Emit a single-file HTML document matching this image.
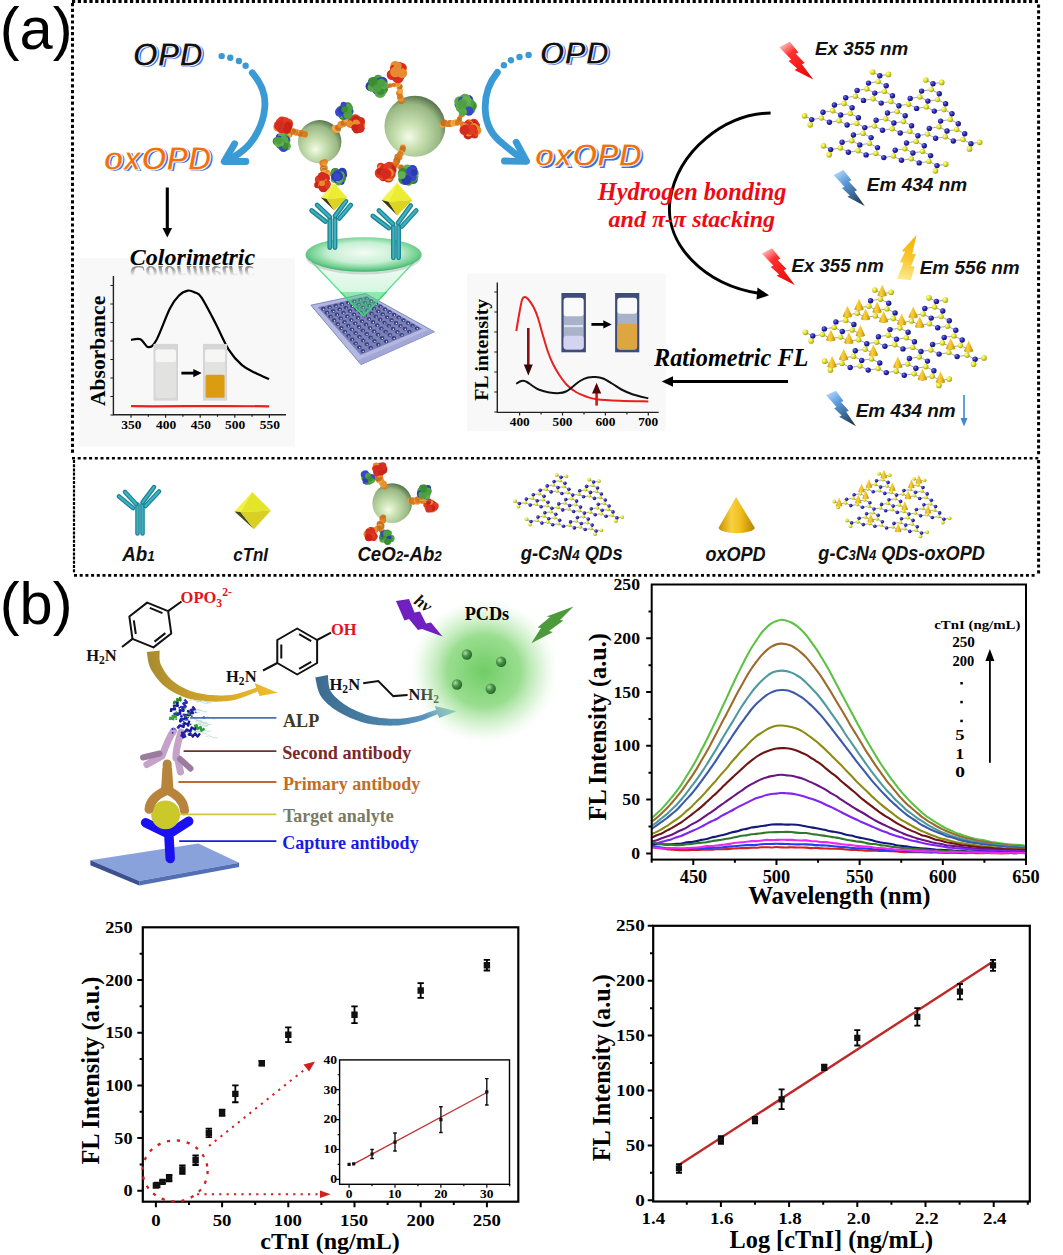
<!DOCTYPE html><html><head><meta charset="utf-8"><style>html,body{margin:0;padding:0;background:#fff;}svg{display:block;}</style></head><body><svg width="1063" height="1255" viewBox="0 0 1063 1255"><defs><radialGradient id="gN" cx="35%" cy="35%" r="65%"><stop offset="0" stop-color="#7c7cf0"/><stop offset="0.5" stop-color="#2828b4"/><stop offset="1" stop-color="#14146c"/></radialGradient>
<radialGradient id="gC" cx="35%" cy="35%" r="65%"><stop offset="0" stop-color="#ffffb0"/><stop offset="0.5" stop-color="#e4e42a"/><stop offset="1" stop-color="#a4a414"/></radialGradient>
<radialGradient id="gSph" cx="42%" cy="62%" r="62%" fx="40%" fy="68%"><stop offset="0" stop-color="#f4fbe8"/><stop offset="0.35" stop-color="#c8e0b0"/><stop offset="0.8" stop-color="#98b884"/><stop offset="1" stop-color="#5e7a52"/></radialGradient>
<radialGradient id="gEll" cx="50%" cy="45%" r="55%"><stop offset="0" stop-color="#f4fcf4"/><stop offset="0.55" stop-color="#c8efd4"/><stop offset="0.85" stop-color="#70d090"/><stop offset="1" stop-color="#40b070"/></radialGradient>
<linearGradient id="gCone" x1="0" y1="0" x2="0" y2="1"><stop offset="0" stop-color="#9ae8b0" stop-opacity="0.55"/><stop offset="1" stop-color="#40d070" stop-opacity="0.15"/></linearGradient>
<linearGradient id="gPlate" x1="0" y1="0" x2="1" y2="1"><stop offset="0" stop-color="#b0b4e0"/><stop offset="0.6" stop-color="#8c90c8"/><stop offset="1" stop-color="#a8acd8"/></linearGradient>
<linearGradient id="gBoltR" x1="0" y1="0" x2="1" y2="1"><stop offset="0" stop-color="#ffb0b0"/><stop offset="0.35" stop-color="#f02020"/><stop offset="1" stop-color="#e00000"/></linearGradient>
<linearGradient id="gBoltB" x1="0" y1="0" x2="1" y2="1"><stop offset="0" stop-color="#a8d8ff"/><stop offset="0.4" stop-color="#4a90d8"/><stop offset="1" stop-color="#1c2c48"/></linearGradient>
<linearGradient id="gBoltY" x1="0" y1="1" x2="1" y2="0"><stop offset="0" stop-color="#fff0a0"/><stop offset="0.4" stop-color="#f8c020"/><stop offset="1" stop-color="#f0a800"/></linearGradient>
<linearGradient id="gCol" x1="0" y1="0" x2="0" y2="1"><stop offset="0" stop-color="#000" stop-opacity="0.45"/><stop offset="1" stop-color="#000" stop-opacity="0"/></linearGradient>
<linearGradient id="gConeY" x1="0" y1="0" x2="1" y2="0"><stop offset="0" stop-color="#c89000"/><stop offset="0.35" stop-color="#f8d040"/><stop offset="0.6" stop-color="#f0c020"/><stop offset="1" stop-color="#b88000"/></linearGradient>
<linearGradient id="gTeal" x1="0" y1="0" x2="1" y2="0"><stop offset="0" stop-color="#1c7888"/><stop offset="0.5" stop-color="#3cb0c0"/><stop offset="1" stop-color="#1c7888"/></linearGradient>
<linearGradient id="gCone2" x1="0" y1="0" x2="0" y2="1"><stop offset="0" stop-color="#c8f0d4" stop-opacity="0.25"/><stop offset="0.7" stop-color="#70e098" stop-opacity="0.35"/><stop offset="1" stop-color="#30d070" stop-opacity="0.6"/></linearGradient><linearGradient id="gRefM" x1="0" y1="0" x2="0" y2="1"><stop offset="0" stop-color="#fff" stop-opacity="0.55"/><stop offset="1" stop-color="#fff" stop-opacity="0"/></linearGradient><mask id="mRef" maskUnits="userSpaceOnUse" x="100" y="264" width="200" height="20"><rect x="100" y="265" width="200" height="11" fill="url(#gRefM)"/></mask><linearGradient id="gb1" gradientUnits="userSpaceOnUse" x1="782.0" y1="41.4" x2="813.3" y2="79.5"><stop offset="0" stop-color="#ffd8d8"/><stop offset="0.3" stop-color="#ff3030"/><stop offset="1" stop-color="#e80000"/></linearGradient><linearGradient id="gb2" gradientUnits="userSpaceOnUse" x1="764.4" y1="247.9" x2="794.8" y2="285.0"><stop offset="0" stop-color="#ffd8d8"/><stop offset="0.3" stop-color="#ff3030"/><stop offset="1" stop-color="#e80000"/></linearGradient><linearGradient id="gb3" gradientUnits="userSpaceOnUse" x1="836.0" y1="169.4" x2="864.8" y2="206.0"><stop offset="0" stop-color="#c0e0ff"/><stop offset="0.35" stop-color="#5a9ada"/><stop offset="0.75" stop-color="#34587c"/><stop offset="1" stop-color="#1a2638"/></linearGradient><linearGradient id="gb4" gradientUnits="userSpaceOnUse" x1="828.6" y1="389.8" x2="856.0" y2="426.2"><stop offset="0" stop-color="#c0e0ff"/><stop offset="0.35" stop-color="#5a9ada"/><stop offset="0.75" stop-color="#34587c"/><stop offset="1" stop-color="#1a2638"/></linearGradient><linearGradient id="gb5" gradientUnits="userSpaceOnUse" x1="902.9" y1="283.4" x2="916.5" y2="235.0"><stop offset="0" stop-color="#fff0a0"/><stop offset="0.5" stop-color="#f8c830"/><stop offset="1" stop-color="#f4b000"/></linearGradient><linearGradient id="gYA" x1="0" y1="0" x2="1" y2="0"><stop offset="0" stop-color="#a88a30"/><stop offset="0.5" stop-color="#d4a628"/><stop offset="1" stop-color="#f0be30"/></linearGradient><linearGradient id="gBA" x1="0" y1="0" x2="1" y2="0"><stop offset="0" stop-color="#3c6c90"/><stop offset="0.6" stop-color="#4e88b0"/><stop offset="1" stop-color="#6aa4cc"/></linearGradient><radialGradient id="gGlow" cx="50%" cy="50%" r="50%"><stop offset="0" stop-color="#70cc64" stop-opacity="1"/><stop offset="0.5" stop-color="#88d87c" stop-opacity="0.85"/><stop offset="0.78" stop-color="#b4e8ac" stop-opacity="0.45"/><stop offset="1" stop-color="#d8f4d4" stop-opacity="0"/></radialGradient><radialGradient id="gDot" cx="35%" cy="35%" r="65%"><stop offset="0" stop-color="#b0dca8"/><stop offset="0.5" stop-color="#4a944a"/><stop offset="1" stop-color="#2a6a2a"/></radialGradient></defs><rect width="1063" height="1255" fill="#fff"/><path d="M72.00,0.10h3.2v3.0h-3.2zM77.80,0.10h3.2v3.0h-3.2zM83.60,0.10h3.2v3.0h-3.2zM89.40,0.10h3.2v3.0h-3.2zM95.20,0.10h3.2v3.0h-3.2zM101.00,0.10h3.2v3.0h-3.2zM106.80,0.10h3.2v3.0h-3.2zM112.60,0.10h3.2v3.0h-3.2zM118.40,0.10h3.2v3.0h-3.2zM124.20,0.10h3.2v3.0h-3.2zM130.00,0.10h3.2v3.0h-3.2zM135.80,0.10h3.2v3.0h-3.2zM141.60,0.10h3.2v3.0h-3.2zM147.40,0.10h3.2v3.0h-3.2zM153.20,0.10h3.2v3.0h-3.2zM159.00,0.10h3.2v3.0h-3.2zM164.80,0.10h3.2v3.0h-3.2zM170.60,0.10h3.2v3.0h-3.2zM176.40,0.10h3.2v3.0h-3.2zM182.20,0.10h3.2v3.0h-3.2zM188.00,0.10h3.2v3.0h-3.2zM193.80,0.10h3.2v3.0h-3.2zM199.60,0.10h3.2v3.0h-3.2zM205.40,0.10h3.2v3.0h-3.2zM211.20,0.10h3.2v3.0h-3.2zM217.00,0.10h3.2v3.0h-3.2zM222.80,0.10h3.2v3.0h-3.2zM228.60,0.10h3.2v3.0h-3.2zM234.40,0.10h3.2v3.0h-3.2zM240.20,0.10h3.2v3.0h-3.2zM246.00,0.10h3.2v3.0h-3.2zM251.80,0.10h3.2v3.0h-3.2zM257.60,0.10h3.2v3.0h-3.2zM263.40,0.10h3.2v3.0h-3.2zM269.20,0.10h3.2v3.0h-3.2zM275.00,0.10h3.2v3.0h-3.2zM280.80,0.10h3.2v3.0h-3.2zM286.60,0.10h3.2v3.0h-3.2zM292.40,0.10h3.2v3.0h-3.2zM298.20,0.10h3.2v3.0h-3.2zM304.00,0.10h3.2v3.0h-3.2zM309.80,0.10h3.2v3.0h-3.2zM315.60,0.10h3.2v3.0h-3.2zM321.40,0.10h3.2v3.0h-3.2zM327.20,0.10h3.2v3.0h-3.2zM333.00,0.10h3.2v3.0h-3.2zM338.80,0.10h3.2v3.0h-3.2zM344.60,0.10h3.2v3.0h-3.2zM350.40,0.10h3.2v3.0h-3.2zM356.20,0.10h3.2v3.0h-3.2zM362.00,0.10h3.2v3.0h-3.2zM367.80,0.10h3.2v3.0h-3.2zM373.60,0.10h3.2v3.0h-3.2zM379.40,0.10h3.2v3.0h-3.2zM385.20,0.10h3.2v3.0h-3.2zM391.00,0.10h3.2v3.0h-3.2zM396.80,0.10h3.2v3.0h-3.2zM402.60,0.10h3.2v3.0h-3.2zM408.40,0.10h3.2v3.0h-3.2zM414.20,0.10h3.2v3.0h-3.2zM420.00,0.10h3.2v3.0h-3.2zM425.80,0.10h3.2v3.0h-3.2zM431.60,0.10h3.2v3.0h-3.2zM437.40,0.10h3.2v3.0h-3.2zM443.20,0.10h3.2v3.0h-3.2zM449.00,0.10h3.2v3.0h-3.2zM454.80,0.10h3.2v3.0h-3.2zM460.60,0.10h3.2v3.0h-3.2zM466.40,0.10h3.2v3.0h-3.2zM472.20,0.10h3.2v3.0h-3.2zM478.00,0.10h3.2v3.0h-3.2zM483.80,0.10h3.2v3.0h-3.2zM489.60,0.10h3.2v3.0h-3.2zM495.40,0.10h3.2v3.0h-3.2zM501.20,0.10h3.2v3.0h-3.2zM507.00,0.10h3.2v3.0h-3.2zM512.80,0.10h3.2v3.0h-3.2zM518.60,0.10h3.2v3.0h-3.2zM524.40,0.10h3.2v3.0h-3.2zM530.20,0.10h3.2v3.0h-3.2zM536.00,0.10h3.2v3.0h-3.2zM541.80,0.10h3.2v3.0h-3.2zM547.60,0.10h3.2v3.0h-3.2zM553.40,0.10h3.2v3.0h-3.2zM559.20,0.10h3.2v3.0h-3.2zM565.00,0.10h3.2v3.0h-3.2zM570.80,0.10h3.2v3.0h-3.2zM576.60,0.10h3.2v3.0h-3.2zM582.40,0.10h3.2v3.0h-3.2zM588.20,0.10h3.2v3.0h-3.2zM594.00,0.10h3.2v3.0h-3.2zM599.80,0.10h3.2v3.0h-3.2zM605.60,0.10h3.2v3.0h-3.2zM611.40,0.10h3.2v3.0h-3.2zM617.20,0.10h3.2v3.0h-3.2zM623.00,0.10h3.2v3.0h-3.2zM628.80,0.10h3.2v3.0h-3.2zM634.60,0.10h3.2v3.0h-3.2zM640.40,0.10h3.2v3.0h-3.2zM646.20,0.10h3.2v3.0h-3.2zM652.00,0.10h3.2v3.0h-3.2zM657.80,0.10h3.2v3.0h-3.2zM663.60,0.10h3.2v3.0h-3.2zM669.40,0.10h3.2v3.0h-3.2zM675.20,0.10h3.2v3.0h-3.2zM681.00,0.10h3.2v3.0h-3.2zM686.80,0.10h3.2v3.0h-3.2zM692.60,0.10h3.2v3.0h-3.2zM698.40,0.10h3.2v3.0h-3.2zM704.20,0.10h3.2v3.0h-3.2zM710.00,0.10h3.2v3.0h-3.2zM715.80,0.10h3.2v3.0h-3.2zM721.60,0.10h3.2v3.0h-3.2zM727.40,0.10h3.2v3.0h-3.2zM733.20,0.10h3.2v3.0h-3.2zM739.00,0.10h3.2v3.0h-3.2zM744.80,0.10h3.2v3.0h-3.2zM750.60,0.10h3.2v3.0h-3.2zM756.40,0.10h3.2v3.0h-3.2zM762.20,0.10h3.2v3.0h-3.2zM768.00,0.10h3.2v3.0h-3.2zM773.80,0.10h3.2v3.0h-3.2zM779.60,0.10h3.2v3.0h-3.2zM785.40,0.10h3.2v3.0h-3.2zM791.20,0.10h3.2v3.0h-3.2zM797.00,0.10h3.2v3.0h-3.2zM802.80,0.10h3.2v3.0h-3.2zM808.60,0.10h3.2v3.0h-3.2zM814.40,0.10h3.2v3.0h-3.2zM820.20,0.10h3.2v3.0h-3.2zM826.00,0.10h3.2v3.0h-3.2zM831.80,0.10h3.2v3.0h-3.2zM837.60,0.10h3.2v3.0h-3.2zM843.40,0.10h3.2v3.0h-3.2zM849.20,0.10h3.2v3.0h-3.2zM855.00,0.10h3.2v3.0h-3.2zM860.80,0.10h3.2v3.0h-3.2zM866.60,0.10h3.2v3.0h-3.2zM872.40,0.10h3.2v3.0h-3.2zM878.20,0.10h3.2v3.0h-3.2zM884.00,0.10h3.2v3.0h-3.2zM889.80,0.10h3.2v3.0h-3.2zM895.60,0.10h3.2v3.0h-3.2zM901.40,0.10h3.2v3.0h-3.2zM907.20,0.10h3.2v3.0h-3.2zM913.00,0.10h3.2v3.0h-3.2zM918.80,0.10h3.2v3.0h-3.2zM924.60,0.10h3.2v3.0h-3.2zM930.40,0.10h3.2v3.0h-3.2zM936.20,0.10h3.2v3.0h-3.2zM942.00,0.10h3.2v3.0h-3.2zM947.80,0.10h3.2v3.0h-3.2zM953.60,0.10h3.2v3.0h-3.2zM959.40,0.10h3.2v3.0h-3.2zM965.20,0.10h3.2v3.0h-3.2zM971.00,0.10h3.2v3.0h-3.2zM976.80,0.10h3.2v3.0h-3.2zM982.60,0.10h3.2v3.0h-3.2zM988.40,0.10h3.2v3.0h-3.2zM994.20,0.10h3.2v3.0h-3.2zM1000.00,0.10h3.2v3.0h-3.2zM1005.80,0.10h3.2v3.0h-3.2zM1011.60,0.10h3.2v3.0h-3.2zM1017.40,0.10h3.2v3.0h-3.2zM1023.20,0.10h3.2v3.0h-3.2zM1029.00,0.10h3.2v3.0h-3.2zM1034.80,0.10h3.2v3.0h-3.2z" fill="#000"/>
<path d="M71.00,3.00h3.0v3.2h-3.0zM71.00,8.80h3.0v3.2h-3.0zM71.00,14.60h3.0v3.2h-3.0zM71.00,20.40h3.0v3.2h-3.0zM71.00,26.20h3.0v3.2h-3.0zM71.00,32.00h3.0v3.2h-3.0zM71.00,37.80h3.0v3.2h-3.0zM71.00,43.60h3.0v3.2h-3.0zM71.00,49.40h3.0v3.2h-3.0zM71.00,55.20h3.0v3.2h-3.0zM71.00,61.00h3.0v3.2h-3.0zM71.00,66.80h3.0v3.2h-3.0zM71.00,72.60h3.0v3.2h-3.0zM71.00,78.40h3.0v3.2h-3.0zM71.00,84.20h3.0v3.2h-3.0zM71.00,90.00h3.0v3.2h-3.0zM71.00,95.80h3.0v3.2h-3.0zM71.00,101.60h3.0v3.2h-3.0zM71.00,107.40h3.0v3.2h-3.0zM71.00,113.20h3.0v3.2h-3.0zM71.00,119.00h3.0v3.2h-3.0zM71.00,124.80h3.0v3.2h-3.0zM71.00,130.60h3.0v3.2h-3.0zM71.00,136.40h3.0v3.2h-3.0zM71.00,142.20h3.0v3.2h-3.0zM71.00,148.00h3.0v3.2h-3.0zM71.00,153.80h3.0v3.2h-3.0zM71.00,159.60h3.0v3.2h-3.0zM71.00,165.40h3.0v3.2h-3.0zM71.00,171.20h3.0v3.2h-3.0zM71.00,177.00h3.0v3.2h-3.0zM71.00,182.80h3.0v3.2h-3.0zM71.00,188.60h3.0v3.2h-3.0zM71.00,194.40h3.0v3.2h-3.0zM71.00,200.20h3.0v3.2h-3.0zM71.00,206.00h3.0v3.2h-3.0zM71.00,211.80h3.0v3.2h-3.0zM71.00,217.60h3.0v3.2h-3.0zM71.00,223.40h3.0v3.2h-3.0zM71.00,229.20h3.0v3.2h-3.0zM71.00,235.00h3.0v3.2h-3.0zM71.00,240.80h3.0v3.2h-3.0zM71.00,246.60h3.0v3.2h-3.0zM71.00,252.40h3.0v3.2h-3.0zM71.00,258.20h3.0v3.2h-3.0zM71.00,264.00h3.0v3.2h-3.0zM71.00,269.80h3.0v3.2h-3.0zM71.00,275.60h3.0v3.2h-3.0zM71.00,281.40h3.0v3.2h-3.0zM71.00,287.20h3.0v3.2h-3.0zM71.00,293.00h3.0v3.2h-3.0zM71.00,298.80h3.0v3.2h-3.0zM71.00,304.60h3.0v3.2h-3.0zM71.00,310.40h3.0v3.2h-3.0zM71.00,316.20h3.0v3.2h-3.0zM71.00,322.00h3.0v3.2h-3.0zM71.00,327.80h3.0v3.2h-3.0zM71.00,333.60h3.0v3.2h-3.0zM71.00,339.40h3.0v3.2h-3.0zM71.00,345.20h3.0v3.2h-3.0zM71.00,351.00h3.0v3.2h-3.0zM71.00,356.80h3.0v3.2h-3.0zM71.00,362.60h3.0v3.2h-3.0zM71.00,368.40h3.0v3.2h-3.0zM71.00,374.20h3.0v3.2h-3.0zM71.00,380.00h3.0v3.2h-3.0zM71.00,385.80h3.0v3.2h-3.0zM71.00,391.60h3.0v3.2h-3.0zM71.00,397.40h3.0v3.2h-3.0zM71.00,403.20h3.0v3.2h-3.0zM71.00,409.00h3.0v3.2h-3.0zM71.00,414.80h3.0v3.2h-3.0zM71.00,420.60h3.0v3.2h-3.0zM71.00,426.40h3.0v3.2h-3.0zM71.00,432.20h3.0v3.2h-3.0zM71.00,438.00h3.0v3.2h-3.0zM71.00,443.80h3.0v3.2h-3.0zM71.00,449.60h3.0v3.2h-3.0z" fill="#000"/>
<path d="M1037.10,4.50h3.0v3.2h-3.0zM1037.10,10.30h3.0v3.2h-3.0zM1037.10,16.10h3.0v3.2h-3.0zM1037.10,21.90h3.0v3.2h-3.0zM1037.10,27.70h3.0v3.2h-3.0zM1037.10,33.50h3.0v3.2h-3.0zM1037.10,39.30h3.0v3.2h-3.0zM1037.10,45.10h3.0v3.2h-3.0zM1037.10,50.90h3.0v3.2h-3.0zM1037.10,56.70h3.0v3.2h-3.0zM1037.10,62.50h3.0v3.2h-3.0zM1037.10,68.30h3.0v3.2h-3.0zM1037.10,74.10h3.0v3.2h-3.0zM1037.10,79.90h3.0v3.2h-3.0zM1037.10,85.70h3.0v3.2h-3.0zM1037.10,91.50h3.0v3.2h-3.0zM1037.10,97.30h3.0v3.2h-3.0zM1037.10,103.10h3.0v3.2h-3.0zM1037.10,108.90h3.0v3.2h-3.0zM1037.10,114.70h3.0v3.2h-3.0zM1037.10,120.50h3.0v3.2h-3.0zM1037.10,126.30h3.0v3.2h-3.0zM1037.10,132.10h3.0v3.2h-3.0zM1037.10,137.90h3.0v3.2h-3.0zM1037.10,143.70h3.0v3.2h-3.0zM1037.10,149.50h3.0v3.2h-3.0zM1037.10,155.30h3.0v3.2h-3.0zM1037.10,161.10h3.0v3.2h-3.0zM1037.10,166.90h3.0v3.2h-3.0zM1037.10,172.70h3.0v3.2h-3.0zM1037.10,178.50h3.0v3.2h-3.0zM1037.10,184.30h3.0v3.2h-3.0zM1037.10,190.10h3.0v3.2h-3.0zM1037.10,195.90h3.0v3.2h-3.0zM1037.10,201.70h3.0v3.2h-3.0zM1037.10,207.50h3.0v3.2h-3.0zM1037.10,213.30h3.0v3.2h-3.0zM1037.10,219.10h3.0v3.2h-3.0zM1037.10,224.90h3.0v3.2h-3.0zM1037.10,230.70h3.0v3.2h-3.0zM1037.10,236.50h3.0v3.2h-3.0zM1037.10,242.30h3.0v3.2h-3.0zM1037.10,248.10h3.0v3.2h-3.0zM1037.10,253.90h3.0v3.2h-3.0zM1037.10,259.70h3.0v3.2h-3.0zM1037.10,265.50h3.0v3.2h-3.0zM1037.10,271.30h3.0v3.2h-3.0zM1037.10,277.10h3.0v3.2h-3.0zM1037.10,282.90h3.0v3.2h-3.0zM1037.10,288.70h3.0v3.2h-3.0zM1037.10,294.50h3.0v3.2h-3.0zM1037.10,300.30h3.0v3.2h-3.0zM1037.10,306.10h3.0v3.2h-3.0zM1037.10,311.90h3.0v3.2h-3.0zM1037.10,317.70h3.0v3.2h-3.0zM1037.10,323.50h3.0v3.2h-3.0zM1037.10,329.30h3.0v3.2h-3.0zM1037.10,335.10h3.0v3.2h-3.0zM1037.10,340.90h3.0v3.2h-3.0zM1037.10,346.70h3.0v3.2h-3.0zM1037.10,352.50h3.0v3.2h-3.0zM1037.10,358.30h3.0v3.2h-3.0zM1037.10,364.10h3.0v3.2h-3.0zM1037.10,369.90h3.0v3.2h-3.0zM1037.10,375.70h3.0v3.2h-3.0zM1037.10,381.50h3.0v3.2h-3.0zM1037.10,387.30h3.0v3.2h-3.0zM1037.10,393.10h3.0v3.2h-3.0zM1037.10,398.90h3.0v3.2h-3.0zM1037.10,404.70h3.0v3.2h-3.0zM1037.10,410.50h3.0v3.2h-3.0zM1037.10,416.30h3.0v3.2h-3.0zM1037.10,422.10h3.0v3.2h-3.0zM1037.10,427.90h3.0v3.2h-3.0zM1037.10,433.70h3.0v3.2h-3.0zM1037.10,439.50h3.0v3.2h-3.0zM1037.10,445.30h3.0v3.2h-3.0zM1037.10,451.10h3.0v3.2h-3.0z" fill="#000"/>
<path d="M72.00,456.90h3.0v2.6h-3.0zM77.70,456.90h3.0v2.6h-3.0zM83.40,456.90h3.0v2.6h-3.0zM89.10,456.90h3.0v2.6h-3.0zM94.80,456.90h3.0v2.6h-3.0zM100.50,456.90h3.0v2.6h-3.0zM106.20,456.90h3.0v2.6h-3.0zM111.90,456.90h3.0v2.6h-3.0zM117.60,456.90h3.0v2.6h-3.0zM123.30,456.90h3.0v2.6h-3.0zM129.00,456.90h3.0v2.6h-3.0zM134.70,456.90h3.0v2.6h-3.0zM140.40,456.90h3.0v2.6h-3.0zM146.10,456.90h3.0v2.6h-3.0zM151.80,456.90h3.0v2.6h-3.0zM157.50,456.90h3.0v2.6h-3.0zM163.20,456.90h3.0v2.6h-3.0zM168.90,456.90h3.0v2.6h-3.0zM174.60,456.90h3.0v2.6h-3.0zM180.30,456.90h3.0v2.6h-3.0zM186.00,456.90h3.0v2.6h-3.0zM191.70,456.90h3.0v2.6h-3.0zM197.40,456.90h3.0v2.6h-3.0zM203.10,456.90h3.0v2.6h-3.0zM208.80,456.90h3.0v2.6h-3.0zM214.50,456.90h3.0v2.6h-3.0zM220.20,456.90h3.0v2.6h-3.0zM225.90,456.90h3.0v2.6h-3.0zM231.60,456.90h3.0v2.6h-3.0zM237.30,456.90h3.0v2.6h-3.0zM243.00,456.90h3.0v2.6h-3.0zM248.70,456.90h3.0v2.6h-3.0zM254.40,456.90h3.0v2.6h-3.0zM260.10,456.90h3.0v2.6h-3.0zM265.80,456.90h3.0v2.6h-3.0zM271.50,456.90h3.0v2.6h-3.0zM277.20,456.90h3.0v2.6h-3.0zM282.90,456.90h3.0v2.6h-3.0zM288.60,456.90h3.0v2.6h-3.0zM294.30,456.90h3.0v2.6h-3.0zM300.00,456.90h3.0v2.6h-3.0zM305.70,456.90h3.0v2.6h-3.0zM311.40,456.90h3.0v2.6h-3.0zM317.10,456.90h3.0v2.6h-3.0zM322.80,456.90h3.0v2.6h-3.0zM328.50,456.90h3.0v2.6h-3.0zM334.20,456.90h3.0v2.6h-3.0zM339.90,456.90h3.0v2.6h-3.0zM345.60,456.90h3.0v2.6h-3.0zM351.30,456.90h3.0v2.6h-3.0zM357.00,456.90h3.0v2.6h-3.0zM362.70,456.90h3.0v2.6h-3.0zM368.40,456.90h3.0v2.6h-3.0zM374.10,456.90h3.0v2.6h-3.0zM379.80,456.90h3.0v2.6h-3.0zM385.50,456.90h3.0v2.6h-3.0zM391.20,456.90h3.0v2.6h-3.0zM396.90,456.90h3.0v2.6h-3.0zM402.60,456.90h3.0v2.6h-3.0zM408.30,456.90h3.0v2.6h-3.0zM414.00,456.90h3.0v2.6h-3.0zM419.70,456.90h3.0v2.6h-3.0zM425.40,456.90h3.0v2.6h-3.0zM431.10,456.90h3.0v2.6h-3.0zM436.80,456.90h3.0v2.6h-3.0zM442.50,456.90h3.0v2.6h-3.0zM448.20,456.90h3.0v2.6h-3.0zM453.90,456.90h3.0v2.6h-3.0zM459.60,456.90h3.0v2.6h-3.0zM465.30,456.90h3.0v2.6h-3.0zM471.00,456.90h3.0v2.6h-3.0zM476.70,456.90h3.0v2.6h-3.0zM482.40,456.90h3.0v2.6h-3.0zM488.10,456.90h3.0v2.6h-3.0zM493.80,456.90h3.0v2.6h-3.0zM499.50,456.90h3.0v2.6h-3.0zM505.20,456.90h3.0v2.6h-3.0zM510.90,456.90h3.0v2.6h-3.0zM516.60,456.90h3.0v2.6h-3.0zM522.30,456.90h3.0v2.6h-3.0zM528.00,456.90h3.0v2.6h-3.0zM533.70,456.90h3.0v2.6h-3.0zM539.40,456.90h3.0v2.6h-3.0zM545.10,456.90h3.0v2.6h-3.0zM550.80,456.90h3.0v2.6h-3.0zM556.50,456.90h3.0v2.6h-3.0zM562.20,456.90h3.0v2.6h-3.0zM567.90,456.90h3.0v2.6h-3.0zM573.60,456.90h3.0v2.6h-3.0zM579.30,456.90h3.0v2.6h-3.0zM585.00,456.90h3.0v2.6h-3.0zM590.70,456.90h3.0v2.6h-3.0zM596.40,456.90h3.0v2.6h-3.0zM602.10,456.90h3.0v2.6h-3.0zM607.80,456.90h3.0v2.6h-3.0zM613.50,456.90h3.0v2.6h-3.0zM619.20,456.90h3.0v2.6h-3.0zM624.90,456.90h3.0v2.6h-3.0zM630.60,456.90h3.0v2.6h-3.0zM636.30,456.90h3.0v2.6h-3.0zM642.00,456.90h3.0v2.6h-3.0zM647.70,456.90h3.0v2.6h-3.0zM653.40,456.90h3.0v2.6h-3.0zM659.10,456.90h3.0v2.6h-3.0zM664.80,456.90h3.0v2.6h-3.0zM670.50,456.90h3.0v2.6h-3.0zM676.20,456.90h3.0v2.6h-3.0zM681.90,456.90h3.0v2.6h-3.0zM687.60,456.90h3.0v2.6h-3.0zM693.30,456.90h3.0v2.6h-3.0zM699.00,456.90h3.0v2.6h-3.0zM704.70,456.90h3.0v2.6h-3.0zM710.40,456.90h3.0v2.6h-3.0zM716.10,456.90h3.0v2.6h-3.0zM721.80,456.90h3.0v2.6h-3.0zM727.50,456.90h3.0v2.6h-3.0zM733.20,456.90h3.0v2.6h-3.0zM738.90,456.90h3.0v2.6h-3.0zM744.60,456.90h3.0v2.6h-3.0zM750.30,456.90h3.0v2.6h-3.0zM756.00,456.90h3.0v2.6h-3.0zM761.70,456.90h3.0v2.6h-3.0zM767.40,456.90h3.0v2.6h-3.0zM773.10,456.90h3.0v2.6h-3.0zM778.80,456.90h3.0v2.6h-3.0zM784.50,456.90h3.0v2.6h-3.0zM790.20,456.90h3.0v2.6h-3.0zM795.90,456.90h3.0v2.6h-3.0zM801.60,456.90h3.0v2.6h-3.0zM807.30,456.90h3.0v2.6h-3.0zM813.00,456.90h3.0v2.6h-3.0zM818.70,456.90h3.0v2.6h-3.0zM824.40,456.90h3.0v2.6h-3.0zM830.10,456.90h3.0v2.6h-3.0zM835.80,456.90h3.0v2.6h-3.0zM841.50,456.90h3.0v2.6h-3.0zM847.20,456.90h3.0v2.6h-3.0zM852.90,456.90h3.0v2.6h-3.0zM858.60,456.90h3.0v2.6h-3.0zM864.30,456.90h3.0v2.6h-3.0zM870.00,456.90h3.0v2.6h-3.0zM875.70,456.90h3.0v2.6h-3.0zM881.40,456.90h3.0v2.6h-3.0zM887.10,456.90h3.0v2.6h-3.0zM892.80,456.90h3.0v2.6h-3.0zM898.50,456.90h3.0v2.6h-3.0zM904.20,456.90h3.0v2.6h-3.0zM909.90,456.90h3.0v2.6h-3.0zM915.60,456.90h3.0v2.6h-3.0zM921.30,456.90h3.0v2.6h-3.0zM927.00,456.90h3.0v2.6h-3.0zM932.70,456.90h3.0v2.6h-3.0zM938.40,456.90h3.0v2.6h-3.0zM944.10,456.90h3.0v2.6h-3.0zM949.80,456.90h3.0v2.6h-3.0zM955.50,456.90h3.0v2.6h-3.0zM961.20,456.90h3.0v2.6h-3.0zM966.90,456.90h3.0v2.6h-3.0zM972.60,456.90h3.0v2.6h-3.0zM978.30,456.90h3.0v2.6h-3.0zM984.00,456.90h3.0v2.6h-3.0zM989.70,456.90h3.0v2.6h-3.0zM995.40,456.90h3.0v2.6h-3.0zM1001.10,456.90h3.0v2.6h-3.0zM1006.80,456.90h3.0v2.6h-3.0zM1012.50,456.90h3.0v2.6h-3.0zM1018.20,456.90h3.0v2.6h-3.0zM1023.90,456.90h3.0v2.6h-3.0zM1029.60,456.90h3.0v2.6h-3.0zM1035.30,456.90h3.0v2.6h-3.0z" fill="#000"/>
<path d="M72.90,460.00h2.2v3.0h-2.2zM72.90,464.20h2.2v3.0h-2.2zM72.90,468.40h2.2v3.0h-2.2zM72.90,472.60h2.2v3.0h-2.2zM72.90,476.80h2.2v3.0h-2.2zM72.90,481.00h2.2v3.0h-2.2zM72.90,485.20h2.2v3.0h-2.2zM72.90,489.40h2.2v3.0h-2.2zM72.90,493.60h2.2v3.0h-2.2zM72.90,497.80h2.2v3.0h-2.2zM72.90,502.00h2.2v3.0h-2.2zM72.90,506.20h2.2v3.0h-2.2zM72.90,510.40h2.2v3.0h-2.2zM72.90,514.60h2.2v3.0h-2.2zM72.90,518.80h2.2v3.0h-2.2zM72.90,523.00h2.2v3.0h-2.2zM72.90,527.20h2.2v3.0h-2.2zM72.90,531.40h2.2v3.0h-2.2zM72.90,535.60h2.2v3.0h-2.2zM72.90,539.80h2.2v3.0h-2.2zM72.90,544.00h2.2v3.0h-2.2zM72.90,548.20h2.2v3.0h-2.2zM72.90,552.40h2.2v3.0h-2.2zM72.90,556.60h2.2v3.0h-2.2zM72.90,560.80h2.2v3.0h-2.2zM72.90,565.00h2.2v3.0h-2.2zM72.90,569.20h2.2v3.0h-2.2z" fill="#000"/>
<path d="M1037.10,460.00h3.0v3.2h-3.0zM1037.10,465.80h3.0v3.2h-3.0zM1037.10,471.60h3.0v3.2h-3.0zM1037.10,477.40h3.0v3.2h-3.0zM1037.10,483.20h3.0v3.2h-3.0zM1037.10,489.00h3.0v3.2h-3.0zM1037.10,494.80h3.0v3.2h-3.0zM1037.10,500.60h3.0v3.2h-3.0zM1037.10,506.40h3.0v3.2h-3.0zM1037.10,512.20h3.0v3.2h-3.0zM1037.10,518.00h3.0v3.2h-3.0zM1037.10,523.80h3.0v3.2h-3.0zM1037.10,529.60h3.0v3.2h-3.0zM1037.10,535.40h3.0v3.2h-3.0zM1037.10,541.20h3.0v3.2h-3.0zM1037.10,547.00h3.0v3.2h-3.0zM1037.10,552.80h3.0v3.2h-3.0zM1037.10,558.60h3.0v3.2h-3.0zM1037.10,564.40h3.0v3.2h-3.0zM1037.10,570.20h3.0v3.2h-3.0z" fill="#000"/>
<path d="M74.00,574.10h3.0v2.6h-3.0zM79.70,574.10h3.0v2.6h-3.0zM85.40,574.10h3.0v2.6h-3.0zM91.10,574.10h3.0v2.6h-3.0zM96.80,574.10h3.0v2.6h-3.0zM102.50,574.10h3.0v2.6h-3.0zM108.20,574.10h3.0v2.6h-3.0zM113.90,574.10h3.0v2.6h-3.0zM119.60,574.10h3.0v2.6h-3.0zM125.30,574.10h3.0v2.6h-3.0zM131.00,574.10h3.0v2.6h-3.0zM136.70,574.10h3.0v2.6h-3.0zM142.40,574.10h3.0v2.6h-3.0zM148.10,574.10h3.0v2.6h-3.0zM153.80,574.10h3.0v2.6h-3.0zM159.50,574.10h3.0v2.6h-3.0zM165.20,574.10h3.0v2.6h-3.0zM170.90,574.10h3.0v2.6h-3.0zM176.60,574.10h3.0v2.6h-3.0zM182.30,574.10h3.0v2.6h-3.0zM188.00,574.10h3.0v2.6h-3.0zM193.70,574.10h3.0v2.6h-3.0zM199.40,574.10h3.0v2.6h-3.0zM205.10,574.10h3.0v2.6h-3.0zM210.80,574.10h3.0v2.6h-3.0zM216.50,574.10h3.0v2.6h-3.0zM222.20,574.10h3.0v2.6h-3.0zM227.90,574.10h3.0v2.6h-3.0zM233.60,574.10h3.0v2.6h-3.0zM239.30,574.10h3.0v2.6h-3.0zM245.00,574.10h3.0v2.6h-3.0zM250.70,574.10h3.0v2.6h-3.0zM256.40,574.10h3.0v2.6h-3.0zM262.10,574.10h3.0v2.6h-3.0zM267.80,574.10h3.0v2.6h-3.0zM273.50,574.10h3.0v2.6h-3.0zM279.20,574.10h3.0v2.6h-3.0zM284.90,574.10h3.0v2.6h-3.0zM290.60,574.10h3.0v2.6h-3.0zM296.30,574.10h3.0v2.6h-3.0zM302.00,574.10h3.0v2.6h-3.0zM307.70,574.10h3.0v2.6h-3.0zM313.40,574.10h3.0v2.6h-3.0zM319.10,574.10h3.0v2.6h-3.0zM324.80,574.10h3.0v2.6h-3.0zM330.50,574.10h3.0v2.6h-3.0zM336.20,574.10h3.0v2.6h-3.0zM341.90,574.10h3.0v2.6h-3.0zM347.60,574.10h3.0v2.6h-3.0zM353.30,574.10h3.0v2.6h-3.0zM359.00,574.10h3.0v2.6h-3.0zM364.70,574.10h3.0v2.6h-3.0zM370.40,574.10h3.0v2.6h-3.0zM376.10,574.10h3.0v2.6h-3.0zM381.80,574.10h3.0v2.6h-3.0zM387.50,574.10h3.0v2.6h-3.0zM393.20,574.10h3.0v2.6h-3.0zM398.90,574.10h3.0v2.6h-3.0zM404.60,574.10h3.0v2.6h-3.0zM410.30,574.10h3.0v2.6h-3.0zM416.00,574.10h3.0v2.6h-3.0zM421.70,574.10h3.0v2.6h-3.0zM427.40,574.10h3.0v2.6h-3.0zM433.10,574.10h3.0v2.6h-3.0zM438.80,574.10h3.0v2.6h-3.0zM444.50,574.10h3.0v2.6h-3.0zM450.20,574.10h3.0v2.6h-3.0zM455.90,574.10h3.0v2.6h-3.0zM461.60,574.10h3.0v2.6h-3.0zM467.30,574.10h3.0v2.6h-3.0zM473.00,574.10h3.0v2.6h-3.0zM478.70,574.10h3.0v2.6h-3.0zM484.40,574.10h3.0v2.6h-3.0zM490.10,574.10h3.0v2.6h-3.0zM495.80,574.10h3.0v2.6h-3.0zM501.50,574.10h3.0v2.6h-3.0zM507.20,574.10h3.0v2.6h-3.0zM512.90,574.10h3.0v2.6h-3.0zM518.60,574.10h3.0v2.6h-3.0zM524.30,574.10h3.0v2.6h-3.0zM530.00,574.10h3.0v2.6h-3.0zM535.70,574.10h3.0v2.6h-3.0zM541.40,574.10h3.0v2.6h-3.0zM547.10,574.10h3.0v2.6h-3.0zM552.80,574.10h3.0v2.6h-3.0zM558.50,574.10h3.0v2.6h-3.0zM564.20,574.10h3.0v2.6h-3.0zM569.90,574.10h3.0v2.6h-3.0zM575.60,574.10h3.0v2.6h-3.0zM581.30,574.10h3.0v2.6h-3.0zM587.00,574.10h3.0v2.6h-3.0zM592.70,574.10h3.0v2.6h-3.0zM598.40,574.10h3.0v2.6h-3.0zM604.10,574.10h3.0v2.6h-3.0zM609.80,574.10h3.0v2.6h-3.0zM615.50,574.10h3.0v2.6h-3.0zM621.20,574.10h3.0v2.6h-3.0zM626.90,574.10h3.0v2.6h-3.0zM632.60,574.10h3.0v2.6h-3.0zM638.30,574.10h3.0v2.6h-3.0zM644.00,574.10h3.0v2.6h-3.0zM649.70,574.10h3.0v2.6h-3.0zM655.40,574.10h3.0v2.6h-3.0zM661.10,574.10h3.0v2.6h-3.0zM666.80,574.10h3.0v2.6h-3.0zM672.50,574.10h3.0v2.6h-3.0zM678.20,574.10h3.0v2.6h-3.0zM683.90,574.10h3.0v2.6h-3.0zM689.60,574.10h3.0v2.6h-3.0zM695.30,574.10h3.0v2.6h-3.0zM701.00,574.10h3.0v2.6h-3.0zM706.70,574.10h3.0v2.6h-3.0zM712.40,574.10h3.0v2.6h-3.0zM718.10,574.10h3.0v2.6h-3.0zM723.80,574.10h3.0v2.6h-3.0zM729.50,574.10h3.0v2.6h-3.0zM735.20,574.10h3.0v2.6h-3.0zM740.90,574.10h3.0v2.6h-3.0zM746.60,574.10h3.0v2.6h-3.0zM752.30,574.10h3.0v2.6h-3.0zM758.00,574.10h3.0v2.6h-3.0zM763.70,574.10h3.0v2.6h-3.0zM769.40,574.10h3.0v2.6h-3.0zM775.10,574.10h3.0v2.6h-3.0zM780.80,574.10h3.0v2.6h-3.0zM786.50,574.10h3.0v2.6h-3.0zM792.20,574.10h3.0v2.6h-3.0zM797.90,574.10h3.0v2.6h-3.0zM803.60,574.10h3.0v2.6h-3.0zM809.30,574.10h3.0v2.6h-3.0zM815.00,574.10h3.0v2.6h-3.0zM820.70,574.10h3.0v2.6h-3.0zM826.40,574.10h3.0v2.6h-3.0zM832.10,574.10h3.0v2.6h-3.0zM837.80,574.10h3.0v2.6h-3.0zM843.50,574.10h3.0v2.6h-3.0zM849.20,574.10h3.0v2.6h-3.0zM854.90,574.10h3.0v2.6h-3.0zM860.60,574.10h3.0v2.6h-3.0zM866.30,574.10h3.0v2.6h-3.0zM872.00,574.10h3.0v2.6h-3.0zM877.70,574.10h3.0v2.6h-3.0zM883.40,574.10h3.0v2.6h-3.0zM889.10,574.10h3.0v2.6h-3.0zM894.80,574.10h3.0v2.6h-3.0zM900.50,574.10h3.0v2.6h-3.0zM906.20,574.10h3.0v2.6h-3.0zM911.90,574.10h3.0v2.6h-3.0zM917.60,574.10h3.0v2.6h-3.0zM923.30,574.10h3.0v2.6h-3.0zM929.00,574.10h3.0v2.6h-3.0zM934.70,574.10h3.0v2.6h-3.0zM940.40,574.10h3.0v2.6h-3.0zM946.10,574.10h3.0v2.6h-3.0zM951.80,574.10h3.0v2.6h-3.0zM957.50,574.10h3.0v2.6h-3.0zM963.20,574.10h3.0v2.6h-3.0zM968.90,574.10h3.0v2.6h-3.0zM974.60,574.10h3.0v2.6h-3.0zM980.30,574.10h3.0v2.6h-3.0zM986.00,574.10h3.0v2.6h-3.0zM991.70,574.10h3.0v2.6h-3.0zM997.40,574.10h3.0v2.6h-3.0zM1003.10,574.10h3.0v2.6h-3.0zM1008.80,574.10h3.0v2.6h-3.0zM1014.50,574.10h3.0v2.6h-3.0zM1020.20,574.10h3.0v2.6h-3.0zM1025.90,574.10h3.0v2.6h-3.0zM1031.60,574.10h3.0v2.6h-3.0z" fill="#000"/>
<text x="-0.32" y="49.00" font-family="Liberation Sans" font-size="59.55" fill="#000" >(a)</text>
<text x="-0.32" y="623.80" font-family="Liberation Sans" font-size="59.55" fill="#000" >(b)</text>
<path d="M651.70,818.13 C652.53,817.38 655.03,815.17 656.69,813.63 C658.35,812.09 660.02,810.59 661.68,808.88 C663.34,807.18 665.01,805.29 666.67,803.38 C668.34,801.47 670.00,799.46 671.66,797.43 C673.33,795.40 674.99,793.43 676.65,791.21 C678.32,789.00 679.98,786.67 681.64,784.14 C683.31,781.60 684.97,778.69 686.63,776.01 C688.30,773.33 689.96,770.85 691.63,768.06 C693.29,765.27 694.95,762.35 696.62,759.27 C698.28,756.18 699.94,752.74 701.61,749.54 C703.27,746.34 704.93,743.36 706.60,740.05 C708.26,736.74 709.92,733.13 711.59,729.69 C713.25,726.25 714.92,722.92 716.58,719.41 C718.24,715.90 719.91,712.19 721.57,708.64 C723.23,705.10 724.90,701.72 726.56,698.13 C728.22,694.55 729.89,690.75 731.55,687.14 C733.21,683.53 734.88,679.92 736.54,676.48 C738.20,673.03 739.87,669.77 741.53,666.48 C743.20,663.19 744.86,659.82 746.52,656.71 C748.19,653.61 749.85,650.59 751.51,647.83 C753.18,645.07 754.84,642.65 756.50,640.16 C758.17,637.68 759.83,635.03 761.49,632.91 C763.16,630.79 764.82,629.00 766.49,627.43 C768.15,625.85 769.81,624.53 771.48,623.47 C773.14,622.42 774.80,621.71 776.47,621.10 C778.13,620.48 779.79,619.87 781.46,619.80 C783.12,619.73 784.78,620.22 786.45,620.67 C788.11,621.12 789.78,621.67 791.44,622.49 C793.10,623.32 794.77,624.35 796.43,625.62 C798.09,626.88 799.76,628.45 801.42,630.09 C803.08,631.72 804.75,633.42 806.41,635.43 C808.07,637.43 809.74,639.84 811.40,642.12 C813.06,644.40 814.73,646.61 816.39,649.13 C818.06,651.65 819.72,654.53 821.38,657.25 C823.05,659.97 824.71,662.60 826.37,665.46 C828.04,668.32 829.70,671.31 831.36,674.40 C833.03,677.49 834.69,680.86 836.35,684.03 C838.02,687.20 839.68,690.27 841.35,693.41 C843.01,696.54 844.67,699.76 846.34,702.84 C848.00,705.92 849.66,708.78 851.33,711.90 C852.99,715.02 854.65,718.43 856.32,721.55 C857.98,724.67 859.64,727.59 861.31,730.63 C862.97,733.66 864.64,736.80 866.30,739.74 C867.96,742.68 869.63,745.46 871.29,748.27 C872.95,751.08 874.62,753.91 876.28,756.63 C877.94,759.34 879.61,762.00 881.27,764.55 C882.93,767.10 884.60,769.52 886.26,771.92 C887.92,774.32 889.59,776.73 891.25,778.98 C892.92,781.23 894.58,783.30 896.24,785.42 C897.91,787.54 899.57,789.72 901.23,791.69 C902.90,793.67 904.56,795.45 906.22,797.27 C907.89,799.08 909.55,800.89 911.21,802.56 C912.88,804.24 914.54,805.76 916.21,807.31 C917.87,808.86 919.53,810.41 921.20,811.88 C922.86,813.35 924.52,814.90 926.19,816.15 C927.85,817.40 929.51,818.32 931.18,819.39 C932.84,820.46 934.50,821.56 936.17,822.59 C937.83,823.62 939.50,824.59 941.16,825.54 C942.82,826.50 944.49,827.49 946.15,828.34 C947.81,829.18 949.48,829.82 951.14,830.58 C952.80,831.35 954.47,832.28 956.13,832.92 C957.79,833.56 959.46,833.88 961.12,834.42 C962.78,834.96 964.45,835.62 966.11,836.18 C967.78,836.74 969.44,837.27 971.10,837.77 C972.77,838.26 974.43,838.80 976.09,839.15 C977.76,839.49 979.42,839.57 981.08,839.83 C982.75,840.10 984.41,840.37 986.07,840.74 C987.74,841.12 989.40,841.80 991.07,842.09 C992.73,842.38 994.39,842.26 996.06,842.47 C997.72,842.68 999.38,843.09 1001.05,843.36 C1002.71,843.63 1004.37,843.90 1006.04,844.10 C1007.70,844.30 1009.36,844.44 1011.03,844.55 C1012.69,844.67 1014.36,844.67 1016.02,844.77 C1017.68,844.87 1019.35,844.94 1021.01,845.14 C1022.67,845.35 1025.17,845.84 1026.00,845.98" fill="none" stroke="#5cc244" stroke-width="2.1"/>
<path d="M651.70,821.52 C652.53,820.92 655.03,819.31 656.69,817.93 C658.35,816.55 660.02,814.77 661.68,813.22 C663.34,811.66 665.01,810.30 666.67,808.59 C668.34,806.88 670.00,804.88 671.66,802.96 C673.33,801.04 674.99,799.06 676.65,797.05 C678.32,795.04 679.98,793.14 681.64,790.92 C683.31,788.71 684.97,786.12 686.63,783.75 C688.30,781.38 689.96,779.17 691.63,776.70 C693.29,774.22 694.95,771.65 696.62,768.91 C698.28,766.17 699.94,763.11 701.61,760.26 C703.27,757.40 704.93,754.73 706.60,751.78 C708.26,748.83 709.92,745.68 711.59,742.56 C713.25,739.43 714.92,736.24 716.58,733.03 C718.24,729.83 719.91,726.52 721.57,723.33 C723.23,720.14 724.90,717.06 726.56,713.89 C728.22,710.72 729.89,707.56 731.55,704.31 C733.21,701.06 734.88,697.52 736.54,694.39 C738.20,691.27 739.87,688.52 741.53,685.54 C743.20,682.56 744.86,679.36 746.52,676.53 C748.19,673.69 749.85,671.02 751.51,668.54 C753.18,666.06 754.84,663.82 756.50,661.64 C758.17,659.45 759.83,657.29 761.49,655.41 C763.16,653.53 764.82,651.84 766.49,650.37 C768.15,648.90 769.81,647.61 771.48,646.61 C773.14,645.61 774.80,644.87 776.47,644.37 C778.13,643.87 779.79,643.66 781.46,643.63 C783.12,643.60 784.78,643.83 786.45,644.18 C788.11,644.54 789.78,644.99 791.44,645.77 C793.10,646.56 794.77,647.71 796.43,648.89 C798.09,650.07 799.76,651.41 801.42,652.87 C803.08,654.32 804.75,655.82 806.41,657.61 C808.07,659.41 809.74,661.55 811.40,663.63 C813.06,665.71 814.73,667.89 816.39,670.09 C818.06,672.30 819.72,674.41 821.38,676.85 C823.05,679.29 824.71,682.07 826.37,684.72 C828.04,687.36 829.70,689.95 831.36,692.70 C833.03,695.46 834.69,698.47 836.35,701.27 C838.02,704.07 839.68,706.72 841.35,709.50 C843.01,712.27 844.67,715.05 846.34,717.92 C848.00,720.80 849.66,723.91 851.33,726.73 C852.99,729.55 854.65,732.10 856.32,734.82 C857.98,737.54 859.64,740.30 861.31,743.06 C862.97,745.83 864.64,748.77 866.30,751.40 C867.96,754.04 869.63,756.36 871.29,758.86 C872.95,761.36 874.62,763.98 876.28,766.40 C877.94,768.82 879.61,771.07 881.27,773.39 C882.93,775.71 884.60,778.12 886.26,780.30 C887.92,782.48 889.59,784.44 891.25,786.45 C892.92,788.47 894.58,790.40 896.24,792.38 C897.91,794.35 899.57,796.46 901.23,798.30 C902.90,800.13 904.56,801.82 906.22,803.40 C907.89,804.98 909.55,806.36 911.21,807.79 C912.88,809.22 914.54,810.55 916.21,811.97 C917.87,813.39 919.53,815.00 921.20,816.31 C922.86,817.61 924.52,818.68 926.19,819.79 C927.85,820.90 929.51,821.92 931.18,822.96 C932.84,824.00 934.50,825.09 936.17,826.03 C937.83,826.98 939.50,827.81 941.16,828.64 C942.82,829.47 944.49,830.27 946.15,831.01 C947.81,831.75 949.48,832.44 951.14,833.07 C952.80,833.70 954.47,834.22 956.13,834.81 C957.79,835.40 959.46,836.08 961.12,836.61 C962.78,837.15 964.45,837.61 966.11,838.03 C967.78,838.44 969.44,838.67 971.10,839.10 C972.77,839.54 974.43,840.26 976.09,840.64 C977.76,841.01 979.42,841.09 981.08,841.34 C982.75,841.59 984.41,841.84 986.07,842.13 C987.74,842.43 989.40,842.85 991.07,843.14 C992.73,843.43 994.39,843.70 996.06,843.87 C997.72,844.05 999.38,843.98 1001.05,844.17 C1002.71,844.36 1004.37,844.79 1006.04,845.01 C1007.70,845.24 1009.36,845.38 1011.03,845.52 C1012.69,845.65 1014.36,845.72 1016.02,845.81 C1017.68,845.90 1019.35,845.90 1021.01,846.06 C1022.67,846.21 1025.17,846.61 1026.00,846.72" fill="none" stroke="#9c6a2c" stroke-width="2.1"/>
<path d="M651.70,825.75 C652.53,825.19 655.03,823.60 656.69,822.35 C658.35,821.11 660.02,819.64 661.68,818.29 C663.34,816.95 665.01,815.77 666.67,814.29 C668.34,812.81 670.00,811.02 671.66,809.41 C673.33,807.81 674.99,806.41 676.65,804.68 C678.32,802.95 679.98,801.00 681.64,799.02 C683.31,797.05 684.97,794.96 686.63,792.83 C688.30,790.70 689.96,788.45 691.63,786.24 C693.29,784.03 694.95,781.88 696.62,779.57 C698.28,777.26 699.94,774.86 701.61,772.39 C703.27,769.93 704.93,767.42 706.60,764.79 C708.26,762.16 709.92,759.31 711.59,756.61 C713.25,753.91 714.92,751.37 716.58,748.59 C718.24,745.80 719.91,742.75 721.57,739.89 C723.23,737.03 724.90,734.19 726.56,731.43 C728.22,728.68 729.89,726.11 731.55,723.38 C733.21,720.65 734.88,717.83 736.54,715.07 C738.20,712.31 739.87,709.43 741.53,706.81 C743.20,704.19 744.86,701.76 746.52,699.34 C748.19,696.92 749.85,694.45 751.51,692.26 C753.18,690.08 754.84,688.13 756.50,686.25 C758.17,684.37 759.83,682.60 761.49,680.98 C763.16,679.35 764.82,677.84 766.49,676.52 C768.15,675.20 769.81,673.89 771.48,673.03 C773.14,672.17 774.80,671.74 776.47,671.34 C778.13,670.94 779.79,670.67 781.46,670.63 C783.12,670.59 784.78,670.77 786.45,671.11 C788.11,671.44 789.78,671.97 791.44,672.64 C793.10,673.32 794.77,674.21 796.43,675.16 C798.09,676.11 799.76,677.01 801.42,678.32 C803.08,679.62 804.75,681.37 806.41,683.00 C808.07,684.63 809.74,686.39 811.40,688.10 C813.06,689.81 814.73,691.36 816.39,693.26 C818.06,695.16 819.72,697.37 821.38,699.50 C823.05,701.64 824.71,703.78 826.37,706.09 C828.04,708.40 829.70,711.00 831.36,713.36 C833.03,715.73 834.69,717.92 836.35,720.30 C838.02,722.69 839.68,725.15 841.35,727.68 C843.01,730.21 844.67,732.99 846.34,735.48 C848.00,737.97 849.66,740.21 851.33,742.61 C852.99,745.01 854.65,747.47 856.32,749.90 C857.98,752.33 859.64,754.79 861.31,757.18 C862.97,759.58 864.64,761.94 866.30,764.26 C867.96,766.59 869.63,768.93 871.29,771.16 C872.95,773.38 874.62,775.50 876.28,777.62 C877.94,779.74 879.61,781.84 881.27,783.88 C882.93,785.91 884.60,787.97 886.26,789.84 C887.92,791.70 889.59,793.32 891.25,795.09 C892.92,796.85 894.58,798.78 896.24,800.43 C897.91,802.07 899.57,803.40 901.23,804.97 C902.90,806.54 904.56,808.43 906.22,809.85 C907.89,811.27 909.55,812.25 911.21,813.51 C912.88,814.76 914.54,816.19 916.21,817.40 C917.87,818.60 919.53,819.64 921.20,820.72 C922.86,821.80 924.52,822.87 926.19,823.86 C927.85,824.86 929.51,825.77 931.18,826.69 C932.84,827.62 934.50,828.53 936.17,829.42 C937.83,830.30 939.50,831.30 941.16,832.01 C942.82,832.72 944.49,833.03 946.15,833.66 C947.81,834.29 949.48,835.18 951.14,835.79 C952.80,836.41 954.47,836.88 956.13,837.34 C957.79,837.81 959.46,838.15 961.12,838.58 C962.78,839.01 964.45,839.51 966.11,839.93 C967.78,840.35 969.44,840.79 971.10,841.11 C972.77,841.42 974.43,841.52 976.09,841.81 C977.76,842.11 979.42,842.53 981.08,842.86 C982.75,843.19 984.41,843.50 986.07,843.77 C987.74,844.05 989.40,844.33 991.07,844.50 C992.73,844.67 994.39,844.60 996.06,844.77 C997.72,844.94 999.38,845.33 1001.05,845.51 C1002.71,845.68 1004.37,845.65 1006.04,845.81 C1007.70,845.97 1009.36,846.28 1011.03,846.46 C1012.69,846.65 1014.36,846.82 1016.02,846.92 C1017.68,847.02 1019.35,847.02 1021.01,847.07 C1022.67,847.12 1025.17,847.20 1026.00,847.22" fill="none" stroke="#4e9aa0" stroke-width="2.1"/>
<path d="M651.70,828.77 C652.53,828.21 655.03,826.54 656.69,825.40 C658.35,824.27 660.02,823.14 661.68,821.94 C663.34,820.75 665.01,819.55 666.67,818.24 C668.34,816.93 670.00,815.45 671.66,814.07 C673.33,812.69 674.99,811.51 676.65,809.94 C678.32,808.37 679.98,806.44 681.64,804.63 C683.31,802.83 684.97,800.93 686.63,799.12 C688.30,797.31 689.96,795.71 691.63,793.77 C693.29,791.83 694.95,789.62 696.62,787.49 C698.28,785.35 699.94,783.21 701.61,780.96 C703.27,778.71 704.93,776.32 706.60,773.98 C708.26,771.64 709.92,769.32 711.59,766.91 C713.25,764.51 714.92,762.05 716.58,759.55 C718.24,757.05 719.91,754.37 721.57,751.91 C723.23,749.44 724.90,747.22 726.56,744.78 C728.22,742.33 729.89,739.73 731.55,737.23 C733.21,734.74 734.88,732.24 736.54,729.81 C738.20,727.39 739.87,724.99 741.53,722.68 C743.20,720.37 744.86,718.20 746.52,715.95 C748.19,713.71 749.85,711.26 751.51,709.22 C753.18,707.17 754.84,705.34 756.50,703.68 C758.17,702.02 759.83,700.70 761.49,699.28 C763.16,697.85 764.82,696.30 766.49,695.15 C768.15,694.00 769.81,693.13 771.48,692.37 C773.14,691.61 774.80,691.00 776.47,690.60 C778.13,690.21 779.79,690.04 781.46,689.99 C783.12,689.94 784.78,690.01 786.45,690.29 C788.11,690.58 789.78,691.07 791.44,691.69 C793.10,692.32 794.77,693.14 796.43,694.06 C798.09,694.99 799.76,696.07 801.42,697.22 C803.08,698.38 804.75,699.58 806.41,700.97 C808.07,702.36 809.74,704.00 811.40,705.57 C813.06,707.14 814.73,708.69 816.39,710.40 C818.06,712.12 819.72,713.94 821.38,715.87 C823.05,717.80 824.71,719.90 826.37,721.99 C828.04,724.07 829.70,726.25 831.36,728.39 C833.03,730.52 834.69,732.64 836.35,734.78 C838.02,736.93 839.68,739.10 841.35,741.26 C843.01,743.43 844.67,745.60 846.34,747.78 C848.00,749.95 849.66,752.09 851.33,754.31 C852.99,756.53 854.65,758.92 856.32,761.08 C857.98,763.25 859.64,765.19 861.31,767.29 C862.97,769.38 864.64,771.56 866.30,773.65 C867.96,775.73 869.63,777.80 871.29,779.80 C872.95,781.80 874.62,783.75 876.28,785.64 C877.94,787.52 879.61,789.34 881.27,791.11 C882.93,792.88 884.60,794.54 886.26,796.25 C887.92,797.95 889.59,799.75 891.25,801.35 C892.92,802.94 894.58,804.34 896.24,805.83 C897.91,807.32 899.57,808.84 901.23,810.27 C902.90,811.69 904.56,813.11 906.22,814.38 C907.89,815.65 909.55,816.77 911.21,817.90 C912.88,819.04 914.54,820.08 916.21,821.20 C917.87,822.31 919.53,823.61 921.20,824.61 C922.86,825.62 924.52,826.37 926.19,827.22 C927.85,828.08 929.51,828.99 931.18,829.75 C932.84,830.51 934.50,831.11 936.17,831.79 C937.83,832.46 939.50,833.11 941.16,833.81 C942.82,834.50 944.49,835.36 946.15,835.94 C947.81,836.52 949.48,836.81 951.14,837.28 C952.80,837.76 954.47,838.28 956.13,838.79 C957.79,839.30 959.46,839.93 961.12,840.36 C962.78,840.79 964.45,841.02 966.11,841.38 C967.78,841.75 969.44,842.29 971.10,842.57 C972.77,842.85 974.43,842.85 976.09,843.08 C977.76,843.31 979.42,843.71 981.08,843.94 C982.75,844.18 984.41,844.31 986.07,844.51 C987.74,844.71 989.40,844.96 991.07,845.17 C992.73,845.38 994.39,845.59 996.06,845.77 C997.72,845.94 999.38,846.05 1001.05,846.21 C1002.71,846.36 1004.37,846.53 1006.04,846.72 C1007.70,846.91 1009.36,847.22 1011.03,847.34 C1012.69,847.45 1014.36,847.30 1016.02,847.41 C1017.68,847.53 1019.35,847.89 1021.01,848.02 C1022.67,848.16 1025.17,848.19 1026.00,848.22" fill="none" stroke="#3c5aaa" stroke-width="2.1"/>
<path d="M651.70,833.83 C652.53,833.50 655.03,832.63 656.69,831.85 C658.35,831.07 660.02,830.11 661.68,829.17 C663.34,828.23 665.01,827.32 666.67,826.22 C668.34,825.11 670.00,823.68 671.66,822.54 C673.33,821.39 674.99,820.51 676.65,819.34 C678.32,818.17 679.98,816.94 681.64,815.53 C683.31,814.12 684.97,812.34 686.63,810.88 C688.30,809.41 689.96,808.29 691.63,806.73 C693.29,805.17 694.95,803.22 696.62,801.52 C698.28,799.81 699.94,798.24 701.61,796.50 C703.27,794.75 704.93,792.90 706.60,791.05 C708.26,789.20 709.92,787.28 711.59,785.41 C713.25,783.55 714.92,781.79 716.58,779.87 C718.24,777.95 719.91,775.81 721.57,773.90 C723.23,771.99 724.90,770.36 726.56,768.40 C728.22,766.44 729.89,764.11 731.55,762.12 C733.21,760.14 734.88,758.37 736.54,756.48 C738.20,754.59 739.87,752.56 741.53,750.79 C743.20,749.01 744.86,747.52 746.52,745.82 C748.19,744.12 749.85,742.21 751.51,740.59 C753.18,738.97 754.84,737.40 756.50,736.10 C758.17,734.80 759.83,733.88 761.49,732.80 C763.16,731.72 764.82,730.53 766.49,729.60 C768.15,728.67 769.81,727.87 771.48,727.22 C773.14,726.57 774.80,725.97 776.47,725.69 C778.13,725.41 779.79,725.50 781.46,725.54 C783.12,725.58 784.78,725.70 786.45,725.94 C788.11,726.18 789.78,726.54 791.44,726.97 C793.10,727.41 794.77,727.89 796.43,728.54 C798.09,729.18 799.76,729.95 801.42,730.86 C803.08,731.78 804.75,732.93 806.41,734.05 C808.07,735.17 809.74,736.33 811.40,737.58 C813.06,738.82 814.73,740.14 816.39,741.53 C818.06,742.91 819.72,744.40 821.38,745.90 C823.05,747.39 824.71,748.90 826.37,750.51 C828.04,752.12 829.70,753.93 831.36,755.57 C833.03,757.22 834.69,758.78 836.35,760.40 C838.02,762.02 839.68,763.57 841.35,765.30 C843.01,767.03 844.67,769.05 846.34,770.80 C848.00,772.55 849.66,774.06 851.33,775.81 C852.99,777.55 854.65,779.56 856.32,781.26 C857.98,782.96 859.64,784.40 861.31,786.01 C862.97,787.61 864.64,789.27 866.30,790.87 C867.96,792.48 869.63,794.09 871.29,795.66 C872.95,797.23 874.62,798.79 876.28,800.29 C877.94,801.79 879.61,803.25 881.27,804.64 C882.93,806.04 884.60,807.37 886.26,808.67 C887.92,809.96 889.59,811.11 891.25,812.40 C892.92,813.69 894.58,815.19 896.24,816.43 C897.91,817.67 899.57,818.80 901.23,819.83 C902.90,820.86 904.56,821.68 906.22,822.61 C907.89,823.54 909.55,824.46 911.21,825.40 C912.88,826.34 914.54,827.38 916.21,828.26 C917.87,829.15 919.53,829.96 921.20,830.71 C922.86,831.46 924.52,832.04 926.19,832.76 C927.85,833.47 929.51,834.36 931.18,835.02 C932.84,835.69 934.50,836.20 936.17,836.77 C937.83,837.33 939.50,837.93 941.16,838.40 C942.82,838.88 944.49,839.19 946.15,839.63 C947.81,840.07 949.48,840.62 951.14,841.05 C952.80,841.48 954.47,841.91 956.13,842.23 C957.79,842.55 959.46,842.74 961.12,842.99 C962.78,843.24 964.45,843.42 966.11,843.73 C967.78,844.05 969.44,844.60 971.10,844.87 C972.77,845.14 974.43,845.14 976.09,845.34 C977.76,845.55 979.42,845.93 981.08,846.11 C982.75,846.29 984.41,846.26 986.07,846.41 C987.74,846.57 989.40,846.83 991.07,847.03 C992.73,847.23 994.39,847.46 996.06,847.62 C997.72,847.79 999.38,847.88 1001.05,848.02 C1002.71,848.16 1004.37,848.37 1006.04,848.45 C1007.70,848.53 1009.36,848.44 1011.03,848.50 C1012.69,848.56 1014.36,848.70 1016.02,848.81 C1017.68,848.92 1019.35,849.08 1021.01,849.16 C1022.67,849.24 1025.17,849.25 1026.00,849.27" fill="none" stroke="#8c8c14" stroke-width="2.1"/>
<path d="M651.70,837.50 C652.53,837.14 655.03,835.98 656.69,835.30 C658.35,834.63 660.02,834.25 661.68,833.46 C663.34,832.67 665.01,831.45 666.67,830.57 C668.34,829.69 670.00,829.07 671.66,828.16 C673.33,827.26 674.99,826.18 676.65,825.16 C678.32,824.13 679.98,823.15 681.64,822.02 C683.31,820.89 684.97,819.58 686.63,818.35 C688.30,817.12 689.96,815.89 691.63,814.63 C693.29,813.37 694.95,812.13 696.62,810.79 C698.28,809.46 699.94,808.08 701.61,806.63 C703.27,805.17 704.93,803.62 706.60,802.08 C708.26,800.55 709.92,798.94 711.59,797.42 C713.25,795.90 714.92,794.52 716.58,792.94 C718.24,791.36 719.91,789.60 721.57,787.93 C723.23,786.27 724.90,784.54 726.56,782.95 C728.22,781.35 729.89,779.90 731.55,778.37 C733.21,776.83 734.88,775.27 736.54,773.73 C738.20,772.20 739.87,770.67 741.53,769.13 C743.20,767.60 744.86,765.95 746.52,764.52 C748.19,763.08 749.85,761.81 751.51,760.51 C753.18,759.22 754.84,757.88 756.50,756.75 C758.17,755.61 759.83,754.57 761.49,753.70 C763.16,752.82 764.82,752.18 766.49,751.51 C768.15,750.84 769.81,750.18 771.48,749.68 C773.14,749.18 774.80,748.76 776.47,748.50 C778.13,748.25 779.79,748.21 781.46,748.16 C783.12,748.11 784.78,748.04 786.45,748.18 C788.11,748.32 789.78,748.61 791.44,748.98 C793.10,749.35 794.77,749.78 796.43,750.41 C798.09,751.03 799.76,751.99 801.42,752.73 C803.08,753.48 804.75,753.98 806.41,754.87 C808.07,755.75 809.74,756.99 811.40,758.06 C813.06,759.12 814.73,760.16 816.39,761.26 C818.06,762.37 819.72,763.41 821.38,764.68 C823.05,765.94 824.71,767.49 826.37,768.85 C828.04,770.22 829.70,771.58 831.36,772.87 C833.03,774.17 834.69,775.25 836.35,776.63 C838.02,778.02 839.68,779.70 841.35,781.17 C843.01,782.63 844.67,784.01 846.34,785.41 C848.00,786.81 849.66,788.18 851.33,789.57 C852.99,790.96 854.65,792.30 856.32,793.74 C857.98,795.19 859.64,796.86 861.31,798.25 C862.97,799.64 864.64,800.83 866.30,802.11 C867.96,803.40 869.63,804.70 871.29,805.96 C872.95,807.22 874.62,808.44 876.28,809.68 C877.94,810.92 879.61,812.24 881.27,813.39 C882.93,814.55 884.60,815.55 886.26,816.58 C887.92,817.61 889.59,818.52 891.25,819.57 C892.92,820.61 894.58,821.86 896.24,822.85 C897.91,823.85 899.57,824.64 901.23,825.55 C902.90,826.47 904.56,827.51 906.22,828.36 C907.89,829.21 909.55,829.94 911.21,830.65 C912.88,831.36 914.54,831.91 916.21,832.62 C917.87,833.32 919.53,834.29 921.20,834.90 C922.86,835.51 924.52,835.79 926.19,836.29 C927.85,836.79 929.51,837.32 931.18,837.91 C932.84,838.50 934.50,839.35 936.17,839.82 C937.83,840.28 939.50,840.29 941.16,840.68 C942.82,841.07 944.49,841.78 946.15,842.16 C947.81,842.55 949.48,842.71 951.14,843.00 C952.80,843.30 954.47,843.61 956.13,843.94 C957.79,844.28 959.46,844.75 961.12,845.02 C962.78,845.29 964.45,845.35 966.11,845.55 C967.78,845.74 969.44,846.01 971.10,846.20 C972.77,846.40 974.43,846.48 976.09,846.69 C977.76,846.91 979.42,847.32 981.08,847.49 C982.75,847.65 984.41,847.59 986.07,847.67 C987.74,847.74 989.40,847.81 991.07,847.94 C992.73,848.07 994.39,848.30 996.06,848.44 C997.72,848.59 999.38,848.68 1001.05,848.82 C1002.71,848.97 1004.37,849.23 1006.04,849.32 C1007.70,849.41 1009.36,849.30 1011.03,849.36 C1012.69,849.41 1014.36,849.60 1016.02,849.65 C1017.68,849.70 1019.35,849.61 1021.01,849.65 C1022.67,849.68 1025.17,849.81 1026.00,849.84" fill="none" stroke="#6e1414" stroke-width="2.1"/>
<path d="M651.70,841.45 C652.53,841.24 655.03,840.72 656.69,840.20 C658.35,839.68 660.02,838.94 661.68,838.32 C663.34,837.71 665.01,837.11 666.67,836.52 C668.34,835.93 670.00,835.49 671.66,834.77 C673.33,834.04 674.99,833.00 676.65,832.19 C678.32,831.39 679.98,830.69 681.64,829.93 C683.31,829.17 684.97,828.55 686.63,827.63 C688.30,826.71 689.96,825.37 691.63,824.42 C693.29,823.46 694.95,822.84 696.62,821.88 C698.28,820.92 699.94,819.76 701.61,818.64 C703.27,817.52 704.93,816.29 706.60,815.14 C708.26,814.00 709.92,812.93 711.59,811.79 C713.25,810.65 714.92,809.48 716.58,808.29 C718.24,807.10 719.91,805.84 721.57,804.65 C723.23,803.45 724.90,802.30 726.56,801.13 C728.22,799.95 729.89,798.76 731.55,797.60 C733.21,796.43 734.88,795.26 736.54,794.12 C738.20,792.98 739.87,791.92 741.53,790.75 C743.20,789.59 744.86,788.26 746.52,787.16 C748.19,786.06 749.85,785.07 751.51,784.14 C753.18,783.21 754.84,782.40 756.50,781.56 C758.17,780.73 759.83,779.83 761.49,779.14 C763.16,778.46 764.82,777.97 766.49,777.47 C768.15,776.97 769.81,776.51 771.48,776.14 C773.14,775.77 774.80,775.47 776.47,775.23 C778.13,774.99 779.79,774.66 781.46,774.68 C783.12,774.70 784.78,775.17 786.45,775.35 C788.11,775.53 789.78,775.49 791.44,775.76 C793.10,776.03 794.77,776.57 796.43,776.98 C798.09,777.38 799.76,777.63 801.42,778.17 C803.08,778.71 804.75,779.52 806.41,780.23 C808.07,780.93 809.74,781.63 811.40,782.39 C813.06,783.16 814.73,783.96 816.39,784.79 C818.06,785.62 819.72,786.49 821.38,787.38 C823.05,788.27 824.71,789.12 826.37,790.11 C828.04,791.10 829.70,792.32 831.36,793.33 C833.03,794.34 834.69,795.10 836.35,796.16 C838.02,797.23 839.68,798.61 841.35,799.72 C843.01,800.83 844.67,801.76 846.34,802.82 C848.00,803.89 849.66,805.03 851.33,806.10 C852.99,807.17 854.65,808.26 856.32,809.24 C857.98,810.22 859.64,811.01 861.31,811.97 C862.97,812.93 864.64,813.97 866.30,815.01 C867.96,816.05 869.63,817.21 871.29,818.20 C872.95,819.20 874.62,820.10 876.28,820.99 C877.94,821.88 879.61,822.72 881.27,823.53 C882.93,824.34 884.60,825.09 886.26,825.87 C887.92,826.65 889.59,827.44 891.25,828.21 C892.92,828.98 894.58,829.73 896.24,830.47 C897.91,831.21 899.57,831.91 901.23,832.63 C902.90,833.34 904.56,834.15 906.22,834.78 C907.89,835.42 909.55,835.86 911.21,836.42 C912.88,836.98 914.54,837.64 916.21,838.15 C917.87,838.65 919.53,839.01 921.20,839.45 C922.86,839.89 924.52,840.32 926.19,840.77 C927.85,841.23 929.51,841.77 931.18,842.18 C932.84,842.60 934.50,842.96 936.17,843.25 C937.83,843.55 939.50,843.62 941.16,843.95 C942.82,844.28 944.49,844.96 946.15,845.23 C947.81,845.51 949.48,845.43 951.14,845.60 C952.80,845.77 954.47,846.04 956.13,846.25 C957.79,846.45 959.46,846.59 961.12,846.83 C962.78,847.07 964.45,847.48 966.11,847.68 C967.78,847.89 969.44,847.94 971.10,848.07 C972.77,848.21 974.43,848.36 976.09,848.48 C977.76,848.61 979.42,848.75 981.08,848.83 C982.75,848.91 984.41,848.87 986.07,848.97 C987.74,849.07 989.40,849.27 991.07,849.42 C992.73,849.57 994.39,849.82 996.06,849.89 C997.72,849.95 999.38,849.76 1001.05,849.81 C1002.71,849.87 1004.37,850.13 1006.04,850.22 C1007.70,850.30 1009.36,850.30 1011.03,850.33 C1012.69,850.37 1014.36,850.32 1016.02,850.42 C1017.68,850.53 1019.35,850.92 1021.01,850.96 C1022.67,851.00 1025.17,850.72 1026.00,850.67" fill="none" stroke="#6c1482" stroke-width="2.1"/>
<path d="M651.70,844.17 C652.53,844.00 655.03,843.53 656.69,843.15 C658.35,842.77 660.02,842.32 661.68,841.88 C663.34,841.44 665.01,840.98 666.67,840.53 C668.34,840.07 670.00,839.68 671.66,839.14 C673.33,838.60 674.99,837.85 676.65,837.28 C678.32,836.70 679.98,836.34 681.64,835.71 C683.31,835.07 684.97,834.21 686.63,833.47 C688.30,832.73 689.96,831.99 691.63,831.26 C693.29,830.54 694.95,829.87 696.62,829.10 C698.28,828.33 699.94,827.50 701.61,826.63 C703.27,825.76 704.93,824.78 706.60,823.90 C708.26,823.01 709.92,822.12 711.59,821.31 C713.25,820.50 714.92,819.92 716.58,819.01 C718.24,818.11 719.91,816.87 721.57,815.91 C723.23,814.94 724.90,814.07 726.56,813.22 C728.22,812.36 729.89,811.65 731.55,810.76 C733.21,809.86 734.88,808.78 736.54,807.87 C738.20,806.96 739.87,806.14 741.53,805.31 C743.20,804.48 744.86,803.73 746.52,802.90 C748.19,802.08 749.85,801.16 751.51,800.35 C753.18,799.55 754.84,798.70 756.50,798.08 C758.17,797.46 759.83,797.16 761.49,796.63 C763.16,796.10 764.82,795.35 766.49,794.90 C768.15,794.45 769.81,794.15 771.48,793.93 C773.14,793.71 774.80,793.74 776.47,793.58 C778.13,793.42 779.79,793.02 781.46,792.97 C783.12,792.92 784.78,793.18 786.45,793.28 C788.11,793.39 789.78,793.40 791.44,793.61 C793.10,793.82 794.77,794.21 796.43,794.55 C798.09,794.90 799.76,795.22 801.42,795.67 C803.08,796.13 804.75,796.79 806.41,797.29 C808.07,797.80 809.74,798.16 811.40,798.70 C813.06,799.23 814.73,799.85 816.39,800.50 C818.06,801.14 819.72,801.83 821.38,802.58 C823.05,803.33 824.71,804.24 826.37,804.99 C828.04,805.75 829.70,806.35 831.36,807.12 C833.03,807.90 834.69,808.79 836.35,809.64 C838.02,810.50 839.68,811.42 841.35,812.27 C843.01,813.12 844.67,813.94 846.34,814.75 C848.00,815.57 849.66,816.38 851.33,817.18 C852.99,817.97 854.65,818.74 856.32,819.53 C857.98,820.32 859.64,821.16 861.31,821.92 C862.97,822.67 864.64,823.33 866.30,824.04 C867.96,824.75 869.63,825.44 871.29,826.16 C872.95,826.89 874.62,827.67 876.28,828.39 C877.94,829.11 879.61,829.84 881.27,830.49 C882.93,831.15 884.60,831.67 886.26,832.30 C887.92,832.94 889.59,833.71 891.25,834.31 C892.92,834.92 894.58,835.42 896.24,835.93 C897.91,836.44 899.57,836.85 901.23,837.36 C902.90,837.88 904.56,838.50 906.22,839.03 C907.89,839.55 909.55,840.11 911.21,840.50 C912.88,840.89 914.54,841.01 916.21,841.36 C917.87,841.71 919.53,842.18 921.20,842.59 C922.86,843.00 924.52,843.45 926.19,843.81 C927.85,844.17 929.51,844.46 931.18,844.74 C932.84,845.02 934.50,845.25 936.17,845.50 C937.83,845.74 939.50,845.95 941.16,846.22 C942.82,846.48 944.49,846.82 946.15,847.09 C947.81,847.36 949.48,847.62 951.14,847.81 C952.80,848.00 954.47,848.13 956.13,848.23 C957.79,848.33 959.46,848.24 961.12,848.40 C962.78,848.55 964.45,849.00 966.11,849.16 C967.78,849.32 969.44,849.25 971.10,849.36 C972.77,849.47 974.43,849.70 976.09,849.83 C977.76,849.95 979.42,850.01 981.08,850.10 C982.75,850.20 984.41,850.32 986.07,850.38 C987.74,850.44 989.40,850.41 991.07,850.48 C992.73,850.55 994.39,850.70 996.06,850.80 C997.72,850.90 999.38,850.99 1001.05,851.05 C1002.71,851.11 1004.37,851.12 1006.04,851.16 C1007.70,851.20 1009.36,851.26 1011.03,851.27 C1012.69,851.28 1014.36,851.17 1016.02,851.22 C1017.68,851.26 1019.35,851.48 1021.01,851.56 C1022.67,851.63 1025.17,851.66 1026.00,851.68" fill="none" stroke="#8024f2" stroke-width="2.1"/>
<path d="M651.70,843.64 C652.53,843.73 655.03,844.06 656.69,844.16 C658.35,844.26 660.02,844.17 661.68,844.24 C663.34,844.31 665.01,844.60 666.67,844.60 C668.34,844.59 670.00,844.34 671.66,844.21 C673.33,844.09 674.99,843.96 676.65,843.85 C678.32,843.73 679.98,843.77 681.64,843.52 C683.31,843.27 684.97,842.60 686.63,842.34 C688.30,842.08 689.96,842.15 691.63,841.95 C693.29,841.74 694.95,841.45 696.62,841.11 C698.28,840.76 699.94,840.25 701.61,839.89 C703.27,839.54 704.93,839.36 706.60,838.97 C708.26,838.58 709.92,837.97 711.59,837.55 C713.25,837.14 714.92,836.85 716.58,836.48 C718.24,836.11 719.91,835.73 721.57,835.33 C723.23,834.93 724.90,834.57 726.56,834.08 C728.22,833.60 729.89,832.87 731.55,832.43 C733.21,831.98 734.88,831.82 736.54,831.39 C738.20,830.97 739.87,830.30 741.53,829.88 C743.20,829.46 744.86,829.26 746.52,828.87 C748.19,828.48 749.85,827.86 751.51,827.53 C753.18,827.20 754.84,827.13 756.50,826.89 C758.17,826.64 759.83,826.32 761.49,826.07 C763.16,825.82 764.82,825.63 766.49,825.38 C768.15,825.13 769.81,824.75 771.48,824.58 C773.14,824.41 774.80,824.40 776.47,824.37 C778.13,824.34 779.79,824.38 781.46,824.42 C783.12,824.47 784.78,824.62 786.45,824.64 C788.11,824.67 789.78,824.54 791.44,824.57 C793.10,824.60 794.77,824.65 796.43,824.82 C798.09,824.99 799.76,825.28 801.42,825.57 C803.08,825.86 804.75,826.27 806.41,826.57 C808.07,826.86 809.74,827.08 811.40,827.35 C813.06,827.63 814.73,827.92 816.39,828.22 C818.06,828.52 819.72,828.82 821.38,829.16 C823.05,829.51 824.71,829.92 826.37,830.29 C828.04,830.66 829.70,831.07 831.36,831.39 C833.03,831.71 834.69,831.90 836.35,832.21 C838.02,832.52 839.68,832.82 841.35,833.25 C843.01,833.68 844.67,834.42 846.34,834.81 C848.00,835.19 849.66,835.20 851.33,835.57 C852.99,835.94 854.65,836.60 856.32,837.00 C857.98,837.40 859.64,837.63 861.31,837.97 C862.97,838.31 864.64,838.67 866.30,839.02 C867.96,839.37 869.63,839.65 871.29,840.08 C872.95,840.51 874.62,841.21 876.28,841.60 C877.94,841.99 879.61,842.17 881.27,842.44 C882.93,842.71 884.60,842.97 886.26,843.21 C887.92,843.45 889.59,843.58 891.25,843.91 C892.92,844.24 894.58,844.87 896.24,845.19 C897.91,845.51 899.57,845.67 901.23,845.85 C902.90,846.02 904.56,846.01 906.22,846.26 C907.89,846.50 909.55,847.06 911.21,847.31 C912.88,847.56 914.54,847.59 916.21,847.76 C917.87,847.93 919.53,848.19 921.20,848.33 C922.86,848.48 924.52,848.54 926.19,848.65 C927.85,848.75 929.51,848.77 931.18,848.96 C932.84,849.15 934.50,849.63 936.17,849.77 C937.83,849.92 939.50,849.77 941.16,849.83 C942.82,849.90 944.49,850.07 946.15,850.16 C947.81,850.25 949.48,850.29 951.14,850.39 C952.80,850.50 954.47,850.73 956.13,850.80 C957.79,850.88 959.46,850.74 961.12,850.83 C962.78,850.92 964.45,851.23 966.11,851.34 C967.78,851.44 969.44,851.42 971.10,851.49 C972.77,851.55 974.43,851.73 976.09,851.74 C977.76,851.76 979.42,851.56 981.08,851.59 C982.75,851.61 984.41,851.78 986.07,851.87 C987.74,851.95 989.40,852.03 991.07,852.09 C992.73,852.15 994.39,852.25 996.06,852.24 C997.72,852.23 999.38,852.04 1001.05,852.03 C1002.71,852.01 1004.37,852.14 1006.04,852.16 C1007.70,852.19 1009.36,852.13 1011.03,852.17 C1012.69,852.21 1014.36,852.37 1016.02,852.41 C1017.68,852.44 1019.35,852.37 1021.01,852.40 C1022.67,852.44 1025.17,852.59 1026.00,852.63" fill="none" stroke="#14187a" stroke-width="2.1"/>
<path d="M651.70,841.96 C652.53,842.21 655.03,843.13 656.69,843.48 C658.35,843.83 660.02,843.90 661.68,844.05 C663.34,844.21 665.01,844.30 666.67,844.41 C668.34,844.53 670.00,844.61 671.66,844.73 C673.33,844.84 674.99,845.07 676.65,845.10 C678.32,845.13 679.98,845.04 681.64,844.90 C683.31,844.77 684.97,844.45 686.63,844.30 C688.30,844.15 689.96,844.15 691.63,843.99 C693.29,843.83 694.95,843.55 696.62,843.33 C698.28,843.12 699.94,842.89 701.61,842.71 C703.27,842.52 704.93,842.47 706.60,842.21 C708.26,841.96 709.92,841.48 711.59,841.18 C713.25,840.89 714.92,840.67 716.58,840.43 C718.24,840.19 719.91,840.02 721.57,839.75 C723.23,839.48 724.90,839.10 726.56,838.82 C728.22,838.53 729.89,838.36 731.55,838.05 C733.21,837.74 734.88,837.34 736.54,836.95 C738.20,836.57 739.87,836.02 741.53,835.76 C743.20,835.49 744.86,835.60 746.52,835.36 C748.19,835.12 749.85,834.57 751.51,834.31 C753.18,834.06 754.84,834.02 756.50,833.85 C758.17,833.67 759.83,833.48 761.49,833.24 C763.16,833.01 764.82,832.60 766.49,832.44 C768.15,832.28 769.81,832.34 771.48,832.29 C773.14,832.25 774.80,832.21 776.47,832.17 C778.13,832.13 779.79,832.10 781.46,832.04 C783.12,831.99 784.78,831.84 786.45,831.85 C788.11,831.85 789.78,831.93 791.44,832.06 C793.10,832.20 794.77,832.52 796.43,832.67 C798.09,832.82 799.76,832.89 801.42,832.96 C803.08,833.03 804.75,832.89 806.41,833.07 C808.07,833.25 809.74,833.82 811.40,834.06 C813.06,834.31 814.73,834.33 816.39,834.55 C818.06,834.76 819.72,835.12 821.38,835.36 C823.05,835.59 824.71,835.69 826.37,835.94 C828.04,836.20 829.70,836.58 831.36,836.86 C833.03,837.14 834.69,837.32 836.35,837.61 C838.02,837.90 839.68,838.27 841.35,838.61 C843.01,838.96 844.67,839.35 846.34,839.68 C848.00,840.00 849.66,840.25 851.33,840.55 C852.99,840.85 854.65,841.24 856.32,841.47 C857.98,841.70 859.64,841.64 861.31,841.91 C862.97,842.19 864.64,842.78 866.30,843.12 C867.96,843.46 869.63,843.78 871.29,843.97 C872.95,844.15 874.62,843.99 876.28,844.22 C877.94,844.46 879.61,845.12 881.27,845.37 C882.93,845.61 884.60,845.45 886.26,845.68 C887.92,845.92 889.59,846.52 891.25,846.77 C892.92,847.02 894.58,846.99 896.24,847.17 C897.91,847.36 899.57,847.72 901.23,847.87 C902.90,848.02 904.56,847.94 906.22,848.07 C907.89,848.20 909.55,848.50 911.21,848.67 C912.88,848.84 914.54,848.97 916.21,849.10 C917.87,849.23 919.53,849.33 921.20,849.44 C922.86,849.55 924.52,849.60 926.19,849.75 C927.85,849.90 929.51,850.24 931.18,850.37 C932.84,850.50 934.50,850.44 936.17,850.53 C937.83,850.61 939.50,850.75 941.16,850.88 C942.82,851.01 944.49,851.26 946.15,851.30 C947.81,851.34 949.48,851.10 951.14,851.13 C952.80,851.15 954.47,851.39 956.13,851.45 C957.79,851.51 959.46,851.41 961.12,851.50 C962.78,851.59 964.45,851.90 966.11,851.97 C967.78,852.05 969.44,851.91 971.10,851.93 C972.77,851.95 974.43,852.06 976.09,852.08 C977.76,852.10 979.42,851.98 981.08,852.04 C982.75,852.11 984.41,852.42 986.07,852.48 C987.74,852.55 989.40,852.43 991.07,852.42 C992.73,852.41 994.39,852.37 996.06,852.42 C997.72,852.46 999.38,852.69 1001.05,852.70 C1002.71,852.71 1004.37,852.54 1006.04,852.50 C1007.70,852.45 1009.36,852.42 1011.03,852.45 C1012.69,852.47 1014.36,852.64 1016.02,852.66 C1017.68,852.68 1019.35,852.58 1021.01,852.58 C1022.67,852.57 1025.17,852.63 1026.00,852.64" fill="none" stroke="#2e7a2a" stroke-width="2.1"/>
<path d="M651.70,847.03 C652.53,847.18 655.03,847.71 656.69,847.92 C658.35,848.14 660.02,848.10 661.68,848.32 C663.34,848.54 665.01,849.02 666.67,849.24 C668.34,849.45 670.00,849.46 671.66,849.60 C673.33,849.73 674.99,849.97 676.65,850.07 C678.32,850.17 679.98,850.14 681.64,850.18 C683.31,850.22 684.97,850.35 686.63,850.30 C688.30,850.26 689.96,849.97 691.63,849.92 C693.29,849.86 694.95,850.00 696.62,849.99 C698.28,849.97 699.94,849.88 701.61,849.82 C703.27,849.76 704.93,849.66 706.60,849.63 C708.26,849.61 709.92,849.72 711.59,849.67 C713.25,849.61 714.92,849.36 716.58,849.30 C718.24,849.24 719.91,849.33 721.57,849.30 C723.23,849.27 724.90,849.25 726.56,849.14 C728.22,849.02 729.89,848.74 731.55,848.61 C733.21,848.49 734.88,848.48 736.54,848.39 C738.20,848.31 739.87,848.17 741.53,848.13 C743.20,848.09 744.86,848.21 746.52,848.15 C748.19,848.09 749.85,847.84 751.51,847.78 C753.18,847.72 754.84,847.86 756.50,847.78 C758.17,847.70 759.83,847.39 761.49,847.29 C763.16,847.20 764.82,847.18 766.49,847.20 C768.15,847.22 769.81,847.46 771.48,847.44 C773.14,847.41 774.80,847.03 776.47,847.03 C778.13,847.03 779.79,847.34 781.46,847.42 C783.12,847.49 784.78,847.52 786.45,847.49 C788.11,847.45 789.78,847.20 791.44,847.20 C793.10,847.21 794.77,847.47 796.43,847.52 C798.09,847.57 799.76,847.50 801.42,847.52 C803.08,847.53 804.75,847.50 806.41,847.60 C808.07,847.69 809.74,848.04 811.40,848.09 C813.06,848.14 814.73,847.86 816.39,847.90 C818.06,847.95 819.72,848.26 821.38,848.36 C823.05,848.46 824.71,848.43 826.37,848.50 C828.04,848.57 829.70,848.73 831.36,848.78 C833.03,848.84 834.69,848.77 836.35,848.81 C838.02,848.86 839.68,848.93 841.35,849.06 C843.01,849.18 844.67,849.41 846.34,849.55 C848.00,849.69 849.66,849.82 851.33,849.90 C852.99,849.98 854.65,849.99 856.32,850.04 C857.98,850.10 859.64,850.12 861.31,850.22 C862.97,850.32 864.64,850.54 866.30,850.64 C867.96,850.74 869.63,850.81 871.29,850.82 C872.95,850.84 874.62,850.69 876.28,850.71 C877.94,850.74 879.61,850.91 881.27,850.96 C882.93,851.00 884.60,850.97 886.26,851.00 C887.92,851.04 889.59,851.12 891.25,851.19 C892.92,851.26 894.58,851.31 896.24,851.42 C897.91,851.53 899.57,851.73 901.23,851.85 C902.90,851.97 904.56,852.06 906.22,852.11 C907.89,852.17 909.55,852.15 911.21,852.17 C912.88,852.19 914.54,852.19 916.21,852.22 C917.87,852.24 919.53,852.27 921.20,852.30 C922.86,852.33 924.52,852.35 926.19,852.39 C927.85,852.44 929.51,852.58 931.18,852.59 C932.84,852.59 934.50,852.37 936.17,852.41 C937.83,852.44 939.50,852.73 941.16,852.79 C942.82,852.85 944.49,852.79 946.15,852.76 C947.81,852.73 949.48,852.61 951.14,852.60 C952.80,852.58 954.47,852.62 956.13,852.69 C957.79,852.76 959.46,852.95 961.12,853.02 C962.78,853.08 964.45,853.12 966.11,853.09 C967.78,853.05 969.44,852.79 971.10,852.82 C972.77,852.85 974.43,853.21 976.09,853.28 C977.76,853.35 979.42,853.28 981.08,853.25 C982.75,853.21 984.41,853.09 986.07,853.06 C987.74,853.03 989.40,853.04 991.07,853.08 C992.73,853.12 994.39,853.25 996.06,853.30 C997.72,853.35 999.38,853.37 1001.05,853.38 C1002.71,853.38 1004.37,853.37 1006.04,853.31 C1007.70,853.25 1009.36,853.04 1011.03,853.02 C1012.69,853.00 1014.36,853.21 1016.02,853.20 C1017.68,853.18 1019.35,852.96 1021.01,852.93 C1022.67,852.91 1025.17,853.03 1026.00,853.04" fill="none" stroke="#d82020" stroke-width="2.1"/>
<path d="M651.70,845.25 C652.53,845.52 655.03,846.45 656.69,846.83 C658.35,847.21 660.02,847.32 661.68,847.56 C663.34,847.79 665.01,848.10 666.67,848.24 C668.34,848.39 670.00,848.35 671.66,848.43 C673.33,848.51 674.99,848.64 676.65,848.75 C678.32,848.85 679.98,849.03 681.64,849.04 C683.31,849.05 684.97,848.81 686.63,848.80 C688.30,848.80 689.96,849.00 691.63,848.99 C693.29,848.98 694.95,848.81 696.62,848.74 C698.28,848.67 699.94,848.70 701.61,848.58 C703.27,848.46 704.93,848.14 706.60,848.03 C708.26,847.92 709.92,848.00 711.59,847.94 C713.25,847.89 714.92,847.78 716.58,847.70 C718.24,847.62 719.91,847.59 721.57,847.46 C723.23,847.32 724.90,847.05 726.56,846.87 C728.22,846.70 729.89,846.53 731.55,846.38 C733.21,846.23 734.88,846.12 736.54,845.97 C738.20,845.82 739.87,845.60 741.53,845.46 C743.20,845.33 744.86,845.21 746.52,845.15 C748.19,845.10 749.85,845.16 751.51,845.11 C753.18,845.07 754.84,845.01 756.50,844.87 C758.17,844.73 759.83,844.41 761.49,844.27 C763.16,844.13 764.82,844.08 766.49,844.04 C768.15,844.00 769.81,844.07 771.48,844.03 C773.14,843.98 774.80,843.79 776.47,843.76 C778.13,843.74 779.79,843.83 781.46,843.88 C783.12,843.93 784.78,844.01 786.45,844.06 C788.11,844.11 789.78,844.14 791.44,844.20 C793.10,844.26 794.77,844.41 796.43,844.42 C798.09,844.43 799.76,844.27 801.42,844.26 C803.08,844.25 804.75,844.29 806.41,844.35 C808.07,844.41 809.74,844.47 811.40,844.60 C813.06,844.74 814.73,845.01 816.39,845.13 C818.06,845.26 819.72,845.28 821.38,845.35 C823.05,845.42 824.71,845.45 826.37,845.55 C828.04,845.66 829.70,845.83 831.36,845.98 C833.03,846.13 834.69,846.30 836.35,846.47 C838.02,846.63 839.68,846.81 841.35,846.95 C843.01,847.08 844.67,847.13 846.34,847.28 C848.00,847.43 849.66,847.69 851.33,847.85 C852.99,848.01 854.65,848.14 856.32,848.22 C857.98,848.30 859.64,848.27 861.31,848.32 C862.97,848.37 864.64,848.39 866.30,848.52 C867.96,848.65 869.63,848.94 871.29,849.11 C872.95,849.28 874.62,849.40 876.28,849.52 C877.94,849.65 879.61,849.77 881.27,849.87 C882.93,849.97 884.60,850.06 886.26,850.12 C887.92,850.18 889.59,850.13 891.25,850.22 C892.92,850.31 894.58,850.60 896.24,850.68 C897.91,850.75 899.57,850.55 901.23,850.65 C902.90,850.76 904.56,851.19 906.22,851.32 C907.89,851.45 909.55,851.41 911.21,851.45 C912.88,851.48 914.54,851.48 916.21,851.53 C917.87,851.58 919.53,851.74 921.20,851.77 C922.86,851.79 924.52,851.68 926.19,851.69 C927.85,851.71 929.51,851.81 931.18,851.85 C932.84,851.89 934.50,851.87 936.17,851.93 C937.83,851.99 939.50,852.10 941.16,852.22 C942.82,852.34 944.49,852.60 946.15,852.64 C947.81,852.67 949.48,852.46 951.14,852.44 C952.80,852.42 954.47,852.50 956.13,852.54 C957.79,852.57 959.46,852.60 961.12,852.64 C962.78,852.69 964.45,852.82 966.11,852.82 C967.78,852.82 969.44,852.69 971.10,852.65 C972.77,852.61 974.43,852.52 976.09,852.59 C977.76,852.66 979.42,853.04 981.08,853.07 C982.75,853.11 984.41,852.82 986.07,852.81 C987.74,852.79 989.40,852.98 991.07,853.00 C992.73,853.03 994.39,852.99 996.06,852.96 C997.72,852.92 999.38,852.81 1001.05,852.78 C1002.71,852.75 1004.37,852.74 1006.04,852.77 C1007.70,852.80 1009.36,852.88 1011.03,852.96 C1012.69,853.03 1014.36,853.24 1016.02,853.22 C1017.68,853.20 1019.35,852.84 1021.01,852.85 C1022.67,852.85 1025.17,853.19 1026.00,853.26" fill="none" stroke="#2440ee" stroke-width="2.1"/>
<path d="M651.70,847.52 C652.53,847.56 655.03,847.63 656.69,847.77 C658.35,847.91 660.02,848.24 661.68,848.37 C663.34,848.50 665.01,848.58 666.67,848.56 C668.34,848.54 670.00,848.31 671.66,848.24 C673.33,848.18 674.99,848.16 676.65,848.18 C678.32,848.20 679.98,848.38 681.64,848.36 C683.31,848.34 684.97,848.17 686.63,848.08 C688.30,847.98 689.96,847.91 691.63,847.82 C693.29,847.72 694.95,847.65 696.62,847.52 C698.28,847.38 699.94,847.25 701.61,847.02 C703.27,846.79 704.93,846.29 706.60,846.14 C708.26,845.99 709.92,846.21 711.59,846.10 C713.25,845.99 714.92,845.66 716.58,845.46 C718.24,845.26 719.91,845.08 721.57,844.90 C723.23,844.72 724.90,844.60 726.56,844.37 C728.22,844.14 729.89,843.79 731.55,843.53 C733.21,843.28 734.88,843.05 736.54,842.83 C738.20,842.60 739.87,842.37 741.53,842.20 C743.20,842.02 744.86,841.93 746.52,841.76 C748.19,841.59 749.85,841.26 751.51,841.15 C753.18,841.05 754.84,841.22 756.50,841.13 C758.17,841.04 759.83,840.79 761.49,840.59 C763.16,840.38 764.82,839.98 766.49,839.90 C768.15,839.83 769.81,840.15 771.48,840.15 C773.14,840.15 774.80,839.96 776.47,839.90 C778.13,839.83 779.79,839.74 781.46,839.73 C783.12,839.73 784.78,839.87 786.45,839.89 C788.11,839.91 789.78,839.79 791.44,839.86 C793.10,839.93 794.77,840.21 796.43,840.32 C798.09,840.42 799.76,840.46 801.42,840.47 C803.08,840.49 804.75,840.28 806.41,840.41 C808.07,840.53 809.74,841.08 811.40,841.22 C813.06,841.36 814.73,841.09 816.39,841.23 C818.06,841.38 819.72,841.94 821.38,842.09 C823.05,842.24 824.71,842.02 826.37,842.15 C828.04,842.27 829.70,842.63 831.36,842.84 C833.03,843.05 834.69,843.17 836.35,843.39 C838.02,843.62 839.68,843.98 841.35,844.22 C843.01,844.45 844.67,844.69 846.34,844.82 C848.00,844.95 849.66,844.82 851.33,844.99 C852.99,845.17 854.65,845.62 856.32,845.85 C857.98,846.09 859.64,846.27 861.31,846.39 C862.97,846.50 864.64,846.46 866.30,846.57 C867.96,846.68 869.63,846.81 871.29,847.05 C872.95,847.28 874.62,847.82 876.28,847.98 C877.94,848.13 879.61,847.84 881.27,847.95 C882.93,848.05 884.60,848.42 886.26,848.62 C887.92,848.81 889.59,848.94 891.25,849.11 C892.92,849.28 894.58,849.52 896.24,849.65 C897.91,849.77 899.57,849.82 901.23,849.85 C902.90,849.89 904.56,849.75 906.22,849.87 C907.89,849.98 909.55,850.38 911.21,850.55 C912.88,850.73 914.54,850.81 916.21,850.92 C917.87,851.02 919.53,851.08 921.20,851.17 C922.86,851.25 924.52,851.35 926.19,851.41 C927.85,851.47 929.51,851.50 931.18,851.50 C932.84,851.50 934.50,851.30 936.17,851.39 C937.83,851.47 939.50,851.89 941.16,852.01 C942.82,852.13 944.49,852.13 946.15,852.10 C947.81,852.07 949.48,851.86 951.14,851.84 C952.80,851.81 954.47,851.89 956.13,851.93 C957.79,851.96 959.46,851.94 961.12,852.04 C962.78,852.14 964.45,852.45 966.11,852.53 C967.78,852.62 969.44,852.59 971.10,852.56 C972.77,852.52 974.43,852.30 976.09,852.31 C977.76,852.32 979.42,852.58 981.08,852.63 C982.75,852.67 984.41,852.53 986.07,852.57 C987.74,852.60 989.40,852.75 991.07,852.83 C992.73,852.90 994.39,853.02 996.06,853.03 C997.72,853.04 999.38,852.95 1001.05,852.89 C1002.71,852.84 1004.37,852.74 1006.04,852.71 C1007.70,852.68 1009.36,852.70 1011.03,852.72 C1012.69,852.75 1014.36,852.83 1016.02,852.87 C1017.68,852.90 1019.35,852.94 1021.01,852.95 C1022.67,852.96 1025.17,852.93 1026.00,852.93" fill="none" stroke="#ee28ee" stroke-width="2.1"/>
<rect x="651.7" y="584.5" width="374.30" height="275.10" fill="none" stroke="#000" stroke-width="2"/>
<path d="M651.70,853.40h-5.5M651.70,826.51h-3.2M651.70,799.62h-5.5M651.70,772.73h-3.2M651.70,745.84h-5.5M651.70,718.95h-3.2M651.70,692.06h-5.5M651.70,665.17h-3.2M651.70,638.28h-5.5M651.70,611.39h-3.2M651.70,859.60v3.2M693.29,859.60v5.5M734.88,859.60v3.2M776.47,859.60v5.5M818.06,859.60v3.2M859.64,859.60v5.5M901.23,859.60v3.2M942.82,859.60v5.5M984.41,859.60v3.2M1026.00,859.60v5.5" stroke="#000" stroke-width="2" fill="none"/>
<text transform="translate(631.21 859.03) scale(1.03 1)" font-family="Liberation Serif" font-size="17.19" font-weight="bold" fill="#000">0</text>
<text transform="translate(622.36 805.25) scale(1.03 1)" font-family="Liberation Serif" font-size="17.19" font-weight="bold" fill="#000">50</text>
<text transform="translate(613.51 751.47) scale(1.03 1)" font-family="Liberation Serif" font-size="17.19" font-weight="bold" fill="#000">100</text>
<text transform="translate(613.51 697.69) scale(1.03 1)" font-family="Liberation Serif" font-size="17.19" font-weight="bold" fill="#000">150</text>
<text transform="translate(613.51 643.91) scale(1.03 1)" font-family="Liberation Serif" font-size="17.19" font-weight="bold" fill="#000">200</text>
<text transform="translate(613.51 590.13) scale(1.03 1)" font-family="Liberation Serif" font-size="17.19" font-weight="bold" fill="#000">250</text>
<text transform="translate(679.78 883.42) scale(1.03 1)" font-family="Liberation Serif" font-size="17.78" font-weight="bold" fill="#000">450</text>
<text transform="translate(762.71 883.42) scale(1.03 1)" font-family="Liberation Serif" font-size="17.78" font-weight="bold" fill="#000">500</text>
<text transform="translate(845.89 883.42) scale(1.03 1)" font-family="Liberation Serif" font-size="17.78" font-weight="bold" fill="#000">550</text>
<text transform="translate(929.11 883.42) scale(1.03 1)" font-family="Liberation Serif" font-size="17.78" font-weight="bold" fill="#000">600</text>
<text transform="translate(1012.29 883.42) scale(1.03 1)" font-family="Liberation Serif" font-size="17.78" font-weight="bold" fill="#000">650</text>
<text x="605.63" y="820.42" transform="rotate(-90 605.63 820.42)" font-family="Liberation Serif" font-size="24.25" font-weight="bold" fill="#000" >FL Intensity (a.u.)</text>
<text x="748.23" y="904.00" font-family="Liberation Serif" font-size="24.77" font-weight="bold" fill="#000" >Wavelength (nm)</text>
<text transform="translate(934.28 628.80) scale(1 0.844)" font-family="Liberation Serif" font-size="14.84" font-weight="bold" fill="#000"><tspan font-size="14.84">cTnI (ng/mL)</tspan></text>
<text transform="translate(952.13 647.25) scale(1.0 1)" font-family="Liberation Serif" font-size="15.11" font-weight="bold" fill="#000">250</text>
<text transform="translate(952.57 665.65) scale(1.0 1)" font-family="Liberation Serif" font-size="14.52" font-weight="bold" fill="#000">200</text>
<rect x="960.3" y="682.0" width="2.5" height="2.5" fill="#000"/>
<rect x="960.3" y="700.8" width="2.5" height="2.5" fill="#000"/>
<rect x="960.3" y="719.6999999999999" width="2.5" height="2.5" fill="#000"/>
<text transform="translate(955.25 740.46) scale(1.3 1)" font-family="Liberation Serif" font-size="14.22" font-weight="bold" fill="#000">5</text>
<text transform="translate(955.13 758.60) scale(1.3 1)" font-family="Liberation Serif" font-size="13.93" font-weight="bold" fill="#000">1</text>
<text transform="translate(955.24 776.65) scale(1.3 1)" font-family="Liberation Serif" font-size="14.96" font-weight="bold" fill="#000">0</text>
<path d="M989.9,762.7V657" stroke="#000" stroke-width="1.8"/>
<path d="M989.9,649 L985.4,661 L994.4,661 Z" fill="#000"/>
<rect x="142.8" y="927.3" width="375.50" height="274.40" fill="none" stroke="#000" stroke-width="2.2"/>
<path d="M142.80,1190.80h-5.5M142.80,1164.45h-3.2M142.80,1138.10h-5.5M142.80,1111.75h-3.2M142.80,1085.40h-5.5M142.80,1059.05h-3.2M142.80,1032.70h-5.5M142.80,1006.35h-3.2M142.80,980.00h-5.5M142.80,953.65h-3.2M155.90,1201.70v5.5M189.00,1201.70v3.2M222.10,1201.70v5.5M255.20,1201.70v3.2M288.30,1201.70v5.5M321.40,1201.70v3.2M354.50,1201.70v5.5M387.60,1201.70v3.2M420.70,1201.70v5.5M453.80,1201.70v3.2M486.90,1201.70v5.5" stroke="#000" stroke-width="2" fill="none"/>
<text transform="translate(123.46 1196.33) scale(1.08 1)" font-family="Liberation Serif" font-size="16.89" font-weight="bold" fill="#000">0</text>
<text transform="translate(114.34 1143.63) scale(1.08 1)" font-family="Liberation Serif" font-size="16.89" font-weight="bold" fill="#000">50</text>
<text transform="translate(105.22 1090.93) scale(1.08 1)" font-family="Liberation Serif" font-size="16.89" font-weight="bold" fill="#000">100</text>
<text transform="translate(105.22 1038.23) scale(1.08 1)" font-family="Liberation Serif" font-size="16.89" font-weight="bold" fill="#000">150</text>
<text transform="translate(105.22 985.53) scale(1.08 1)" font-family="Liberation Serif" font-size="16.89" font-weight="bold" fill="#000">200</text>
<text transform="translate(105.22 932.83) scale(1.08 1)" font-family="Liberation Serif" font-size="16.89" font-weight="bold" fill="#000">250</text>
<text transform="translate(151.21 1225.83) scale(1.13 1)" font-family="Liberation Serif" font-size="16.59" font-weight="bold" fill="#000">0</text>
<text transform="translate(212.70 1225.83) scale(1.13 1)" font-family="Liberation Serif" font-size="16.59" font-weight="bold" fill="#000">50</text>
<text transform="translate(273.84 1225.83) scale(1.13 1)" font-family="Liberation Serif" font-size="16.59" font-weight="bold" fill="#000">100</text>
<text transform="translate(340.04 1225.83) scale(1.13 1)" font-family="Liberation Serif" font-size="16.59" font-weight="bold" fill="#000">150</text>
<text transform="translate(406.59 1225.83) scale(1.13 1)" font-family="Liberation Serif" font-size="16.59" font-weight="bold" fill="#000">200</text>
<text transform="translate(472.79 1225.83) scale(1.13 1)" font-family="Liberation Serif" font-size="16.59" font-weight="bold" fill="#000">250</text>
<text x="98.96" y="1164.53" transform="rotate(-90 98.96 1164.53)" font-family="Liberation Serif" font-size="24.35" font-weight="bold" fill="#000" >FL Intensity (a.u.)</text>
<text x="260.36" y="1248.80" font-family="Liberation Serif" font-size="24.01" font-weight="bold" fill="#000" >cTnI (ng/mL)</text>
<path d="M162.52,1180.58V1183.11M159.32,1180.58h6.4M159.32,1183.11h6.4M169.14,1174.99V1181.31M165.94,1174.99h6.4M165.94,1181.31h6.4M182.38,1165.50V1173.94M179.18,1165.50h6.4M179.18,1173.94h6.4M195.62,1155.49V1164.98M192.42,1155.49h6.4M192.42,1164.98h6.4M208.86,1128.61V1137.05M205.66,1128.61h6.4M205.66,1137.05h6.4M222.10,1109.64V1115.97M218.90,1109.64h6.4M218.90,1115.97h6.4M235.34,1085.40V1102.26M232.14,1085.40h6.4M232.14,1102.26h6.4M261.82,1061.16V1065.37M258.62,1061.16h6.4M258.62,1065.37h6.4M288.30,1027.43V1042.19M285.10,1027.43h6.4M285.10,1042.19h6.4M354.50,1006.35V1023.21M351.30,1006.35h6.4M351.30,1023.21h6.4M420.70,983.16V997.92M417.50,983.16h6.4M417.50,997.92h6.4M486.90,959.97V970.51M483.70,959.97h6.4M483.70,970.51h6.4" stroke="#000" stroke-width="1.8" fill="none"/>
<path d="M152.70,1182.33h6.4v6.4h-6.4zM154.02,1181.80h6.4v6.4h-6.4zM159.32,1178.64h6.4v6.4h-6.4zM165.94,1174.95h6.4v6.4h-6.4zM179.18,1166.52h6.4v6.4h-6.4zM192.42,1157.03h6.4v6.4h-6.4zM205.66,1129.63h6.4v6.4h-6.4zM218.90,1109.60h6.4v6.4h-6.4zM232.14,1090.63h6.4v6.4h-6.4zM258.62,1060.07h6.4v6.4h-6.4zM285.10,1031.61h6.4v6.4h-6.4zM351.30,1011.58h6.4v6.4h-6.4zM417.50,987.34h6.4v6.4h-6.4zM483.70,962.04h6.4v6.4h-6.4z" fill="#111"/>
<rect x="339.6" y="1059.9" width="169.90" height="124.40" fill="#fff" stroke="#000" stroke-width="1.4"/>
<path d="M339.60,1179.40h-3.5M339.60,1164.45h-2M339.60,1149.50h-3.5M339.60,1134.55h-2M339.60,1119.60h-3.5M339.60,1104.65h-2M339.60,1089.70h-3.5M339.60,1074.75h-2M349.10,1184.30v3.5M372.05,1184.30v2M395.00,1184.30v3.5M417.95,1184.30v2M440.90,1184.30v3.5M463.85,1184.30v2M486.80,1184.30v3.5M509.75,1184.30v2" stroke="#000" stroke-width="1.2" fill="none"/>
<text transform="translate(330.20 1183.28) scale(1.15 1)" font-family="Liberation Serif" font-size="11.85" font-weight="bold" fill="#000">0</text>
<text transform="translate(323.38 1153.38) scale(1.15 1)" font-family="Liberation Serif" font-size="11.85" font-weight="bold" fill="#000">10</text>
<text transform="translate(323.38 1123.48) scale(1.15 1)" font-family="Liberation Serif" font-size="11.85" font-weight="bold" fill="#000">20</text>
<text transform="translate(323.38 1093.58) scale(1.15 1)" font-family="Liberation Serif" font-size="11.85" font-weight="bold" fill="#000">30</text>
<text transform="translate(323.38 1063.68) scale(1.15 1)" font-family="Liberation Serif" font-size="11.85" font-weight="bold" fill="#000">40</text>
<text transform="translate(345.74 1198.08) scale(1.15 1)" font-family="Liberation Serif" font-size="11.70" font-weight="bold" fill="#000">0</text>
<text transform="translate(387.98 1198.08) scale(1.15 1)" font-family="Liberation Serif" font-size="11.70" font-weight="bold" fill="#000">10</text>
<text transform="translate(434.14 1198.08) scale(1.15 1)" font-family="Liberation Serif" font-size="11.70" font-weight="bold" fill="#000">20</text>
<text transform="translate(480.07 1198.08) scale(1.15 1)" font-family="Liberation Serif" font-size="11.70" font-weight="bold" fill="#000">30</text>
<path d="M354.4,1163.6 L486.8,1092.5" stroke="#c03030" stroke-width="1.3"/>
<path d="M372.05,1149.50V1158.47M370.25,1149.50h3.6M370.25,1158.47h3.6M395.00,1133.06V1151.00M393.20,1133.06h3.6M393.20,1151.00h3.6M440.90,1106.74V1132.46M439.10,1106.74h3.6M439.10,1132.46h3.6M486.80,1078.64V1104.95M485.00,1078.64h3.6M485.00,1104.95h3.6" stroke="#111" stroke-width="1.4" fill="none"/>
<path d="M347.50,1162.85h3.2v3.2h-3.2zM352.09,1162.25h3.2v3.2h-3.2zM370.45,1152.39h3.2v3.2h-3.2zM393.40,1140.43h3.2v3.2h-3.2zM439.30,1118.00h3.2v3.2h-3.2zM485.20,1090.19h3.2v3.2h-3.2z" fill="#111"/>
<ellipse cx="175.1" cy="1170.9" rx="32.5" ry="30.5" fill="none" stroke="#d02020" stroke-width="2.3" stroke-dasharray="3.2 6.8"/>
<path d="M209,1146 L309,1066" stroke="#d02020" stroke-width="2" stroke-dasharray="2.2 5.2" fill="none"/>
<path d="M315,1061.5 L303.5,1064.5 L309.2,1071.5 Z" fill="#d02020"/>
<path d="M197,1194.2 L322,1194.2" stroke="#d02020" stroke-width="2" stroke-dasharray="2.2 5.2" fill="none"/>
<path d="M330.7,1194.2 L320,1190.5 L320,1197.9 Z" fill="#d02020"/>
<rect x="653.2" y="925.8" width="376.60" height="275.70" fill="none" stroke="#000" stroke-width="2.2"/>
<path d="M653.20,1172.85h-3.2M653.20,1145.40h-5.5M653.20,1117.95h-3.2M653.20,1090.50h-5.5M653.20,1063.05h-3.2M653.20,1035.60h-5.5M653.20,1008.15h-3.2M653.20,980.70h-5.5M653.20,953.25h-3.2M686.80,1201.50v3.2M720.90,1201.50v5.5M755.00,1201.50v3.2M789.10,1201.50v5.5M823.20,1201.50v3.2M857.30,1201.50v5.5M891.40,1201.50v3.2M925.50,1201.50v5.5M959.60,1201.50v3.2M993.70,1201.50v5.5M1027.80,1201.50v3.2" stroke="#000" stroke-width="2" fill="none"/>
<path d="M647.7,925.80h5.5M647.7,1200.30h5.5" stroke="#000" stroke-width="2"/>
<text transform="translate(635.17 1205.73) scale(1.15 1)" font-family="Liberation Serif" font-size="16.59" font-weight="bold" fill="#000">0</text>
<text transform="translate(625.63 1150.83) scale(1.15 1)" font-family="Liberation Serif" font-size="16.59" font-weight="bold" fill="#000">50</text>
<text transform="translate(616.09 1095.93) scale(1.15 1)" font-family="Liberation Serif" font-size="16.59" font-weight="bold" fill="#000">100</text>
<text transform="translate(616.09 1041.03) scale(1.15 1)" font-family="Liberation Serif" font-size="16.59" font-weight="bold" fill="#000">150</text>
<text transform="translate(616.09 986.13) scale(1.15 1)" font-family="Liberation Serif" font-size="16.59" font-weight="bold" fill="#000">200</text>
<text transform="translate(616.09 931.23) scale(1.15 1)" font-family="Liberation Serif" font-size="16.59" font-weight="bold" fill="#000">250</text>
<text transform="translate(641.59 1224.34) scale(1.1 1)" font-family="Liberation Serif" font-size="17.19" font-weight="bold" fill="#000">1.4</text>
<text transform="translate(709.91 1224.34) scale(1.1 1)" font-family="Liberation Serif" font-size="17.19" font-weight="bold" fill="#000">1.6</text>
<text transform="translate(778.14 1224.34) scale(1.1 1)" font-family="Liberation Serif" font-size="17.19" font-weight="bold" fill="#000">1.8</text>
<text transform="translate(846.74 1224.34) scale(1.1 1)" font-family="Liberation Serif" font-size="17.19" font-weight="bold" fill="#000">2.0</text>
<text transform="translate(914.99 1224.34) scale(1.1 1)" font-family="Liberation Serif" font-size="17.19" font-weight="bold" fill="#000">2.2</text>
<text transform="translate(982.95 1224.34) scale(1.1 1)" font-family="Liberation Serif" font-size="17.19" font-weight="bold" fill="#000">2.4</text>
<text x="610.22" y="1161.22" transform="rotate(-90 610.22 1161.22)" font-family="Liberation Serif" font-size="24.23" font-weight="bold" fill="#000" >FL Intensity (a.u.)</text>
<text x="729.58" y="1247.60" font-family="Liberation Serif" font-size="24.26" font-weight="bold" fill="#000" >Log [cTnI] (ng/mL)</text>
<path d="M677.7,1165.8 L993.5,961.3" stroke="#c02828" stroke-width="2.4"/>
<path d="M678.96,1164.07V1172.85M675.96,1164.07h6M675.96,1172.85h6M720.90,1136.07V1143.75M717.90,1136.07h6M717.90,1143.75h6M755.00,1116.85V1123.44M752.00,1116.85h6M752.00,1123.44h6M781.60,1089.40V1109.17M778.60,1089.40h6M778.60,1109.17h6M824.22,1064.70V1070.19M821.22,1064.70h6M821.22,1070.19h6M857.30,1030.11V1045.48M854.30,1030.11h6M854.30,1045.48h6M917.32,1008.15V1025.72M914.32,1008.15h6M914.32,1025.72h6M959.94,983.99V999.37M956.94,983.99h6M956.94,999.37h6M993.02,959.84V970.82M990.02,959.84h6M990.02,970.82h6" stroke="#000" stroke-width="1.8" fill="none"/>
<path d="M675.86,1165.36h6.2v6.2h-6.2zM717.80,1136.81h6.2v6.2h-6.2zM751.90,1117.05h6.2v6.2h-6.2zM778.50,1096.18h6.2v6.2h-6.2zM821.12,1064.34h6.2v6.2h-6.2zM854.20,1034.70h6.2v6.2h-6.2zM914.22,1013.83h6.2v6.2h-6.2zM956.84,988.58h6.2v6.2h-6.2zM989.92,962.23h6.2v6.2h-6.2z" fill="#111"/>
<rect x="79.5" y="258" width="215.5" height="188.4" fill="#f8f8f8"/>
<rect x="467" y="273.5" width="198.5" height="157.5" fill="#f8f8f8"/>
<text x="134.36" y="67.30" font-family="Liberation Sans" font-size="32.50" font-weight="bold" font-style="italic" fill="#3c6ee0">OPD</text>
<text x="132.46" y="65.60" font-family="Liberation Sans" font-size="32.50" font-weight="bold" font-style="italic" fill="#111" stroke="#fff" stroke-width="1.0">OPD</text>
<text x="105.53" y="171.30" font-family="Liberation Sans" font-size="32.34" font-weight="bold" font-style="italic" fill="#3c6ee0">oxOPD</text>
<text x="103.63" y="169.60" font-family="Liberation Sans" font-size="32.34" font-weight="bold" font-style="italic" fill="#f07010" stroke="#fff" stroke-width="1.0">oxOPD</text>
<text x="541.37" y="65.30" font-family="Liberation Sans" font-size="32.11" font-weight="bold" font-style="italic" fill="#3c6ee0">OPD</text>
<text x="539.47" y="63.60" font-family="Liberation Sans" font-size="32.11" font-weight="bold" font-style="italic" fill="#111" stroke="#fff" stroke-width="1.0">OPD</text>
<text x="536.74" y="168.00" font-family="Liberation Sans" font-size="32.16" font-weight="bold" font-style="italic" fill="#3c6ee0">oxOPD</text>
<text x="534.84" y="166.30" font-family="Liberation Sans" font-size="32.16" font-weight="bold" font-style="italic" fill="#f07010" stroke="#fff" stroke-width="1.0">oxOPD</text>
<circle cx="221.7" cy="56.1" r="3.2" fill="#3a9ad6"/>
<circle cx="230.3" cy="57.7" r="3.2" fill="#3a9ad6"/>
<circle cx="238.9" cy="61.0" r="3.2" fill="#3a9ad6"/>
<circle cx="245.6" cy="65.8" r="3.2" fill="#3a9ad6"/>
<path d="M252.3,72.8 C262,84 266,96 264.7,108 C263.5,124 254,142 242.6,150.8 C236,156 230,159.5 225,161.3" fill="none" stroke="#3a9ad6" stroke-width="6.8" stroke-linecap="round"/>
<path d="M234.6,143.8 L224.2,161.5 L245.9,161.5" fill="none" stroke="#3a9ad6" stroke-width="6.8" stroke-linecap="round" stroke-linejoin="round"/>
<circle cx="528.6" cy="55.0" r="3.2" fill="#3a9ad6"/>
<circle cx="519.5" cy="57.0" r="3.2" fill="#3a9ad6"/>
<circle cx="510.9" cy="60.2" r="3.2" fill="#3a9ad6"/>
<circle cx="503.9" cy="65.3" r="3.2" fill="#3a9ad6"/>
<path d="M497.4,72.3 C488,84 484.5,96 485.3,110 C486,126 494,137 502.3,143.2 C510,150 518,156 526,161" fill="none" stroke="#3a9ad6" stroke-width="6.8" stroke-linecap="round"/>
<path d="M516.2,142.2 L526.6,161.3 L504.4,161.0" fill="none" stroke="#3a9ad6" stroke-width="6.8" stroke-linecap="round" stroke-linejoin="round"/>
<path d="M167.3,187.5 V230" stroke="#000" stroke-width="3.1"/>
<path d="M167.3,237.6 L162.5,228 L172.1,228 Z" fill="#000"/>
<circle cx="319.7" cy="141.7" r="21.7" fill="url(#gSph)"/>
<circle cx="304.7" cy="134.6" r="3.2" fill="#e89030"/><circle cx="304.7" cy="134.0" r="3.1" fill="#d87a20"/><circle cx="301.2" cy="134.4" r="2.6" fill="#e89030"/><circle cx="301.2" cy="133.0" r="3.1" fill="#d87a20"/><circle cx="300.0" cy="133.9" r="2.6" fill="#c87020"/><circle cx="297.1" cy="132.5" r="3.1" fill="#d87a20"/><circle cx="296.4" cy="131.8" r="2.7" fill="#f0a848"/><circle cx="295.7" cy="132.8" r="2.7" fill="#d87a20"/><circle cx="293.8" cy="132.0" r="2.6" fill="#e89030"/><circle cx="293.1" cy="131.4" r="3.1" fill="#f0a848"/><circle cx="292.7" cy="132.5" r="2.2" fill="#d87a20"/><circle cx="292.5" cy="131.2" r="2.1" fill="#f0a848"/><circle cx="290.8" cy="131.0" r="2.4" fill="#f0a848"/><circle cx="290.0" cy="128.2" r="2.3" fill="#d87a20"/><circle cx="289.3" cy="127.7" r="2.3" fill="#e89030"/><circle cx="288.8" cy="126.9" r="2.3" fill="#f0a848"/><circle cx="286.2" cy="126.9" r="2.3" fill="#c87020"/><circle cx="284.4" cy="125.5" r="2.1" fill="#e89030"/><circle cx="283.4" cy="126.4" r="2.4" fill="#c87020"/><circle cx="282.9" cy="124.9" r="2.4" fill="#e89030"/><circle cx="293.9" cy="131.0" r="2.4" fill="#c87020"/><circle cx="290.5" cy="133.2" r="2.0" fill="#d87a20"/><circle cx="290.2" cy="134.8" r="2.3" fill="#d87a20"/><circle cx="289.2" cy="135.0" r="2.6" fill="#c87020"/><circle cx="289.1" cy="135.4" r="2.2" fill="#f0a848"/><circle cx="287.5" cy="136.8" r="2.1" fill="#e89030"/><circle cx="285.0" cy="137.6" r="2.1" fill="#c87020"/><circle cx="285.6" cy="138.6" r="2.1" fill="#d87a20"/><circle cx="283.3" cy="140.2" r="2.3" fill="#d87a20"/><circle cx="282.9" cy="141.7" r="2.4" fill="#e89030"/><circle cx="278.0" cy="126.7" r="3.6" fill="#d83020"/><circle cx="281.9" cy="126.4" r="3.0" fill="#c82418"/><circle cx="286.1" cy="126.4" r="3.1" fill="#e03a20"/><circle cx="281.9" cy="124.0" r="3.1" fill="#d83020"/><circle cx="286.5" cy="127.4" r="3.0" fill="#d42a20"/><circle cx="284.5" cy="128.8" r="4.6" fill="#e88a30"/><circle cx="280.1" cy="122.7" r="4.4" fill="#d42a20"/><circle cx="287.7" cy="125.0" r="3.4" fill="#c82418"/><circle cx="286.8" cy="129.4" r="3.8" fill="#e88a30"/><circle cx="281.9" cy="121.1" r="4.6" fill="#e03a20"/><circle cx="281.2" cy="124.8" r="4.6" fill="#d83020"/><circle cx="283.7" cy="121.8" r="4.2" fill="#d42a20"/><circle cx="283.2" cy="128.9" r="3.5" fill="#e03a20"/><circle cx="284.3" cy="129.7" r="3.5" fill="#d83020"/><circle cx="284.4" cy="130.7" r="4.4" fill="#e03a20"/><circle cx="285.7" cy="120.4" r="3.2" fill="#e03a20"/><circle cx="278.2" cy="125.4" r="4.3" fill="#d42a20"/><circle cx="280.8" cy="125.7" r="4.6" fill="#d83020"/><circle cx="277.9" cy="127.1" r="4.6" fill="#e88a30"/><circle cx="281.6" cy="127.4" r="3.7" fill="#e03a20"/><circle cx="281.3" cy="128.8" r="4.4" fill="#d83020"/><circle cx="278.6" cy="125.8" r="4.4" fill="#d42a20"/><circle cx="286.3" cy="127.8" r="3.8" fill="#e03a20"/><circle cx="285.9" cy="130.1" r="3.0" fill="#e88a30"/><circle cx="288.4" cy="123.5" r="3.6" fill="#c82418"/><circle cx="288.4" cy="123.5" r="4.7" fill="#e03a20"/><circle cx="288.2" cy="126.0" r="4.4" fill="#c82418"/><circle cx="286.9" cy="129.6" r="4.1" fill="#c82418"/><circle cx="279.7" cy="145.4" r="2.9" fill="#3c8c34"/><circle cx="284.0" cy="136.7" r="3.8" fill="#4ca040"/><circle cx="286.1" cy="140.1" r="4.4" fill="#3c8c34"/><circle cx="283.1" cy="144.7" r="3.8" fill="#62b050"/><circle cx="282.7" cy="138.2" r="3.6" fill="#2c3cb0"/><circle cx="286.4" cy="146.0" r="4.5" fill="#62b050"/><circle cx="279.5" cy="137.0" r="3.6" fill="#2c3cb0"/><circle cx="286.2" cy="139.5" r="3.2" fill="#2c3cb0"/><circle cx="276.7" cy="141.3" r="4.0" fill="#3c8c34"/><circle cx="282.8" cy="139.4" r="3.7" fill="#3c8c34"/><circle cx="281.7" cy="137.2" r="4.1" fill="#62b050"/><circle cx="278.2" cy="140.9" r="4.5" fill="#4ca040"/><circle cx="284.9" cy="142.6" r="4.3" fill="#4ca040"/><circle cx="277.8" cy="141.5" r="3.7" fill="#4ca040"/><circle cx="279.1" cy="138.9" r="3.2" fill="#2c3cb0"/><circle cx="281.7" cy="146.0" r="3.8" fill="#3848c8"/><circle cx="282.5" cy="146.1" r="4.6" fill="#62b050"/><circle cx="284.6" cy="140.0" r="3.1" fill="#3848c8"/><circle cx="285.4" cy="144.5" r="4.1" fill="#4ca040"/><circle cx="279.8" cy="142.9" r="4.3" fill="#62b050"/><circle cx="284.3" cy="140.2" r="4.1" fill="#58a848"/><circle cx="280.3" cy="144.0" r="4.7" fill="#3c8c34"/><circle cx="283.5" cy="147.6" r="4.5" fill="#3848c8"/><circle cx="285.0" cy="146.0" r="3.2" fill="#3c8c34"/><circle cx="278.4" cy="143.5" r="3.6" fill="#62b050"/><circle cx="281.2" cy="143.2" r="2.9" fill="#62b050"/><circle cx="278.6" cy="140.3" r="3.6" fill="#4ca040"/><circle cx="279.1" cy="141.3" r="3.1" fill="#4ca040"/>
<circle cx="335.3" cy="129.7" r="3.4" fill="#e89030"/><circle cx="335.0" cy="128.3" r="3.3" fill="#f0a848"/><circle cx="337.6" cy="129.4" r="3.4" fill="#f0a848"/><circle cx="338.1" cy="127.7" r="3.1" fill="#c87020"/><circle cx="340.2" cy="125.6" r="2.6" fill="#d87a20"/><circle cx="340.9" cy="124.6" r="3.5" fill="#e89030"/><circle cx="343.3" cy="123.7" r="3.4" fill="#e89030"/><circle cx="343.2" cy="122.9" r="2.6" fill="#c87020"/><circle cx="346.3" cy="122.3" r="2.7" fill="#d87a20"/><circle cx="347.7" cy="123.2" r="2.8" fill="#d87a20"/><circle cx="345.8" cy="121.5" r="2.1" fill="#d87a20"/><circle cx="347.1" cy="122.2" r="2.0" fill="#f0a848"/><circle cx="349.5" cy="123.8" r="1.9" fill="#e89030"/><circle cx="350.3" cy="122.9" r="2.1" fill="#c87020"/><circle cx="350.1" cy="122.8" r="2.4" fill="#c87020"/><circle cx="352.2" cy="123.3" r="2.6" fill="#f0a848"/><circle cx="353.3" cy="124.7" r="2.2" fill="#d87a20"/><circle cx="353.6" cy="123.3" r="2.0" fill="#d87a20"/><circle cx="353.6" cy="124.3" r="2.6" fill="#c87020"/><circle cx="355.0" cy="123.1" r="2.5" fill="#f0a848"/><circle cx="346.9" cy="122.5" r="2.0" fill="#d87a20"/><circle cx="345.5" cy="120.5" r="2.1" fill="#f0a848"/><circle cx="347.4" cy="119.4" r="2.1" fill="#f0a848"/><circle cx="345.2" cy="117.1" r="2.2" fill="#e89030"/><circle cx="345.6" cy="116.5" r="2.1" fill="#e89030"/><circle cx="344.4" cy="116.0" r="2.0" fill="#e89030"/><circle cx="344.9" cy="113.3" r="2.4" fill="#e89030"/><circle cx="345.2" cy="112.5" r="2.5" fill="#c87020"/><circle cx="345.4" cy="111.6" r="2.3" fill="#f0a848"/><circle cx="345.1" cy="110.1" r="2.0" fill="#c87020"/><circle cx="355.3" cy="118.7" r="4.5" fill="#e03a20"/><circle cx="356.0" cy="119.6" r="4.4" fill="#d42a20"/><circle cx="350.9" cy="121.3" r="3.0" fill="#e03a20"/><circle cx="360.6" cy="125.5" r="3.6" fill="#d42a20"/><circle cx="354.6" cy="124.6" r="4.0" fill="#d42a20"/><circle cx="354.1" cy="120.3" r="3.7" fill="#d42a20"/><circle cx="361.3" cy="126.7" r="3.0" fill="#d83020"/><circle cx="350.7" cy="123.3" r="3.3" fill="#c82418"/><circle cx="358.7" cy="125.6" r="3.3" fill="#e03a20"/><circle cx="353.4" cy="120.8" r="3.0" fill="#c82418"/><circle cx="358.7" cy="122.4" r="4.0" fill="#d42a20"/><circle cx="354.8" cy="122.9" r="3.5" fill="#e03a20"/><circle cx="352.9" cy="120.0" r="3.9" fill="#d83020"/><circle cx="357.4" cy="124.3" r="4.7" fill="#e88a30"/><circle cx="358.2" cy="125.9" r="3.4" fill="#c82418"/><circle cx="351.7" cy="123.8" r="4.3" fill="#c82418"/><circle cx="360.5" cy="124.0" r="4.7" fill="#e88a30"/><circle cx="356.6" cy="123.9" r="3.0" fill="#c82418"/><circle cx="349.8" cy="123.9" r="3.6" fill="#e88a30"/><circle cx="361.0" cy="121.2" r="3.9" fill="#d42a20"/><circle cx="358.7" cy="127.7" r="3.1" fill="#e88a30"/><circle cx="357.8" cy="120.2" r="4.2" fill="#d42a20"/><circle cx="356.6" cy="130.0" r="3.6" fill="#c82418"/><circle cx="359.1" cy="129.2" r="3.6" fill="#c82418"/><circle cx="355.3" cy="120.3" r="3.5" fill="#c82418"/><circle cx="356.0" cy="124.0" r="4.4" fill="#e88a30"/><circle cx="360.2" cy="128.3" r="4.5" fill="#d42a20"/><circle cx="355.0" cy="127.8" r="3.6" fill="#c82418"/><circle cx="345.7" cy="108.5" r="4.3" fill="#3848c8"/><circle cx="346.5" cy="107.1" r="4.4" fill="#4ca040"/><circle cx="343.2" cy="115.5" r="4.7" fill="#3c8c34"/><circle cx="341.3" cy="111.0" r="4.3" fill="#62b050"/><circle cx="343.6" cy="110.2" r="3.6" fill="#58a848"/><circle cx="347.8" cy="106.5" r="4.2" fill="#3c8c34"/><circle cx="349.5" cy="111.3" r="4.0" fill="#3848c8"/><circle cx="348.2" cy="114.1" r="3.0" fill="#3848c8"/><circle cx="346.5" cy="108.7" r="3.6" fill="#3848c8"/><circle cx="343.9" cy="112.7" r="4.7" fill="#58a848"/><circle cx="344.2" cy="114.7" r="3.8" fill="#62b050"/><circle cx="343.5" cy="107.8" r="3.2" fill="#58a848"/><circle cx="346.0" cy="115.3" r="3.9" fill="#3848c8"/><circle cx="341.1" cy="110.7" r="3.7" fill="#3848c8"/><circle cx="341.6" cy="108.8" r="3.5" fill="#3c8c34"/><circle cx="347.0" cy="111.3" r="4.4" fill="#62b050"/><circle cx="344.8" cy="110.5" r="3.6" fill="#3848c8"/><circle cx="344.4" cy="106.9" r="3.5" fill="#62b050"/><circle cx="347.5" cy="110.9" r="3.1" fill="#62b050"/><circle cx="339.6" cy="109.6" r="3.0" fill="#3c8c34"/><circle cx="347.5" cy="107.4" r="3.7" fill="#58a848"/><circle cx="349.9" cy="108.1" r="3.1" fill="#4ca040"/><circle cx="339.7" cy="112.1" r="4.7" fill="#3848c8"/><circle cx="342.8" cy="109.8" r="4.4" fill="#2c3cb0"/><circle cx="347.5" cy="109.2" r="3.3" fill="#4ca040"/><circle cx="348.0" cy="114.7" r="4.6" fill="#4ca040"/><circle cx="343.6" cy="104.8" r="3.0" fill="#3848c8"/><circle cx="344.5" cy="109.5" r="3.3" fill="#3c8c34"/>
<circle cx="324.9" cy="161.8" r="2.9" fill="#d87a20"/><circle cx="324.2" cy="162.6" r="3.0" fill="#e89030"/><circle cx="323.0" cy="163.2" r="3.5" fill="#d87a20"/><circle cx="323.8" cy="164.1" r="3.1" fill="#e89030"/><circle cx="324.3" cy="167.3" r="2.8" fill="#f0a848"/><circle cx="324.7" cy="168.2" r="3.0" fill="#d87a20"/><circle cx="324.6" cy="167.1" r="3.0" fill="#f0a848"/><circle cx="323.4" cy="168.7" r="3.4" fill="#c87020"/><circle cx="323.6" cy="169.9" r="3.0" fill="#f0a848"/><circle cx="324.1" cy="170.6" r="2.9" fill="#c87020"/><circle cx="324.4" cy="171.5" r="1.9" fill="#f0a848"/><circle cx="325.2" cy="173.0" r="2.1" fill="#d87a20"/><circle cx="323.9" cy="174.9" r="2.1" fill="#d87a20"/><circle cx="323.5" cy="176.2" r="2.0" fill="#c87020"/><circle cx="324.2" cy="177.4" r="2.3" fill="#e89030"/><circle cx="324.9" cy="176.6" r="2.2" fill="#d87a20"/><circle cx="322.2" cy="178.9" r="2.2" fill="#e89030"/><circle cx="322.4" cy="179.7" r="2.4" fill="#f0a848"/><circle cx="323.6" cy="182.2" r="2.6" fill="#f0a848"/><circle cx="322.0" cy="182.5" r="2.3" fill="#c87020"/><circle cx="323.6" cy="172.2" r="2.2" fill="#f0a848"/><circle cx="327.7" cy="172.1" r="2.0" fill="#e89030"/><circle cx="327.4" cy="172.3" r="2.6" fill="#e89030"/><circle cx="329.8" cy="173.8" r="2.2" fill="#f0a848"/><circle cx="332.1" cy="173.4" r="2.0" fill="#c87020"/><circle cx="332.1" cy="174.2" r="2.2" fill="#f0a848"/><circle cx="334.1" cy="175.6" r="1.9" fill="#c87020"/><circle cx="335.4" cy="175.3" r="2.2" fill="#c87020"/><circle cx="336.5" cy="174.3" r="2.6" fill="#f0a848"/><circle cx="338.5" cy="174.8" r="2.4" fill="#f0a848"/><circle cx="322.0" cy="188.1" r="3.0" fill="#d83020"/><circle cx="322.7" cy="177.0" r="3.4" fill="#e88a30"/><circle cx="322.0" cy="177.4" r="2.9" fill="#d42a20"/><circle cx="323.2" cy="186.3" r="4.6" fill="#c82418"/><circle cx="320.5" cy="184.1" r="4.4" fill="#c82418"/><circle cx="325.7" cy="185.3" r="4.4" fill="#d42a20"/><circle cx="322.4" cy="176.5" r="4.0" fill="#e03a20"/><circle cx="321.2" cy="185.2" r="4.3" fill="#e88a30"/><circle cx="319.2" cy="179.6" r="4.3" fill="#c82418"/><circle cx="322.8" cy="183.7" r="3.8" fill="#d42a20"/><circle cx="320.4" cy="181.4" r="4.5" fill="#c82418"/><circle cx="326.0" cy="181.9" r="3.3" fill="#d42a20"/><circle cx="317.4" cy="185.0" r="3.2" fill="#c82418"/><circle cx="325.6" cy="185.2" r="4.3" fill="#e03a20"/><circle cx="325.7" cy="178.0" r="4.3" fill="#d42a20"/><circle cx="321.9" cy="185.2" r="3.6" fill="#e88a30"/><circle cx="322.6" cy="179.4" r="3.2" fill="#e03a20"/><circle cx="323.1" cy="185.3" r="3.2" fill="#d83020"/><circle cx="325.6" cy="183.3" r="3.8" fill="#e03a20"/><circle cx="323.4" cy="187.6" r="4.7" fill="#c82418"/><circle cx="326.2" cy="184.6" r="4.4" fill="#e03a20"/><circle cx="323.9" cy="181.5" r="3.3" fill="#e88a30"/><circle cx="327.3" cy="183.6" r="3.2" fill="#d83020"/><circle cx="326.7" cy="184.1" r="3.7" fill="#e03a20"/><circle cx="322.5" cy="187.5" r="3.1" fill="#d42a20"/><circle cx="318.8" cy="179.3" r="2.9" fill="#e03a20"/><circle cx="322.1" cy="183.2" r="2.9" fill="#e88a30"/><circle cx="322.1" cy="176.3" r="4.4" fill="#d42a20"/><circle cx="336.1" cy="177.9" r="3.4" fill="#2c3cb0"/><circle cx="340.9" cy="181.2" r="3.8" fill="#2c3cb0"/><circle cx="334.7" cy="178.9" r="3.9" fill="#58a848"/><circle cx="338.1" cy="174.5" r="3.6" fill="#3c8c34"/><circle cx="338.5" cy="182.0" r="3.4" fill="#58a848"/><circle cx="342.6" cy="174.9" r="4.5" fill="#2c3cb0"/><circle cx="338.6" cy="176.3" r="4.1" fill="#62b050"/><circle cx="336.3" cy="178.4" r="3.7" fill="#4ca040"/><circle cx="340.4" cy="177.6" r="3.6" fill="#4ca040"/><circle cx="342.4" cy="173.1" r="3.1" fill="#3c8c34"/><circle cx="341.5" cy="176.6" r="3.0" fill="#3848c8"/><circle cx="336.6" cy="173.3" r="3.2" fill="#2c3cb0"/><circle cx="337.9" cy="177.9" r="4.6" fill="#3c8c34"/><circle cx="342.6" cy="178.6" r="3.4" fill="#3c8c34"/><circle cx="340.0" cy="174.8" r="3.5" fill="#3848c8"/><circle cx="335.5" cy="172.8" r="4.5" fill="#4ca040"/><circle cx="335.2" cy="172.1" r="4.1" fill="#3c8c34"/><circle cx="342.3" cy="172.1" r="4.4" fill="#2c3cb0"/><circle cx="340.6" cy="173.6" r="2.9" fill="#3c8c34"/><circle cx="341.6" cy="175.0" r="3.1" fill="#62b050"/><circle cx="339.4" cy="181.1" r="2.9" fill="#3c8c34"/><circle cx="334.4" cy="173.9" r="4.1" fill="#4ca040"/><circle cx="337.6" cy="179.3" r="3.9" fill="#3848c8"/><circle cx="336.9" cy="173.5" r="3.4" fill="#3848c8"/><circle cx="339.3" cy="179.7" r="3.7" fill="#62b050"/><circle cx="338.4" cy="176.3" r="4.7" fill="#2c3cb0"/><circle cx="335.3" cy="176.8" r="4.3" fill="#2c3cb0"/><circle cx="336.8" cy="176.6" r="3.6" fill="#3848c8"/>
<circle cx="414.9" cy="126.2" r="30.5" fill="url(#gSph)"/>
<circle cx="401.4" cy="101.0" r="2.9" fill="#c87020"/><circle cx="402.0" cy="100.0" r="2.6" fill="#d87a20"/><circle cx="400.5" cy="98.3" r="3.3" fill="#e89030"/><circle cx="399.9" cy="95.9" r="2.9" fill="#d87a20"/><circle cx="399.4" cy="92.9" r="3.1" fill="#e89030"/><circle cx="399.4" cy="93.4" r="3.0" fill="#d87a20"/><circle cx="400.2" cy="90.9" r="2.8" fill="#f0a848"/><circle cx="399.5" cy="87.8" r="2.9" fill="#f0a848"/><circle cx="399.8" cy="86.5" r="2.8" fill="#c87020"/><circle cx="397.5" cy="84.2" r="3.0" fill="#f0a848"/><circle cx="398.0" cy="84.0" r="2.2" fill="#f0a848"/><circle cx="398.5" cy="84.3" r="2.0" fill="#f0a848"/><circle cx="396.8" cy="81.9" r="2.4" fill="#f0a848"/><circle cx="398.8" cy="80.2" r="2.3" fill="#e89030"/><circle cx="396.7" cy="78.9" r="2.5" fill="#f0a848"/><circle cx="396.5" cy="78.6" r="2.3" fill="#f0a848"/><circle cx="396.5" cy="74.8" r="2.1" fill="#e89030"/><circle cx="396.1" cy="74.4" r="2.1" fill="#f0a848"/><circle cx="397.0" cy="73.5" r="2.1" fill="#f0a848"/><circle cx="396.5" cy="71.2" r="2.3" fill="#e89030"/><circle cx="397.3" cy="84.1" r="2.4" fill="#e89030"/><circle cx="394.8" cy="85.1" r="2.1" fill="#f0a848"/><circle cx="393.8" cy="84.8" r="2.1" fill="#d87a20"/><circle cx="390.6" cy="85.5" r="2.3" fill="#d87a20"/><circle cx="387.8" cy="86.1" r="2.4" fill="#c87020"/><circle cx="385.7" cy="85.8" r="2.5" fill="#f0a848"/><circle cx="384.2" cy="84.9" r="1.9" fill="#f0a848"/><circle cx="382.4" cy="85.9" r="2.4" fill="#c87020"/><circle cx="379.2" cy="86.8" r="2.0" fill="#e89030"/><circle cx="377.4" cy="85.2" r="2.0" fill="#e89030"/><circle cx="401.5" cy="71.8" r="3.6" fill="#e03a20"/><circle cx="397.9" cy="76.7" r="4.7" fill="#d83020"/><circle cx="391.4" cy="74.2" r="4.0" fill="#d83020"/><circle cx="395.7" cy="72.9" r="4.9" fill="#c82418"/><circle cx="402.7" cy="71.7" r="3.5" fill="#c82418"/><circle cx="394.5" cy="68.9" r="3.9" fill="#d42a20"/><circle cx="394.7" cy="69.4" r="4.8" fill="#e88a30"/><circle cx="395.7" cy="76.7" r="4.8" fill="#c82418"/><circle cx="402.3" cy="67.9" r="4.7" fill="#e88a30"/><circle cx="399.4" cy="70.7" r="3.4" fill="#d83020"/><circle cx="396.0" cy="74.9" r="5.3" fill="#e03a20"/><circle cx="396.1" cy="67.3" r="4.0" fill="#c82418"/><circle cx="396.7" cy="78.2" r="4.3" fill="#d83020"/><circle cx="399.4" cy="66.4" r="4.3" fill="#d42a20"/><circle cx="395.3" cy="66.1" r="5.0" fill="#e88a30"/><circle cx="392.0" cy="74.8" r="5.3" fill="#d83020"/><circle cx="396.9" cy="72.3" r="4.7" fill="#d42a20"/><circle cx="399.9" cy="77.4" r="3.4" fill="#d42a20"/><circle cx="399.9" cy="75.8" r="4.8" fill="#d42a20"/><circle cx="396.0" cy="69.6" r="5.0" fill="#d83020"/><circle cx="398.4" cy="78.0" r="5.2" fill="#d83020"/><circle cx="402.3" cy="74.1" r="3.6" fill="#c82418"/><circle cx="396.9" cy="73.7" r="5.4" fill="#d42a20"/><circle cx="401.4" cy="68.1" r="5.1" fill="#d42a20"/><circle cx="393.6" cy="68.6" r="3.6" fill="#d42a20"/><circle cx="397.7" cy="65.9" r="4.0" fill="#e88a30"/><circle cx="395.3" cy="71.9" r="5.3" fill="#e88a30"/><circle cx="402.1" cy="73.3" r="5.0" fill="#e88a30"/><circle cx="373.7" cy="83.0" r="4.6" fill="#62b050"/><circle cx="382.1" cy="86.8" r="4.4" fill="#3848c8"/><circle cx="381.6" cy="88.7" r="4.5" fill="#4ca040"/><circle cx="379.0" cy="92.4" r="4.6" fill="#4ca040"/><circle cx="376.5" cy="90.5" r="3.8" fill="#2c3cb0"/><circle cx="378.1" cy="78.9" r="4.1" fill="#4ca040"/><circle cx="382.5" cy="89.3" r="5.4" fill="#3c8c34"/><circle cx="371.8" cy="82.1" r="3.9" fill="#2c3cb0"/><circle cx="381.2" cy="84.6" r="5.3" fill="#3c8c34"/><circle cx="377.9" cy="88.8" r="5.0" fill="#58a848"/><circle cx="370.5" cy="86.3" r="5.0" fill="#2c3cb0"/><circle cx="374.7" cy="82.8" r="5.3" fill="#3848c8"/><circle cx="382.4" cy="82.0" r="5.2" fill="#3848c8"/><circle cx="380.8" cy="86.4" r="4.2" fill="#62b050"/><circle cx="374.8" cy="85.1" r="3.8" fill="#58a848"/><circle cx="372.6" cy="87.2" r="4.9" fill="#58a848"/><circle cx="375.0" cy="82.6" r="4.4" fill="#62b050"/><circle cx="380.8" cy="82.4" r="4.9" fill="#2c3cb0"/><circle cx="379.9" cy="90.0" r="4.6" fill="#62b050"/><circle cx="381.0" cy="89.3" r="3.8" fill="#58a848"/><circle cx="379.0" cy="89.6" r="5.1" fill="#58a848"/><circle cx="373.1" cy="81.8" r="4.9" fill="#3c8c34"/><circle cx="374.2" cy="83.4" r="4.0" fill="#3c8c34"/><circle cx="380.2" cy="92.4" r="5.5" fill="#58a848"/><circle cx="380.6" cy="90.9" r="4.1" fill="#3c8c34"/><circle cx="383.9" cy="85.3" r="4.0" fill="#58a848"/><circle cx="377.2" cy="88.2" r="3.9" fill="#4ca040"/><circle cx="381.2" cy="82.7" r="4.2" fill="#4ca040"/>
<circle cx="442.6" cy="124.7" r="3.0" fill="#f0a848"/><circle cx="443.5" cy="123.0" r="3.1" fill="#c87020"/><circle cx="444.2" cy="123.0" r="3.4" fill="#c87020"/><circle cx="448.2" cy="123.9" r="3.2" fill="#d87a20"/><circle cx="449.6" cy="123.6" r="3.0" fill="#f0a848"/><circle cx="450.3" cy="123.5" r="3.4" fill="#d87a20"/><circle cx="453.5" cy="123.3" r="3.2" fill="#f0a848"/><circle cx="455.5" cy="122.4" r="2.6" fill="#c87020"/><circle cx="456.5" cy="122.7" r="3.4" fill="#f0a848"/><circle cx="459.0" cy="121.7" r="3.0" fill="#e89030"/><circle cx="457.1" cy="122.1" r="2.0" fill="#d87a20"/><circle cx="459.7" cy="121.8" r="2.3" fill="#d87a20"/><circle cx="461.6" cy="123.7" r="2.4" fill="#f0a848"/><circle cx="462.5" cy="124.2" r="2.6" fill="#d87a20"/><circle cx="465.1" cy="124.4" r="2.3" fill="#e89030"/><circle cx="465.8" cy="126.4" r="2.4" fill="#f0a848"/><circle cx="466.0" cy="126.6" r="1.9" fill="#c87020"/><circle cx="469.0" cy="128.0" r="2.4" fill="#f0a848"/><circle cx="468.3" cy="128.0" r="2.2" fill="#d87a20"/><circle cx="472.0" cy="130.5" r="2.3" fill="#d87a20"/><circle cx="457.3" cy="122.7" r="2.5" fill="#d87a20"/><circle cx="459.0" cy="120.3" r="2.1" fill="#d87a20"/><circle cx="459.5" cy="118.7" r="2.5" fill="#c87020"/><circle cx="460.7" cy="116.0" r="2.3" fill="#d87a20"/><circle cx="462.3" cy="114.6" r="2.5" fill="#d87a20"/><circle cx="461.8" cy="112.5" r="2.1" fill="#c87020"/><circle cx="463.6" cy="111.0" r="2.5" fill="#f0a848"/><circle cx="463.6" cy="109.6" r="2.2" fill="#c87020"/><circle cx="464.6" cy="107.7" r="2.4" fill="#f0a848"/><circle cx="464.7" cy="105.0" r="2.2" fill="#e89030"/><circle cx="473.9" cy="123.3" r="4.5" fill="#e03a20"/><circle cx="467.6" cy="133.8" r="3.8" fill="#d42a20"/><circle cx="474.2" cy="131.0" r="3.5" fill="#d83020"/><circle cx="472.8" cy="132.0" r="4.1" fill="#c82418"/><circle cx="474.6" cy="134.8" r="3.7" fill="#d83020"/><circle cx="475.0" cy="125.8" r="4.8" fill="#d42a20"/><circle cx="475.7" cy="125.4" r="3.7" fill="#e88a30"/><circle cx="468.9" cy="124.4" r="4.8" fill="#c82418"/><circle cx="472.5" cy="130.9" r="3.8" fill="#c82418"/><circle cx="473.9" cy="133.1" r="4.4" fill="#d42a20"/><circle cx="475.6" cy="126.0" r="4.4" fill="#e03a20"/><circle cx="464.3" cy="127.7" r="3.7" fill="#d42a20"/><circle cx="468.1" cy="134.7" r="4.7" fill="#c82418"/><circle cx="473.1" cy="125.6" r="5.5" fill="#c82418"/><circle cx="469.3" cy="126.6" r="4.7" fill="#e88a30"/><circle cx="476.2" cy="130.3" r="5.1" fill="#e88a30"/><circle cx="474.8" cy="132.1" r="3.4" fill="#e03a20"/><circle cx="469.6" cy="123.8" r="3.5" fill="#e88a30"/><circle cx="468.4" cy="125.8" r="4.5" fill="#d83020"/><circle cx="473.9" cy="127.3" r="4.2" fill="#e88a30"/><circle cx="464.6" cy="127.1" r="4.1" fill="#e88a30"/><circle cx="466.6" cy="129.5" r="5.2" fill="#e88a30"/><circle cx="468.9" cy="132.0" r="5.0" fill="#c82418"/><circle cx="468.7" cy="132.8" r="3.6" fill="#e88a30"/><circle cx="472.8" cy="128.9" r="4.2" fill="#d42a20"/><circle cx="466.4" cy="127.8" r="3.4" fill="#d83020"/><circle cx="470.5" cy="129.8" r="5.1" fill="#e03a20"/><circle cx="464.5" cy="130.3" r="5.0" fill="#d42a20"/><circle cx="470.3" cy="102.5" r="3.6" fill="#2c3cb0"/><circle cx="462.9" cy="100.3" r="3.5" fill="#58a848"/><circle cx="471.1" cy="106.9" r="5.0" fill="#58a848"/><circle cx="468.0" cy="107.3" r="4.2" fill="#4ca040"/><circle cx="471.1" cy="109.6" r="4.1" fill="#4ca040"/><circle cx="468.4" cy="99.8" r="4.8" fill="#2c3cb0"/><circle cx="467.6" cy="103.2" r="4.0" fill="#4ca040"/><circle cx="460.4" cy="107.9" r="4.4" fill="#4ca040"/><circle cx="459.2" cy="104.6" r="4.6" fill="#3848c8"/><circle cx="469.8" cy="103.2" r="4.8" fill="#4ca040"/><circle cx="459.7" cy="101.6" r="5.4" fill="#58a848"/><circle cx="461.1" cy="106.2" r="3.5" fill="#4ca040"/><circle cx="459.0" cy="106.7" r="3.4" fill="#58a848"/><circle cx="471.5" cy="105.7" r="5.4" fill="#4ca040"/><circle cx="467.7" cy="102.9" r="3.6" fill="#4ca040"/><circle cx="471.6" cy="106.2" r="4.3" fill="#3c8c34"/><circle cx="465.3" cy="98.7" r="5.0" fill="#62b050"/><circle cx="464.1" cy="99.1" r="4.9" fill="#58a848"/><circle cx="464.2" cy="110.6" r="4.3" fill="#3848c8"/><circle cx="468.9" cy="104.0" r="4.9" fill="#4ca040"/><circle cx="466.5" cy="105.6" r="4.8" fill="#58a848"/><circle cx="462.3" cy="102.5" r="4.9" fill="#62b050"/><circle cx="468.9" cy="111.2" r="4.6" fill="#3848c8"/><circle cx="462.8" cy="111.8" r="4.3" fill="#58a848"/><circle cx="464.4" cy="103.1" r="4.1" fill="#4ca040"/><circle cx="462.1" cy="101.0" r="4.3" fill="#3848c8"/><circle cx="466.4" cy="100.8" r="5.0" fill="#62b050"/><circle cx="462.1" cy="103.9" r="4.7" fill="#4ca040"/>
<circle cx="402.9" cy="147.7" r="3.1" fill="#e89030"/><circle cx="402.7" cy="149.0" r="2.9" fill="#c87020"/><circle cx="402.3" cy="149.9" r="2.9" fill="#c87020"/><circle cx="400.7" cy="153.5" r="3.3" fill="#f0a848"/><circle cx="400.2" cy="153.8" r="2.8" fill="#d87a20"/><circle cx="399.2" cy="156.9" r="3.4" fill="#e89030"/><circle cx="397.8" cy="157.0" r="3.4" fill="#d87a20"/><circle cx="397.0" cy="160.7" r="3.3" fill="#c87020"/><circle cx="396.5" cy="160.6" r="3.1" fill="#c87020"/><circle cx="395.4" cy="164.2" r="3.5" fill="#d87a20"/><circle cx="395.7" cy="162.3" r="2.2" fill="#d87a20"/><circle cx="396.1" cy="164.6" r="1.9" fill="#c87020"/><circle cx="393.6" cy="164.3" r="2.5" fill="#e89030"/><circle cx="391.7" cy="166.5" r="2.6" fill="#f0a848"/><circle cx="391.1" cy="167.4" r="2.1" fill="#d87a20"/><circle cx="388.9" cy="168.9" r="2.1" fill="#f0a848"/><circle cx="388.4" cy="169.1" r="2.0" fill="#e89030"/><circle cx="388.5" cy="169.9" r="2.5" fill="#f0a848"/><circle cx="386.5" cy="171.6" r="2.0" fill="#e89030"/><circle cx="384.5" cy="171.9" r="1.9" fill="#e89030"/><circle cx="395.4" cy="164.5" r="2.3" fill="#d87a20"/><circle cx="397.0" cy="165.6" r="2.2" fill="#c87020"/><circle cx="399.7" cy="167.1" r="2.6" fill="#f0a848"/><circle cx="401.3" cy="167.2" r="2.6" fill="#c87020"/><circle cx="400.7" cy="167.8" r="2.3" fill="#c87020"/><circle cx="403.1" cy="171.3" r="2.6" fill="#c87020"/><circle cx="405.6" cy="172.3" r="2.0" fill="#f0a848"/><circle cx="406.1" cy="173.5" r="2.6" fill="#c87020"/><circle cx="406.5" cy="175.4" r="2.2" fill="#d87a20"/><circle cx="410.0" cy="175.2" r="1.9" fill="#f0a848"/><circle cx="386.5" cy="171.2" r="5.3" fill="#d83020"/><circle cx="385.7" cy="170.5" r="4.8" fill="#d83020"/><circle cx="380.6" cy="166.2" r="3.5" fill="#d42a20"/><circle cx="384.7" cy="172.3" r="4.8" fill="#e03a20"/><circle cx="383.2" cy="177.0" r="4.3" fill="#d42a20"/><circle cx="381.8" cy="175.0" r="4.4" fill="#e88a30"/><circle cx="386.6" cy="174.8" r="5.3" fill="#e03a20"/><circle cx="388.7" cy="168.7" r="5.0" fill="#e03a20"/><circle cx="388.5" cy="177.2" r="5.3" fill="#d42a20"/><circle cx="389.4" cy="166.8" r="5.0" fill="#e03a20"/><circle cx="391.5" cy="170.0" r="5.1" fill="#c82418"/><circle cx="381.6" cy="168.3" r="4.0" fill="#e88a30"/><circle cx="385.1" cy="174.2" r="3.6" fill="#e88a30"/><circle cx="385.2" cy="173.5" r="4.5" fill="#c82418"/><circle cx="389.0" cy="177.0" r="4.2" fill="#e88a30"/><circle cx="384.9" cy="172.9" r="5.1" fill="#d83020"/><circle cx="383.4" cy="174.3" r="3.6" fill="#c82418"/><circle cx="380.1" cy="173.1" r="5.4" fill="#e03a20"/><circle cx="391.2" cy="174.2" r="4.5" fill="#e03a20"/><circle cx="386.2" cy="169.7" r="5.4" fill="#e03a20"/><circle cx="381.6" cy="173.3" r="5.3" fill="#e03a20"/><circle cx="388.0" cy="174.0" r="3.4" fill="#e03a20"/><circle cx="384.3" cy="168.0" r="4.3" fill="#d42a20"/><circle cx="379.8" cy="171.6" r="3.3" fill="#c82418"/><circle cx="387.5" cy="167.3" r="4.1" fill="#e03a20"/><circle cx="389.3" cy="172.9" r="4.5" fill="#e88a30"/><circle cx="386.9" cy="174.1" r="4.8" fill="#e03a20"/><circle cx="385.6" cy="173.7" r="5.2" fill="#d42a20"/><circle cx="408.0" cy="169.7" r="3.8" fill="#3c8c34"/><circle cx="404.1" cy="172.0" r="4.6" fill="#3c8c34"/><circle cx="409.2" cy="177.6" r="4.4" fill="#58a848"/><circle cx="412.4" cy="170.2" r="5.1" fill="#2c3cb0"/><circle cx="405.4" cy="181.5" r="3.5" fill="#3848c8"/><circle cx="403.5" cy="179.3" r="5.2" fill="#3c8c34"/><circle cx="408.4" cy="179.0" r="3.4" fill="#62b050"/><circle cx="407.1" cy="170.7" r="4.1" fill="#4ca040"/><circle cx="415.1" cy="173.0" r="3.6" fill="#4ca040"/><circle cx="407.3" cy="169.6" r="5.0" fill="#62b050"/><circle cx="412.4" cy="171.9" r="3.9" fill="#4ca040"/><circle cx="413.4" cy="179.7" r="4.4" fill="#3848c8"/><circle cx="403.6" cy="174.9" r="3.8" fill="#4ca040"/><circle cx="413.5" cy="178.9" r="3.5" fill="#3c8c34"/><circle cx="408.7" cy="182.3" r="3.4" fill="#4ca040"/><circle cx="414.2" cy="173.2" r="3.4" fill="#62b050"/><circle cx="404.3" cy="172.7" r="3.8" fill="#2c3cb0"/><circle cx="404.7" cy="177.3" r="4.9" fill="#4ca040"/><circle cx="411.1" cy="176.6" r="4.6" fill="#3848c8"/><circle cx="408.9" cy="173.5" r="4.2" fill="#4ca040"/><circle cx="412.3" cy="180.1" r="3.6" fill="#3c8c34"/><circle cx="403.2" cy="173.2" r="5.4" fill="#3c8c34"/><circle cx="414.3" cy="176.6" r="4.2" fill="#58a848"/><circle cx="411.5" cy="171.5" r="5.4" fill="#3848c8"/><circle cx="412.8" cy="177.3" r="3.8" fill="#3848c8"/><circle cx="406.3" cy="179.9" r="5.0" fill="#2c3cb0"/><circle cx="414.2" cy="172.5" r="3.4" fill="#2c3cb0"/><circle cx="401.8" cy="175.1" r="3.9" fill="#62b050"/>
<path d="M312,262 L363.5,316 L414,262 Z" fill="url(#gCone2)"/>
<path d="M312,262 L363.5,316 L414,262" fill="none" stroke="#44dc7c" stroke-width="1.3" opacity="0.85"/>
<ellipse cx="363.6" cy="256.5" rx="58" ry="18" fill="#a8b4ac" opacity="0.45"/>
<ellipse cx="363.6" cy="254.5" rx="58" ry="17.2" fill="url(#gEll)"/>
<path d="M329.8,219.0L329.8,247.5" stroke="#1e8494" stroke-width="4.8" stroke-linecap="round"/>
<path d="M329.8,219.0L329.8,247.5" stroke="#3cb2c2" stroke-width="2.16" stroke-linecap="round"/>
<path d="M335.0,219.0L335.0,247.5" stroke="#1e8494" stroke-width="4.8" stroke-linecap="round"/>
<path d="M335.0,219.0L335.0,247.5" stroke="#3cb2c2" stroke-width="2.16" stroke-linecap="round"/>
<path d="M311.6,210.5L325.5,221.5" stroke="#1e8494" stroke-width="4.8" stroke-linecap="round"/>
<path d="M311.6,210.5L325.5,221.5" stroke="#3cb2c2" stroke-width="2.16" stroke-linecap="round"/>
<path d="M317.1,205.0L329.8,217.0" stroke="#1e8494" stroke-width="4.8" stroke-linecap="round"/>
<path d="M317.1,205.0L329.8,217.0" stroke="#3cb2c2" stroke-width="2.16" stroke-linecap="round"/>
<path d="M345.9,201.3L335.0,216.0" stroke="#1e8494" stroke-width="4.8" stroke-linecap="round"/>
<path d="M345.9,201.3L335.0,216.0" stroke="#3cb2c2" stroke-width="2.16" stroke-linecap="round"/>
<path d="M350.8,205.0L339.3,218.5" stroke="#1e8494" stroke-width="4.8" stroke-linecap="round"/>
<path d="M350.8,205.0L339.3,218.5" stroke="#3cb2c2" stroke-width="2.16" stroke-linecap="round"/>
<path d="M334.00,183.00 L320.80,197.60 L326.74,199.06 Z" fill="#f4f44c"/>
<path d="M334.00,183.00 L326.74,199.06 L347.20,197.60 Z" fill="#ecec30"/>
<path d="M320.80,197.60 L326.74,199.06 L334.40,210.45 Z" fill="#3a3a0a"/>
<path d="M326.74,199.06 L347.20,197.60 L334.40,210.45 Z" fill="#dcd420"/>
<path d="M393.4,226.5L393.4,257.8" stroke="#1e8494" stroke-width="4.8" stroke-linecap="round"/>
<path d="M393.4,226.5L393.4,257.8" stroke="#3cb2c2" stroke-width="2.16" stroke-linecap="round"/>
<path d="M398.6,226.5L398.6,257.8" stroke="#1e8494" stroke-width="4.8" stroke-linecap="round"/>
<path d="M398.6,226.5L398.6,257.8" stroke="#3cb2c2" stroke-width="2.16" stroke-linecap="round"/>
<path d="M372.8,216.0L388.8,228.0" stroke="#1e8494" stroke-width="4.8" stroke-linecap="round"/>
<path d="M372.8,216.0L388.8,228.0" stroke="#3cb2c2" stroke-width="2.16" stroke-linecap="round"/>
<path d="M378.9,210.5L393.0,224.0" stroke="#1e8494" stroke-width="4.8" stroke-linecap="round"/>
<path d="M378.9,210.5L393.0,224.0" stroke="#3cb2c2" stroke-width="2.16" stroke-linecap="round"/>
<path d="M410.7,205.6L398.0,223.0" stroke="#1e8494" stroke-width="4.8" stroke-linecap="round"/>
<path d="M410.7,205.6L398.0,223.0" stroke="#3cb2c2" stroke-width="2.16" stroke-linecap="round"/>
<path d="M416.2,210.5L401.8,226.5" stroke="#1e8494" stroke-width="4.8" stroke-linecap="round"/>
<path d="M416.2,210.5L401.8,226.5" stroke="#3cb2c2" stroke-width="2.16" stroke-linecap="round"/>
<path d="M397.00,182.70 L381.60,200.10 L388.53,201.84 Z" fill="#f4f44c"/>
<path d="M397.00,182.70 L388.53,201.84 L412.40,200.10 Z" fill="#ecec30"/>
<path d="M381.60,200.10 L388.53,201.84 L397.40,215.41 Z" fill="#3a3a0a"/>
<path d="M388.53,201.84 L412.40,200.10 L397.40,215.41 Z" fill="#dcd420"/>
<path d="M310.90,305.20 L365.50,293.60 L434.40,331.80 L361.00,364.60 Z" fill="#b4b8e0" stroke="#8088c0" stroke-width="1"/>
<path d="M317.85,307.16 L366.17,296.14 L422.57,328.73 L360.68,355.05 Z" fill="#7a80b8"/>
<path d="M357.49,360.44 L429.58,329.13 L434.40,331.80 L361.00,364.60 Z" fill="#9ca2d4" opacity="0.8"/>
<ellipse cx="323.3" cy="308.7" rx="2.3" ry="1.9" fill="#3a4080"/><circle cx="323.7" cy="309.2" r="0.7" fill="#e0e4ff"/><ellipse cx="326.9" cy="312.5" rx="2.3" ry="1.9" fill="#3a4080"/><circle cx="327.3" cy="313.0" r="0.7" fill="#e0e4ff"/><ellipse cx="330.5" cy="316.4" rx="2.3" ry="1.9" fill="#3a4080"/><circle cx="330.9" cy="316.9" r="0.7" fill="#e0e4ff"/><ellipse cx="334.1" cy="320.2" rx="2.3" ry="1.9" fill="#3a4080"/><circle cx="334.5" cy="320.7" r="0.7" fill="#e0e4ff"/><ellipse cx="337.7" cy="324.0" rx="2.3" ry="1.9" fill="#3a4080"/><circle cx="338.1" cy="324.5" r="0.7" fill="#e0e4ff"/><ellipse cx="341.3" cy="327.9" rx="2.3" ry="1.9" fill="#3a4080"/><circle cx="341.7" cy="328.4" r="0.7" fill="#e0e4ff"/><ellipse cx="344.9" cy="331.7" rx="2.3" ry="1.9" fill="#3a4080"/><circle cx="345.3" cy="332.2" r="0.7" fill="#e0e4ff"/><ellipse cx="348.5" cy="335.6" rx="2.3" ry="1.9" fill="#3a4080"/><circle cx="348.9" cy="336.1" r="0.7" fill="#e0e4ff"/><ellipse cx="352.1" cy="339.4" rx="2.3" ry="1.9" fill="#3a4080"/><circle cx="352.5" cy="339.9" r="0.7" fill="#e0e4ff"/><ellipse cx="355.6" cy="343.3" rx="2.3" ry="1.9" fill="#3a4080"/><circle cx="356.0" cy="343.8" r="0.7" fill="#e0e4ff"/><ellipse cx="359.2" cy="347.1" rx="2.3" ry="1.9" fill="#3a4080"/><circle cx="359.6" cy="347.6" r="0.7" fill="#e0e4ff"/><ellipse cx="362.8" cy="351.0" rx="2.3" ry="1.9" fill="#3a4080"/><circle cx="363.2" cy="351.5" r="0.7" fill="#e0e4ff"/><ellipse cx="329.5" cy="307.2" rx="2.3" ry="1.9" fill="#3a4080"/><circle cx="329.9" cy="307.7" r="0.7" fill="#e0e4ff"/><ellipse cx="333.2" cy="310.9" rx="2.3" ry="1.9" fill="#3a4080"/><circle cx="333.6" cy="311.4" r="0.7" fill="#e0e4ff"/><ellipse cx="337.0" cy="314.5" rx="2.3" ry="1.9" fill="#3a4080"/><circle cx="337.4" cy="315.0" r="0.7" fill="#e0e4ff"/><ellipse cx="340.7" cy="318.2" rx="2.3" ry="1.9" fill="#3a4080"/><circle cx="341.1" cy="318.7" r="0.7" fill="#e0e4ff"/><ellipse cx="344.4" cy="321.9" rx="2.3" ry="1.9" fill="#3a4080"/><circle cx="344.8" cy="322.4" r="0.7" fill="#e0e4ff"/><ellipse cx="348.2" cy="325.6" rx="2.3" ry="1.9" fill="#3a4080"/><circle cx="348.6" cy="326.1" r="0.7" fill="#e0e4ff"/><ellipse cx="351.9" cy="329.3" rx="2.3" ry="1.9" fill="#3a4080"/><circle cx="352.3" cy="329.8" r="0.7" fill="#e0e4ff"/><ellipse cx="355.6" cy="333.0" rx="2.3" ry="1.9" fill="#3a4080"/><circle cx="356.0" cy="333.5" r="0.7" fill="#e0e4ff"/><ellipse cx="359.4" cy="336.7" rx="2.3" ry="1.9" fill="#3a4080"/><circle cx="359.8" cy="337.2" r="0.7" fill="#e0e4ff"/><ellipse cx="363.1" cy="340.4" rx="2.3" ry="1.9" fill="#3a4080"/><circle cx="363.5" cy="340.9" r="0.7" fill="#e0e4ff"/><ellipse cx="366.8" cy="344.1" rx="2.3" ry="1.9" fill="#3a4080"/><circle cx="367.2" cy="344.6" r="0.7" fill="#e0e4ff"/><ellipse cx="370.6" cy="347.7" rx="2.3" ry="1.9" fill="#3a4080"/><circle cx="371.0" cy="348.2" r="0.7" fill="#e0e4ff"/><ellipse cx="335.7" cy="305.7" rx="2.3" ry="1.9" fill="#3a4080"/><circle cx="336.1" cy="306.2" r="0.7" fill="#e0e4ff"/><ellipse cx="339.6" cy="309.2" rx="2.3" ry="1.9" fill="#3a4080"/><circle cx="340.0" cy="309.7" r="0.7" fill="#e0e4ff"/><ellipse cx="343.4" cy="312.7" rx="2.3" ry="1.9" fill="#3a4080"/><circle cx="343.8" cy="313.2" r="0.7" fill="#e0e4ff"/><ellipse cx="347.3" cy="316.3" rx="2.3" ry="1.9" fill="#3a4080"/><circle cx="347.7" cy="316.8" r="0.7" fill="#e0e4ff"/><ellipse cx="351.2" cy="319.8" rx="2.3" ry="1.9" fill="#3a4080"/><circle cx="351.6" cy="320.3" r="0.7" fill="#e0e4ff"/><ellipse cx="355.1" cy="323.3" rx="2.3" ry="1.9" fill="#3a4080"/><circle cx="355.5" cy="323.8" r="0.7" fill="#e0e4ff"/><ellipse cx="358.9" cy="326.9" rx="2.3" ry="1.9" fill="#3a4080"/><circle cx="359.3" cy="327.4" r="0.7" fill="#e0e4ff"/><ellipse cx="362.8" cy="330.4" rx="2.3" ry="1.9" fill="#3a4080"/><circle cx="363.2" cy="330.9" r="0.7" fill="#e0e4ff"/><ellipse cx="366.7" cy="333.9" rx="2.3" ry="1.9" fill="#3a4080"/><circle cx="367.1" cy="334.4" r="0.7" fill="#e0e4ff"/><ellipse cx="370.6" cy="337.4" rx="2.3" ry="1.9" fill="#3a4080"/><circle cx="371.0" cy="337.9" r="0.7" fill="#e0e4ff"/><ellipse cx="374.4" cy="341.0" rx="2.3" ry="1.9" fill="#3a4080"/><circle cx="374.8" cy="341.5" r="0.7" fill="#e0e4ff"/><ellipse cx="378.3" cy="344.5" rx="2.3" ry="1.9" fill="#3a4080"/><circle cx="378.7" cy="345.0" r="0.7" fill="#e0e4ff"/><ellipse cx="341.9" cy="304.2" rx="2.3" ry="1.9" fill="#3a4080"/><circle cx="342.3" cy="304.7" r="0.7" fill="#e0e4ff"/><ellipse cx="345.9" cy="307.6" rx="2.3" ry="1.9" fill="#3a4080"/><circle cx="346.3" cy="308.1" r="0.7" fill="#e0e4ff"/><ellipse cx="349.9" cy="310.9" rx="2.3" ry="1.9" fill="#3a4080"/><circle cx="350.3" cy="311.4" r="0.7" fill="#e0e4ff"/><ellipse cx="353.9" cy="314.3" rx="2.3" ry="1.9" fill="#3a4080"/><circle cx="354.3" cy="314.8" r="0.7" fill="#e0e4ff"/><ellipse cx="357.9" cy="317.7" rx="2.3" ry="1.9" fill="#3a4080"/><circle cx="358.3" cy="318.2" r="0.7" fill="#e0e4ff"/><ellipse cx="362.0" cy="321.1" rx="2.3" ry="1.9" fill="#3a4080"/><circle cx="362.4" cy="321.6" r="0.7" fill="#e0e4ff"/><ellipse cx="366.0" cy="324.4" rx="2.3" ry="1.9" fill="#3a4080"/><circle cx="366.4" cy="324.9" r="0.7" fill="#e0e4ff"/><ellipse cx="370.0" cy="327.8" rx="2.3" ry="1.9" fill="#3a4080"/><circle cx="370.4" cy="328.3" r="0.7" fill="#e0e4ff"/><ellipse cx="374.0" cy="331.2" rx="2.3" ry="1.9" fill="#3a4080"/><circle cx="374.4" cy="331.7" r="0.7" fill="#e0e4ff"/><ellipse cx="378.0" cy="334.5" rx="2.3" ry="1.9" fill="#3a4080"/><circle cx="378.4" cy="335.0" r="0.7" fill="#e0e4ff"/><ellipse cx="382.0" cy="337.9" rx="2.3" ry="1.9" fill="#3a4080"/><circle cx="382.4" cy="338.4" r="0.7" fill="#e0e4ff"/><ellipse cx="386.1" cy="341.3" rx="2.3" ry="1.9" fill="#3a4080"/><circle cx="386.5" cy="341.8" r="0.7" fill="#e0e4ff"/><ellipse cx="348.1" cy="302.7" rx="2.3" ry="1.9" fill="#3a4080"/><circle cx="348.5" cy="303.2" r="0.7" fill="#e0e4ff"/><ellipse cx="352.2" cy="305.9" rx="2.3" ry="1.9" fill="#3a4080"/><circle cx="352.6" cy="306.4" r="0.7" fill="#e0e4ff"/><ellipse cx="356.4" cy="309.1" rx="2.3" ry="1.9" fill="#3a4080"/><circle cx="356.8" cy="309.6" r="0.7" fill="#e0e4ff"/><ellipse cx="360.5" cy="312.3" rx="2.3" ry="1.9" fill="#3a4080"/><circle cx="360.9" cy="312.8" r="0.7" fill="#e0e4ff"/><ellipse cx="364.7" cy="315.6" rx="2.3" ry="1.9" fill="#3a4080"/><circle cx="365.1" cy="316.1" r="0.7" fill="#e0e4ff"/><ellipse cx="368.9" cy="318.8" rx="2.3" ry="1.9" fill="#3a4080"/><circle cx="369.3" cy="319.3" r="0.7" fill="#e0e4ff"/><ellipse cx="373.0" cy="322.0" rx="2.3" ry="1.9" fill="#3a4080"/><circle cx="373.4" cy="322.5" r="0.7" fill="#e0e4ff"/><ellipse cx="377.2" cy="325.2" rx="2.3" ry="1.9" fill="#3a4080"/><circle cx="377.6" cy="325.7" r="0.7" fill="#e0e4ff"/><ellipse cx="381.3" cy="328.4" rx="2.3" ry="1.9" fill="#3a4080"/><circle cx="381.7" cy="328.9" r="0.7" fill="#e0e4ff"/><ellipse cx="385.5" cy="331.6" rx="2.3" ry="1.9" fill="#3a4080"/><circle cx="385.9" cy="332.1" r="0.7" fill="#e0e4ff"/><ellipse cx="389.7" cy="334.8" rx="2.3" ry="1.9" fill="#3a4080"/><circle cx="390.1" cy="335.3" r="0.7" fill="#e0e4ff"/><ellipse cx="393.8" cy="338.0" rx="2.3" ry="1.9" fill="#3a4080"/><circle cx="394.2" cy="338.5" r="0.7" fill="#e0e4ff"/><ellipse cx="354.3" cy="301.2" rx="2.3" ry="1.9" fill="#3a4080"/><circle cx="354.7" cy="301.7" r="0.7" fill="#e0e4ff"/><ellipse cx="358.6" cy="304.3" rx="2.3" ry="1.9" fill="#3a4080"/><circle cx="359.0" cy="304.8" r="0.7" fill="#e0e4ff"/><ellipse cx="362.9" cy="307.3" rx="2.3" ry="1.9" fill="#3a4080"/><circle cx="363.3" cy="307.8" r="0.7" fill="#e0e4ff"/><ellipse cx="367.2" cy="310.4" rx="2.3" ry="1.9" fill="#3a4080"/><circle cx="367.6" cy="310.9" r="0.7" fill="#e0e4ff"/><ellipse cx="371.5" cy="313.4" rx="2.3" ry="1.9" fill="#3a4080"/><circle cx="371.9" cy="313.9" r="0.7" fill="#e0e4ff"/><ellipse cx="375.8" cy="316.5" rx="2.3" ry="1.9" fill="#3a4080"/><circle cx="376.2" cy="317.0" r="0.7" fill="#e0e4ff"/><ellipse cx="380.1" cy="319.5" rx="2.3" ry="1.9" fill="#3a4080"/><circle cx="380.5" cy="320.0" r="0.7" fill="#e0e4ff"/><ellipse cx="384.4" cy="322.6" rx="2.3" ry="1.9" fill="#3a4080"/><circle cx="384.8" cy="323.1" r="0.7" fill="#e0e4ff"/><ellipse cx="388.7" cy="325.6" rx="2.3" ry="1.9" fill="#3a4080"/><circle cx="389.1" cy="326.1" r="0.7" fill="#e0e4ff"/><ellipse cx="393.0" cy="328.7" rx="2.3" ry="1.9" fill="#3a4080"/><circle cx="393.4" cy="329.2" r="0.7" fill="#e0e4ff"/><ellipse cx="397.3" cy="331.8" rx="2.3" ry="1.9" fill="#3a4080"/><circle cx="397.7" cy="332.3" r="0.7" fill="#e0e4ff"/><ellipse cx="401.6" cy="334.8" rx="2.3" ry="1.9" fill="#3a4080"/><circle cx="402.0" cy="335.3" r="0.7" fill="#e0e4ff"/><ellipse cx="360.4" cy="299.7" rx="2.3" ry="1.9" fill="#3a4080"/><circle cx="360.8" cy="300.2" r="0.7" fill="#e0e4ff"/><ellipse cx="364.9" cy="302.6" rx="2.3" ry="1.9" fill="#3a4080"/><circle cx="365.3" cy="303.1" r="0.7" fill="#e0e4ff"/><ellipse cx="369.3" cy="305.5" rx="2.3" ry="1.9" fill="#3a4080"/><circle cx="369.7" cy="306.0" r="0.7" fill="#e0e4ff"/><ellipse cx="373.8" cy="308.4" rx="2.3" ry="1.9" fill="#3a4080"/><circle cx="374.2" cy="308.9" r="0.7" fill="#e0e4ff"/><ellipse cx="378.2" cy="311.3" rx="2.3" ry="1.9" fill="#3a4080"/><circle cx="378.6" cy="311.8" r="0.7" fill="#e0e4ff"/><ellipse cx="382.6" cy="314.2" rx="2.3" ry="1.9" fill="#3a4080"/><circle cx="383.0" cy="314.7" r="0.7" fill="#e0e4ff"/><ellipse cx="387.1" cy="317.1" rx="2.3" ry="1.9" fill="#3a4080"/><circle cx="387.5" cy="317.6" r="0.7" fill="#e0e4ff"/><ellipse cx="391.5" cy="320.0" rx="2.3" ry="1.9" fill="#3a4080"/><circle cx="391.9" cy="320.5" r="0.7" fill="#e0e4ff"/><ellipse cx="396.0" cy="322.9" rx="2.3" ry="1.9" fill="#3a4080"/><circle cx="396.4" cy="323.4" r="0.7" fill="#e0e4ff"/><ellipse cx="400.4" cy="325.8" rx="2.3" ry="1.9" fill="#3a4080"/><circle cx="400.8" cy="326.3" r="0.7" fill="#e0e4ff"/><ellipse cx="404.9" cy="328.7" rx="2.3" ry="1.9" fill="#3a4080"/><circle cx="405.3" cy="329.2" r="0.7" fill="#e0e4ff"/><ellipse cx="409.3" cy="331.6" rx="2.3" ry="1.9" fill="#3a4080"/><circle cx="409.7" cy="332.1" r="0.7" fill="#e0e4ff"/><ellipse cx="366.6" cy="298.3" rx="2.3" ry="1.9" fill="#3a4080"/><circle cx="367.0" cy="298.8" r="0.7" fill="#e0e4ff"/><ellipse cx="371.2" cy="301.0" rx="2.3" ry="1.9" fill="#3a4080"/><circle cx="371.6" cy="301.5" r="0.7" fill="#e0e4ff"/><ellipse cx="375.8" cy="303.7" rx="2.3" ry="1.9" fill="#3a4080"/><circle cx="376.2" cy="304.2" r="0.7" fill="#e0e4ff"/><ellipse cx="380.4" cy="306.5" rx="2.3" ry="1.9" fill="#3a4080"/><circle cx="380.8" cy="307.0" r="0.7" fill="#e0e4ff"/><ellipse cx="385.0" cy="309.2" rx="2.3" ry="1.9" fill="#3a4080"/><circle cx="385.4" cy="309.7" r="0.7" fill="#e0e4ff"/><ellipse cx="389.5" cy="311.9" rx="2.3" ry="1.9" fill="#3a4080"/><circle cx="389.9" cy="312.4" r="0.7" fill="#e0e4ff"/><ellipse cx="394.1" cy="314.7" rx="2.3" ry="1.9" fill="#3a4080"/><circle cx="394.5" cy="315.2" r="0.7" fill="#e0e4ff"/><ellipse cx="398.7" cy="317.4" rx="2.3" ry="1.9" fill="#3a4080"/><circle cx="399.1" cy="317.9" r="0.7" fill="#e0e4ff"/><ellipse cx="403.3" cy="320.1" rx="2.3" ry="1.9" fill="#3a4080"/><circle cx="403.7" cy="320.6" r="0.7" fill="#e0e4ff"/><ellipse cx="407.9" cy="322.9" rx="2.3" ry="1.9" fill="#3a4080"/><circle cx="408.3" cy="323.4" r="0.7" fill="#e0e4ff"/><ellipse cx="412.5" cy="325.6" rx="2.3" ry="1.9" fill="#3a4080"/><circle cx="412.9" cy="326.1" r="0.7" fill="#e0e4ff"/><ellipse cx="417.0" cy="328.3" rx="2.3" ry="1.9" fill="#3a4080"/><circle cx="417.4" cy="328.8" r="0.7" fill="#e0e4ff"/>
<path d="M340.5,292 L363.5,316 L386.5,292 Z" fill="#40d874" opacity="0.45"/>
<path d="M340.5,292 L363.5,316 L386.5,292" fill="none" stroke="#3cdc74" stroke-width="1.3"/>
<text x="129.86" y="264.80" font-family="Liberation Serif" font-size="24.01" font-weight="bold" font-style="italic" fill="#000" >Colorimetric</text>
<g mask="url(#mRef)"><g transform="translate(0 531.0) scale(1 -1)"><text x="129.86" y="264.8" font-family="Liberation Serif" font-size="24.01" font-weight="bold" font-style="italic" fill="#000">Colorimetric</text></g></g>
<path d="M113.4,276 V414.8 H286" fill="none" stroke="#222" stroke-width="1.4"/>
<path d="M113.4,285.5h-3M113.4,304.0h-3M113.4,322.5h-3M113.4,341.0h-3M113.4,359.5h-3M113.4,378.0h-3M113.4,396.5h-3M113.4,415.0h-3M131.0,414.8v3M148.3,414.8v2M165.6,414.8v3M182.9,414.8v2M200.2,414.8v3M217.5,414.8v2M234.8,414.8v3M252.1,414.8v2M269.4,414.8v3" stroke="#222" stroke-width="1.2"/>
<text transform="translate(121.29 429.37) scale(1.0 1)" font-family="Liberation Serif" font-size="13.48" font-weight="bold" fill="#000">350</text>
<text transform="translate(156.06 429.37) scale(1.0 1)" font-family="Liberation Serif" font-size="13.48" font-weight="bold" fill="#000">400</text>
<text transform="translate(190.66 429.37) scale(1.0 1)" font-family="Liberation Serif" font-size="13.48" font-weight="bold" fill="#000">450</text>
<text transform="translate(225.07 429.37) scale(1.0 1)" font-family="Liberation Serif" font-size="13.48" font-weight="bold" fill="#000">500</text>
<text transform="translate(259.67 429.37) scale(1.0 1)" font-family="Liberation Serif" font-size="13.48" font-weight="bold" fill="#000">550</text>
<text x="105.00" y="406.02" transform="rotate(-90 105.00 406.02)" font-family="Liberation Serif" font-size="21.58" font-weight="bold" fill="#000" >Absorbance</text>
<path d="M131.00,339.80 C132.58,339.70 137.60,337.97 140.50,339.20 C143.40,340.43 145.77,347.02 148.40,347.20 C151.03,347.38 152.73,346.72 156.30,340.30 C159.87,333.88 166.02,316.17 169.80,308.70 C173.58,301.23 175.98,298.52 179.00,295.50 C182.02,292.48 185.23,291.10 187.90,290.60 C190.57,290.10 192.75,291.37 195.00,292.50 C197.25,293.63 198.07,292.45 201.40,297.40 C204.73,302.35 210.48,313.55 215.00,322.20 C219.52,330.85 224.00,342.15 228.50,349.30 C233.00,356.45 237.48,361.15 242.00,365.10 C246.52,369.05 251.08,370.67 255.60,373.00 C260.12,375.33 266.85,378.08 269.10,379.10" fill="none" stroke="#000" stroke-width="2.2"/>
<path d="M131,406.2 C170,406.6 220,405.6 269.1,406.4" stroke="#e82020" stroke-width="2.2" fill="none"/>
<rect x="153.5" y="343.9" width="24.5" height="56.7" fill="#d6d6d6"/>
<rect x="155.5" y="349.4" width="20.5" height="48.7" rx="2" fill="#e2e2e0"/>
<rect x="155.5" y="349.4" width="20.5" height="12.5" rx="2" fill="#f6f6f4"/>
<rect x="203.0" y="343.9" width="24.1" height="56.7" fill="#d6d6d6"/>
<rect x="205.0" y="349.4" width="20.1" height="48.7" rx="2" fill="#e2e2e0"/>
<rect x="205.0" y="349.4" width="20.1" height="12.5" rx="2" fill="#f6f6f4"/>
<rect x="205.5" y="374.8" width="19.1" height="23.0" rx="1.5" fill="#dc9c12"/>
<path d="M181.4,373.1 H194" stroke="#000" stroke-width="2.8"/><path d="M201.7,373.1 L193.3,368.9 L193.3,377.3 Z" fill="#000"/>
<path d="M497.3,282.4 V412.4 H658.7" fill="none" stroke="#222" stroke-width="1.4"/>
<path d="M497.3,292.0h-3M497.3,312.0h-3M497.3,332.0h-3M497.3,352.0h-3M497.3,372.0h-3M497.3,392.0h-3M497.3,412.0h-3M519.6,412.4v3M541.1,412.4v2M562.5,412.4v3M584.0,412.4v2M605.4,412.4v3M626.9,412.4v2M648.3,412.4v3" stroke="#222" stroke-width="1.2"/>
<text transform="translate(509.77 426.37) scale(1.0 1)" font-family="Liberation Serif" font-size="13.33" font-weight="bold" fill="#000">400</text>
<text transform="translate(552.48 426.37) scale(1.0 1)" font-family="Liberation Serif" font-size="13.33" font-weight="bold" fill="#000">500</text>
<text transform="translate(595.42 426.37) scale(1.0 1)" font-family="Liberation Serif" font-size="13.33" font-weight="bold" fill="#000">600</text>
<text transform="translate(638.17 426.37) scale(1.0 1)" font-family="Liberation Serif" font-size="13.33" font-weight="bold" fill="#000">700</text>
<text x="487.89" y="400.75" transform="rotate(-90 487.89 400.75)" font-family="Liberation Serif" font-size="19.83" font-weight="bold" fill="#000" >FL intensity</text>
<path d="M516.30,331.00 C516.75,328.33 518.05,320.17 519.00,315.00 C519.95,309.83 521.07,303.02 522.00,300.00 C522.93,296.98 523.60,297.07 524.60,296.90 C525.60,296.73 526.52,297.32 528.00,299.00 C529.48,300.68 531.83,303.83 533.50,307.00 C535.17,310.17 536.45,313.33 538.00,318.00 C539.55,322.67 541.13,329.33 542.80,335.00 C544.47,340.67 546.30,347.17 548.00,352.00 C549.70,356.83 551.12,360.17 553.00,364.00 C554.88,367.83 556.97,371.50 559.30,375.00 C561.63,378.50 564.23,382.17 567.00,385.00 C569.77,387.83 572.73,390.08 575.90,392.00 C579.07,393.92 582.55,395.28 586.00,396.50 C589.45,397.72 590.93,398.58 596.60,399.30 C602.27,400.02 611.38,400.45 620.00,400.80 C628.62,401.15 643.58,401.30 648.30,401.40" fill="none" stroke="#e82020" stroke-width="2"/>
<path d="M516.30,383.80 C516.92,383.42 518.87,382.02 520.00,381.50 C521.13,380.98 521.93,380.62 523.10,380.70 C524.27,380.78 525.52,381.20 527.00,382.00 C528.48,382.80 530.07,384.25 532.00,385.50 C533.93,386.75 535.93,388.38 538.60,389.50 C541.27,390.62 544.55,391.60 548.00,392.20 C551.45,392.80 556.30,393.22 559.30,393.10 C562.30,392.98 563.92,392.43 566.00,391.50 C568.08,390.57 569.47,389.25 571.80,387.50 C574.13,385.75 577.30,382.67 580.00,381.00 C582.70,379.33 585.40,378.17 588.00,377.50 C590.60,376.83 593.10,376.83 595.60,377.00 C598.10,377.17 600.27,377.42 603.00,378.50 C605.73,379.58 608.93,381.67 612.00,383.50 C615.07,385.33 617.90,387.67 621.40,389.50 C624.90,391.33 628.52,393.03 633.00,394.50 C637.48,395.97 645.75,397.67 648.30,398.30" fill="none" stroke="#111" stroke-width="2"/>
<path d="M528.3,328 V366" stroke="#8a1010" stroke-width="2.6"/><path d="M528.3,375.5 L523.8,364.5 L532.8,364.5 Z" fill="#300808"/>
<path d="M596.6,405.6 V392" stroke="#d01818" stroke-width="2.6"/><path d="M596.6,382.8 L592,393.5 L601.2,393.5 Z" fill="#500808"/>
<rect x="561.4" y="293.0" width="24.5" height="59.3" fill="#3e4c7a"/>
<rect x="563.6" y="312.3" width="20.1" height="37.5" rx="3" fill="#a8b2c8"/>
<rect x="563.6" y="335.8" width="20.1" height="13.5" rx="3" fill="#d4d4f0"/>
<rect x="563.6" y="297.7" width="20.1" height="18.6" rx="3" fill="#fafafa"/>
<rect x="564" y="325" width="19" height="2.2" fill="#e8ecf4" opacity="0.8"/>
<rect x="615.1" y="293.0" width="24.2" height="59.3" fill="#3e4c7a"/>
<rect x="617.3" y="309.8" width="19.8" height="40.0" rx="3" fill="#a8b2c8"/>
<rect x="617.3" y="324.0" width="19.8" height="25.3" rx="3" fill="#dea640"/>
<rect x="617.3" y="297.7" width="19.8" height="16.1" rx="3" fill="#fafafa"/>
<path d="M591.4,324.4 H604" stroke="#000" stroke-width="2.8"/><path d="M611.7,324.4 L603.3,320.2 L603.3,328.6 Z" fill="#000"/>
<path d="M770.6,112.9 C725,114 678,150 670,200 C664,245 705,285 760,293.5" fill="none" stroke="#000" stroke-width="3"/>
<path d="M769,295.3 L757.5,287.5 L756.5,299.5 Z" fill="#000"/>
<text x="597.78" y="199.80" font-family="Liberation Serif" font-size="24.33" font-weight="bold" font-style="italic" fill="#ee0a14" >Hydrogen bonding</text>
<text x="608.50" y="226.80" font-family="Liberation Serif" font-size="24.05" font-weight="bold" font-style="italic" fill="#ee0a14" >and π-π stacking</text>
<path d="M779.25,47.29 L789.75,41.71 L798.53,52.52 L795.75,53.76 L804.72,63.02 L801.94,64.26 L813.30,79.50 L794.43,70.04 L797.21,68.60 L788.54,60.98 L791.22,59.43 Z" fill="url(#gb1)"/>
<path d="M761.80,253.70 L772.00,248.30 L780.50,258.80 L777.80,260.00 L786.50,269.00 L783.80,270.20 L794.80,285.00 L776.50,275.80 L779.20,274.40 L770.80,267.00 L773.40,265.50 Z" fill="url(#gb2)"/>
<path d="M833.51,175.01 L843.49,169.99 L851.50,180.34 L848.86,181.44 L857.10,190.34 L854.46,191.44 L864.80,206.00 L847.28,196.71 L849.92,195.41 L841.94,188.07 L844.49,186.67 Z" fill="url(#gb3)"/>
<path d="M826.08,395.35 L835.92,390.65 L843.53,400.90 L840.94,401.93 L848.79,410.77 L846.20,411.79 L856.00,426.20 L839.09,416.79 L841.69,415.58 L834.05,408.26 L836.56,406.95 Z" fill="url(#gb4)"/>
<path d="M897.09,278.81 L910.91,280.19 L914.64,266.49 L911.10,266.35 L915.83,254.06 L912.29,253.93 L916.50,235.00 L901.51,251.22 L905.15,251.56 L899.92,262.15 L903.50,262.62 Z" fill="url(#gb5)"/>
<text x="815.07" y="54.50" font-family="Liberation Sans" font-size="18.84" font-weight="bold" font-style="italic" fill="#111" >Ex 355 nm</text>
<text x="866.87" y="191.40" font-family="Liberation Sans" font-size="18.99" font-weight="bold" font-style="italic" fill="#111" >Em 434 nm</text>
<text x="791.47" y="272.00" font-family="Liberation Sans" font-size="18.66" font-weight="bold" font-style="italic" fill="#111" >Ex 355 nm</text>
<text x="919.67" y="274.00" font-family="Liberation Sans" font-size="18.96" font-weight="bold" font-style="italic" fill="#111" >Em 556 nm</text>
<text x="855.67" y="416.50" font-family="Liberation Sans" font-size="18.96" font-weight="bold" font-style="italic" fill="#111" >Em 434 nm</text>
<path d="M964,395 V420" stroke="#3c8ad0" stroke-width="1.6"/><path d="M964,426.5 L960.5,418 L967.5,418 Z" fill="#3c8ad0"/>
<text x="654.06" y="366.00" font-family="Liberation Serif" font-size="24.27" font-weight="bold" font-style="italic" fill="#000" >Ratiometric FL</text>
<path d="M788,381.5 H670" stroke="#000" stroke-width="3"/><path d="M661.7,381.5 L673,376.2 L673,386.8 Z" fill="#000"/>
<path d="M900.2,133.0L892.2,128.8M892.2,128.8L893.9,123.0M893.9,123.0L903.5,121.5M903.5,121.5L911.6,125.7M911.6,125.7L909.9,131.5M909.9,131.5L900.2,133.0M882.5,130.3L874.5,126.1M874.5,126.1L876.2,120.3M876.2,120.3L885.8,118.8M885.8,118.8L893.9,123.0M892.2,128.8L882.5,130.3M885.8,118.8L887.5,113.0M887.5,113.0L897.2,111.5M897.2,111.5L905.2,115.7M905.2,115.7L903.5,121.5M953.3,141.0L945.3,136.8M945.3,136.8L947.0,131.0M947.0,131.0L956.7,129.5M956.7,129.5L964.7,133.7M964.7,133.7L963.0,139.5M963.0,139.5L953.3,141.0M935.6,138.3L927.6,134.1M927.6,134.1L929.3,128.4M929.3,128.4L939.0,126.8M939.0,126.8L947.0,131.0M945.3,136.8L935.6,138.3M939.0,126.8L940.6,121.1M940.6,121.1L950.3,119.5M950.3,119.5L958.3,123.7M958.3,123.7L956.7,129.5M866.1,154.9L858.1,150.7M858.1,150.7L859.8,144.9M859.8,144.9L869.5,143.4M869.5,143.4L877.5,147.6M877.5,147.6L875.8,153.4M875.8,153.4L866.1,154.9M848.4,152.2L840.4,148.0M840.4,148.0L842.1,142.3M842.1,142.3L851.8,140.7M851.8,140.7L859.8,144.9M858.1,150.7L848.4,152.2M851.8,140.7L853.4,135.0M853.4,135.0L863.1,133.4M863.1,133.4L871.1,137.6M871.1,137.6L869.5,143.4M919.2,162.9L911.2,158.7M911.2,158.7L912.9,153.0M912.9,153.0L922.6,151.4M922.6,151.4L930.6,155.6M930.6,155.6L928.9,161.4M928.9,161.4L919.2,162.9M901.5,160.3L893.5,156.0M893.5,156.0L895.2,150.3M895.2,150.3L904.9,148.7M904.9,148.7L912.9,153.0M911.2,158.7L901.5,160.3M904.9,148.7L906.5,143.0M906.5,143.0L916.2,141.4M916.2,141.4L924.3,145.7M924.3,145.7L922.6,151.4M934.3,111.1L926.3,106.9M926.3,106.9L927.9,101.1M927.9,101.1L937.6,99.6M937.6,99.6L945.6,103.8M945.6,103.8L944.0,109.5M944.0,109.5L934.3,111.1M916.6,108.4L908.6,104.2M908.6,104.2L910.2,98.4M910.2,98.4L919.9,96.9M919.9,96.9L927.9,101.1M926.3,106.9L916.6,108.4M919.9,96.9L921.6,91.1M921.6,91.1L931.3,89.6M931.3,89.6L939.3,93.8M939.3,93.8L937.6,99.6M847.1,125.0L839.1,120.8M839.1,120.8L840.7,115.0M840.7,115.0L850.4,113.5M850.4,113.5L858.4,117.7M858.4,117.7L856.8,123.4M856.8,123.4L847.1,125.0M829.4,122.3L821.4,118.1M821.4,118.1L823.0,112.3M823.0,112.3L832.7,110.8M832.7,110.8L840.7,115.0M839.1,120.8L829.4,122.3M832.7,110.8L834.4,105.0M834.4,105.0L844.1,103.5M844.1,103.5L852.1,107.7M852.1,107.7L850.4,113.5M881.2,103.1L873.1,98.8M873.1,98.8L874.8,93.1M874.8,93.1L884.5,91.5M884.5,91.5L892.5,95.8M892.5,95.8L890.9,101.5M890.9,101.5L881.2,103.1M863.5,100.4L855.4,96.2M855.4,96.2L857.1,90.4M857.1,90.4L866.8,88.9M866.8,88.9L874.8,93.1M873.1,98.8L863.5,100.4M866.8,88.9L868.5,83.1M868.5,83.1L878.2,81.6M878.2,81.6L886.2,85.8M886.2,85.8L884.5,91.5M909.9,131.5L917.9,135.7M927.6,134.1L917.9,135.7M916.2,141.4L917.9,135.7M874.5,126.1L864.8,127.6M863.1,133.4L864.8,127.6M856.8,123.4L864.8,127.6M897.2,111.5L898.9,105.7M908.6,104.2L898.9,105.7M890.9,101.5L898.9,105.7M963.0,139.5L971.0,143.7M971.0,143.7L969.5,148.9M971.0,143.7L979.7,142.3M950.3,119.5L952.0,113.8M944.0,109.5L952.0,113.8M875.8,153.4L883.8,157.6M893.5,156.0L883.8,157.6M840.4,148.0L830.7,149.6M830.7,149.6L823.5,145.8M830.7,149.6L829.2,154.7M928.9,161.4L937.0,165.6M937.0,165.6L935.5,170.8M937.0,165.6L945.7,164.2M931.3,89.6L933.0,83.8M933.0,83.8L941.7,82.4M933.0,83.8L925.8,80.0M821.4,118.1L811.7,119.6M811.7,119.6L804.5,115.8M811.7,119.6L810.2,124.8M844.1,103.5L845.7,97.7M855.4,96.2L845.7,97.7M878.2,81.6L879.8,75.8M879.8,75.8L888.5,74.4M879.8,75.8L872.6,72.0" stroke="#9a9aa8" stroke-width="0.9" fill="none"/><circle cx="872.6" cy="72.0" r="2.8350000000000004" fill="url(#gC)"/><circle cx="888.5" cy="74.4" r="2.8350000000000004" fill="url(#gC)"/><circle cx="879.8" cy="75.8" r="2.7" fill="url(#gN)"/><circle cx="925.8" cy="80.0" r="2.8350000000000004" fill="url(#gC)"/><circle cx="878.2" cy="81.6" r="2.7" fill="url(#gC)"/><circle cx="941.7" cy="82.4" r="2.8350000000000004" fill="url(#gC)"/><circle cx="868.5" cy="83.1" r="2.7" fill="url(#gN)"/><circle cx="933.0" cy="83.8" r="2.7" fill="url(#gN)"/><circle cx="886.2" cy="85.8" r="2.7" fill="url(#gN)"/><circle cx="866.8" cy="88.9" r="2.7" fill="url(#gC)"/><circle cx="931.3" cy="89.6" r="2.7" fill="url(#gC)"/><circle cx="857.1" cy="90.4" r="2.7" fill="url(#gN)"/><circle cx="921.6" cy="91.1" r="2.7" fill="url(#gN)"/><circle cx="884.5" cy="91.5" r="2.7" fill="url(#gC)"/><circle cx="874.8" cy="93.1" r="2.7" fill="url(#gN)"/><circle cx="939.3" cy="93.8" r="2.7" fill="url(#gN)"/><circle cx="892.5" cy="95.8" r="2.7" fill="url(#gN)"/><circle cx="855.4" cy="96.2" r="2.7" fill="url(#gC)"/><circle cx="919.9" cy="96.9" r="2.7" fill="url(#gC)"/><circle cx="845.7" cy="97.7" r="2.7" fill="url(#gN)"/><circle cx="910.2" cy="98.4" r="2.7" fill="url(#gN)"/><circle cx="873.1" cy="98.8" r="2.7" fill="url(#gC)"/><circle cx="937.6" cy="99.6" r="2.7" fill="url(#gC)"/><circle cx="863.5" cy="100.4" r="2.7" fill="url(#gN)"/><circle cx="927.9" cy="101.1" r="2.7" fill="url(#gN)"/><circle cx="890.9" cy="101.5" r="2.7" fill="url(#gC)"/><circle cx="881.2" cy="103.1" r="2.7" fill="url(#gN)"/><circle cx="844.1" cy="103.5" r="2.7" fill="url(#gC)"/><circle cx="945.6" cy="103.8" r="2.7" fill="url(#gN)"/><circle cx="908.6" cy="104.2" r="2.7" fill="url(#gC)"/><circle cx="834.4" cy="105.0" r="2.7" fill="url(#gN)"/><circle cx="898.9" cy="105.7" r="2.7" fill="url(#gN)"/><circle cx="926.3" cy="106.9" r="2.7" fill="url(#gC)"/><circle cx="852.1" cy="107.7" r="2.7" fill="url(#gN)"/><circle cx="916.6" cy="108.4" r="2.7" fill="url(#gN)"/><circle cx="944.0" cy="109.5" r="2.7" fill="url(#gC)"/><circle cx="832.7" cy="110.8" r="2.7" fill="url(#gC)"/><circle cx="934.3" cy="111.1" r="2.7" fill="url(#gN)"/><circle cx="897.2" cy="111.5" r="2.7" fill="url(#gC)"/><circle cx="823.0" cy="112.3" r="2.7" fill="url(#gN)"/><circle cx="887.5" cy="113.0" r="2.7" fill="url(#gN)"/><circle cx="850.4" cy="113.5" r="2.7" fill="url(#gC)"/><circle cx="952.0" cy="113.8" r="2.7" fill="url(#gN)"/><circle cx="840.7" cy="115.0" r="2.7" fill="url(#gN)"/><circle cx="905.2" cy="115.7" r="2.7" fill="url(#gN)"/><circle cx="804.5" cy="115.8" r="2.8350000000000004" fill="url(#gC)"/><circle cx="858.4" cy="117.7" r="2.7" fill="url(#gN)"/><circle cx="821.4" cy="118.1" r="2.7" fill="url(#gC)"/><circle cx="885.8" cy="118.8" r="2.7" fill="url(#gC)"/><circle cx="950.3" cy="119.5" r="2.7" fill="url(#gC)"/><circle cx="811.7" cy="119.6" r="2.7" fill="url(#gN)"/><circle cx="876.1" cy="120.3" r="2.7" fill="url(#gN)"/><circle cx="839.1" cy="120.8" r="2.7" fill="url(#gC)"/><circle cx="940.6" cy="121.1" r="2.7" fill="url(#gN)"/><circle cx="903.5" cy="121.5" r="2.7" fill="url(#gC)"/><circle cx="829.4" cy="122.3" r="2.7" fill="url(#gN)"/><circle cx="893.9" cy="123.0" r="2.7" fill="url(#gN)"/><circle cx="856.8" cy="123.4" r="2.7" fill="url(#gC)"/><circle cx="958.3" cy="123.7" r="2.7" fill="url(#gN)"/><circle cx="810.2" cy="124.8" r="2.8350000000000004" fill="url(#gC)"/><circle cx="847.1" cy="125.0" r="2.7" fill="url(#gN)"/><circle cx="911.6" cy="125.7" r="2.7" fill="url(#gN)"/><circle cx="874.5" cy="126.1" r="2.7" fill="url(#gC)"/><circle cx="939.0" cy="126.8" r="2.7" fill="url(#gC)"/><circle cx="864.8" cy="127.6" r="2.7" fill="url(#gN)"/><circle cx="929.3" cy="128.4" r="2.7" fill="url(#gN)"/><circle cx="892.2" cy="128.8" r="2.7" fill="url(#gC)"/><circle cx="956.7" cy="129.5" r="2.7" fill="url(#gC)"/><circle cx="882.5" cy="130.3" r="2.7" fill="url(#gN)"/><circle cx="947.0" cy="131.0" r="2.7" fill="url(#gN)"/><circle cx="909.9" cy="131.5" r="2.7" fill="url(#gC)"/><circle cx="900.2" cy="133.0" r="2.7" fill="url(#gN)"/><circle cx="863.1" cy="133.4" r="2.7" fill="url(#gC)"/><circle cx="964.7" cy="133.7" r="2.7" fill="url(#gN)"/><circle cx="927.6" cy="134.1" r="2.7" fill="url(#gC)"/><circle cx="853.4" cy="135.0" r="2.7" fill="url(#gN)"/><circle cx="917.9" cy="135.7" r="2.7" fill="url(#gN)"/><circle cx="945.3" cy="136.8" r="2.7" fill="url(#gC)"/><circle cx="871.1" cy="137.6" r="2.7" fill="url(#gN)"/><circle cx="935.6" cy="138.3" r="2.7" fill="url(#gN)"/><circle cx="963.0" cy="139.5" r="2.7" fill="url(#gC)"/><circle cx="851.8" cy="140.7" r="2.7" fill="url(#gC)"/><circle cx="953.3" cy="141.0" r="2.7" fill="url(#gN)"/><circle cx="916.2" cy="141.4" r="2.7" fill="url(#gC)"/><circle cx="842.1" cy="142.3" r="2.7" fill="url(#gN)"/><circle cx="979.7" cy="142.3" r="2.8350000000000004" fill="url(#gC)"/><circle cx="906.5" cy="143.0" r="2.7" fill="url(#gN)"/><circle cx="869.5" cy="143.4" r="2.7" fill="url(#gC)"/><circle cx="971.0" cy="143.7" r="2.7" fill="url(#gN)"/><circle cx="859.8" cy="144.9" r="2.7" fill="url(#gN)"/><circle cx="924.3" cy="145.7" r="2.7" fill="url(#gN)"/><circle cx="823.5" cy="145.8" r="2.8350000000000004" fill="url(#gC)"/><circle cx="877.5" cy="147.6" r="2.7" fill="url(#gN)"/><circle cx="840.4" cy="148.0" r="2.7" fill="url(#gC)"/><circle cx="904.9" cy="148.7" r="2.7" fill="url(#gC)"/><circle cx="969.5" cy="148.9" r="2.8350000000000004" fill="url(#gC)"/><circle cx="830.7" cy="149.6" r="2.7" fill="url(#gN)"/><circle cx="895.2" cy="150.3" r="2.7" fill="url(#gN)"/><circle cx="858.1" cy="150.7" r="2.7" fill="url(#gC)"/><circle cx="922.6" cy="151.4" r="2.7" fill="url(#gC)"/><circle cx="848.4" cy="152.2" r="2.7" fill="url(#gN)"/><circle cx="912.9" cy="153.0" r="2.7" fill="url(#gN)"/><circle cx="875.8" cy="153.4" r="2.7" fill="url(#gC)"/><circle cx="829.2" cy="154.7" r="2.8350000000000004" fill="url(#gC)"/><circle cx="866.1" cy="154.9" r="2.7" fill="url(#gN)"/><circle cx="930.6" cy="155.6" r="2.7" fill="url(#gN)"/><circle cx="893.5" cy="156.0" r="2.7" fill="url(#gC)"/><circle cx="883.8" cy="157.6" r="2.7" fill="url(#gN)"/><circle cx="911.2" cy="158.7" r="2.7" fill="url(#gC)"/><circle cx="901.5" cy="160.3" r="2.7" fill="url(#gN)"/><circle cx="928.9" cy="161.4" r="2.7" fill="url(#gC)"/><circle cx="919.2" cy="162.9" r="2.7" fill="url(#gN)"/><circle cx="945.7" cy="164.2" r="2.8350000000000004" fill="url(#gC)"/><circle cx="937.0" cy="165.6" r="2.7" fill="url(#gN)"/><circle cx="935.5" cy="170.8" r="2.8350000000000004" fill="url(#gC)"/>
<path d="M903.0,348.9L894.8,344.8M894.8,344.8L896.5,339.3M896.5,339.3L906.4,337.8M906.4,337.8L914.5,341.8M914.5,341.8L912.8,347.4M912.8,347.4L903.0,348.9M884.9,346.3L876.7,342.2M876.7,342.2L878.4,336.7M878.4,336.7L888.3,335.2M888.3,335.2L896.5,339.3M894.8,344.8L884.9,346.3M888.3,335.2L890.0,329.6M890.0,329.6L899.9,328.1M899.9,328.1L908.1,332.2M908.1,332.2L906.4,337.8M957.1,356.6L948.9,352.6M948.9,352.6L950.6,347.0M950.6,347.0L960.5,345.5M960.5,345.5L968.7,349.6M968.7,349.6L967.0,355.2M967.0,355.2L957.1,356.6M939.1,354.1L930.9,350.0M930.9,350.0L932.6,344.4M932.6,344.4L942.5,342.9M942.5,342.9L950.6,347.0M948.9,352.6L939.1,354.1M942.5,342.9L944.2,337.4M944.2,337.4L954.0,335.9M954.0,335.9L962.2,340.0M962.2,340.0L960.5,345.5M868.2,370.1L860.0,366.0M860.0,366.0L861.7,360.4M861.7,360.4L871.6,358.9M871.6,358.9L879.8,363.0M879.8,363.0L878.1,368.6M878.1,368.6L868.2,370.1M850.2,367.5L842.0,363.4M842.0,363.4L843.7,357.8M843.7,357.8L853.6,356.4M853.6,356.4L861.7,360.4M860.0,366.0L850.2,367.5M853.6,356.4L855.3,350.8M855.3,350.8L865.2,349.3M865.2,349.3L873.3,353.4M873.3,353.4L871.6,358.9M922.4,377.8L914.2,373.7M914.2,373.7L915.9,368.2M915.9,368.2L925.8,366.7M925.8,366.7L933.9,370.8M933.9,370.8L932.2,376.3M932.2,376.3L922.4,377.8M904.3,375.2L896.1,371.2M896.1,371.2L897.8,365.6M897.8,365.6L907.7,364.1M907.7,364.1L915.9,368.2M914.2,373.7L904.3,375.2M907.7,364.1L909.4,358.5M909.4,358.5L919.3,357.0M919.3,357.0L927.5,361.1M927.5,361.1L925.8,366.7M937.7,327.7L929.5,323.7M929.5,323.7L931.2,318.1M931.2,318.1L941.1,316.6M941.1,316.6L949.3,320.7M949.3,320.7L947.6,326.2M947.6,326.2L937.7,327.7M919.7,325.2L911.5,321.1M911.5,321.1L913.2,315.5M913.2,315.5L923.1,314.0M923.1,314.0L931.2,318.1M929.5,323.7L919.7,325.2M923.1,314.0L924.8,308.5M924.8,308.5L934.6,307.0M934.6,307.0L942.8,311.0M942.8,311.0L941.1,316.6M848.8,341.2L840.6,337.1M840.6,337.1L842.3,331.5M842.3,331.5L852.2,330.0M852.2,330.0L860.4,334.1M860.4,334.1L858.7,339.7M858.7,339.7L848.8,341.2M830.8,338.6L822.6,334.5M822.6,334.5L824.3,328.9M824.3,328.9L834.2,327.4M834.2,327.4L842.3,331.5M840.6,337.1L830.8,338.6M834.2,327.4L835.9,321.9M835.9,321.9L845.8,320.4M845.8,320.4L853.9,324.5M853.9,324.5L852.2,330.0M883.6,320.0L875.4,315.9M875.4,315.9L877.1,310.4M877.1,310.4L887.0,308.9M887.0,308.9L895.1,312.9M895.1,312.9L893.4,318.5M893.4,318.5L883.6,320.0M865.5,317.4L857.3,313.3M857.3,313.3L859.0,307.8M859.0,307.8L868.9,306.3M868.9,306.3L877.1,310.4M875.4,315.9L865.5,317.4M868.9,306.3L870.6,300.7M870.6,300.7L880.5,299.2M880.5,299.2L888.7,303.3M888.7,303.3L887.0,308.9M912.8,347.4L921.0,351.5M930.9,350.0L921.0,351.5M919.3,357.0L921.0,351.5M876.7,342.2L866.8,343.7M865.2,349.3L866.8,343.7M858.7,339.7L866.8,343.7M899.9,328.1L901.6,322.6M911.5,321.1L901.6,322.6M893.4,318.5L901.6,322.6M967.0,355.2L975.1,359.2M975.1,359.2L973.6,364.2M975.1,359.2L984.0,357.9M954.0,335.9L955.8,330.3M947.6,326.2L955.8,330.3M878.1,368.6L886.3,372.6M896.1,371.2L886.3,372.6M842.0,363.4L832.1,364.9M832.1,364.9L824.7,361.2M832.1,364.9L830.5,369.9M932.2,376.3L940.5,380.4M940.5,380.4L938.9,385.4M940.5,380.4L949.3,379.1M934.6,307.0L936.4,301.4M936.4,301.4L945.3,300.1M936.4,301.4L929.0,297.8M822.6,334.5L812.8,336.0M812.8,336.0L805.4,332.3M812.8,336.0L811.2,341.0M845.8,320.4L847.4,314.8M857.3,313.3L847.4,314.8M880.5,299.2L882.2,293.7M882.2,293.7L891.1,292.3M882.2,293.7L874.8,290.0" stroke="#9a9aa8" stroke-width="0.9" fill="none"/><circle cx="874.8" cy="290.0" r="2.8350000000000004" fill="url(#gC)"/><circle cx="891.1" cy="292.3" r="2.8350000000000004" fill="url(#gC)"/><circle cx="882.2" cy="293.7" r="2.7" fill="url(#gN)"/><circle cx="929.0" cy="297.8" r="2.8350000000000004" fill="url(#gC)"/><circle cx="880.5" cy="299.2" r="2.7" fill="url(#gC)"/><circle cx="945.3" cy="300.1" r="2.8350000000000004" fill="url(#gC)"/><circle cx="870.6" cy="300.7" r="2.7" fill="url(#gN)"/><circle cx="936.4" cy="301.4" r="2.7" fill="url(#gN)"/><circle cx="888.7" cy="303.3" r="2.7" fill="url(#gN)"/><circle cx="868.9" cy="306.3" r="2.7" fill="url(#gC)"/><circle cx="934.6" cy="307.0" r="2.7" fill="url(#gC)"/><circle cx="859.0" cy="307.8" r="2.7" fill="url(#gN)"/><circle cx="924.8" cy="308.5" r="2.7" fill="url(#gN)"/><circle cx="887.0" cy="308.9" r="2.7" fill="url(#gC)"/><circle cx="877.1" cy="310.4" r="2.7" fill="url(#gN)"/><circle cx="942.8" cy="311.0" r="2.7" fill="url(#gN)"/><circle cx="895.1" cy="312.9" r="2.7" fill="url(#gN)"/><circle cx="857.3" cy="313.3" r="2.7" fill="url(#gC)"/><circle cx="923.1" cy="314.0" r="2.7" fill="url(#gC)"/><circle cx="847.4" cy="314.8" r="2.7" fill="url(#gN)"/><circle cx="913.2" cy="315.5" r="2.7" fill="url(#gN)"/><circle cx="875.4" cy="315.9" r="2.7" fill="url(#gC)"/><circle cx="941.1" cy="316.6" r="2.7" fill="url(#gC)"/><circle cx="865.5" cy="317.4" r="2.7" fill="url(#gN)"/><circle cx="931.2" cy="318.1" r="2.7" fill="url(#gN)"/><circle cx="893.4" cy="318.5" r="2.7" fill="url(#gC)"/><circle cx="883.6" cy="320.0" r="2.7" fill="url(#gN)"/><circle cx="845.8" cy="320.4" r="2.7" fill="url(#gC)"/><circle cx="949.3" cy="320.7" r="2.7" fill="url(#gN)"/><circle cx="911.5" cy="321.1" r="2.7" fill="url(#gC)"/><circle cx="835.9" cy="321.9" r="2.7" fill="url(#gN)"/><circle cx="901.6" cy="322.6" r="2.7" fill="url(#gN)"/><circle cx="929.5" cy="323.7" r="2.7" fill="url(#gC)"/><circle cx="853.9" cy="324.5" r="2.7" fill="url(#gN)"/><circle cx="919.7" cy="325.2" r="2.7" fill="url(#gN)"/><circle cx="947.6" cy="326.2" r="2.7" fill="url(#gC)"/><circle cx="834.2" cy="327.4" r="2.7" fill="url(#gC)"/><circle cx="937.7" cy="327.7" r="2.7" fill="url(#gN)"/><circle cx="899.9" cy="328.1" r="2.7" fill="url(#gC)"/><circle cx="824.3" cy="328.9" r="2.7" fill="url(#gN)"/><circle cx="890.0" cy="329.6" r="2.7" fill="url(#gN)"/><circle cx="852.2" cy="330.0" r="2.7" fill="url(#gC)"/><circle cx="955.8" cy="330.3" r="2.7" fill="url(#gN)"/><circle cx="842.3" cy="331.5" r="2.7" fill="url(#gN)"/><circle cx="908.1" cy="332.2" r="2.7" fill="url(#gN)"/><circle cx="805.4" cy="332.3" r="2.8350000000000004" fill="url(#gC)"/><circle cx="860.4" cy="334.1" r="2.7" fill="url(#gN)"/><circle cx="822.6" cy="334.5" r="2.7" fill="url(#gC)"/><circle cx="888.3" cy="335.2" r="2.7" fill="url(#gC)"/><circle cx="954.0" cy="335.9" r="2.7" fill="url(#gC)"/><circle cx="812.8" cy="336.0" r="2.7" fill="url(#gN)"/><circle cx="878.4" cy="336.7" r="2.7" fill="url(#gN)"/><circle cx="840.6" cy="337.1" r="2.7" fill="url(#gC)"/><circle cx="944.2" cy="337.4" r="2.7" fill="url(#gN)"/><circle cx="906.4" cy="337.8" r="2.7" fill="url(#gC)"/><circle cx="830.8" cy="338.6" r="2.7" fill="url(#gN)"/><circle cx="896.5" cy="339.3" r="2.7" fill="url(#gN)"/><circle cx="858.7" cy="339.7" r="2.7" fill="url(#gC)"/><circle cx="962.2" cy="340.0" r="2.7" fill="url(#gN)"/><circle cx="811.2" cy="341.0" r="2.8350000000000004" fill="url(#gC)"/><circle cx="848.8" cy="341.2" r="2.7" fill="url(#gN)"/><circle cx="914.5" cy="341.8" r="2.7" fill="url(#gN)"/><circle cx="876.7" cy="342.2" r="2.7" fill="url(#gC)"/><circle cx="942.5" cy="342.9" r="2.7" fill="url(#gC)"/><circle cx="866.8" cy="343.7" r="2.7" fill="url(#gN)"/><circle cx="932.6" cy="344.4" r="2.7" fill="url(#gN)"/><circle cx="894.8" cy="344.8" r="2.7" fill="url(#gC)"/><circle cx="960.5" cy="345.5" r="2.7" fill="url(#gC)"/><circle cx="884.9" cy="346.3" r="2.7" fill="url(#gN)"/><circle cx="950.6" cy="347.0" r="2.7" fill="url(#gN)"/><circle cx="912.8" cy="347.4" r="2.7" fill="url(#gC)"/><circle cx="903.0" cy="348.9" r="2.7" fill="url(#gN)"/><circle cx="865.2" cy="349.3" r="2.7" fill="url(#gC)"/><circle cx="968.7" cy="349.6" r="2.7" fill="url(#gN)"/><circle cx="930.9" cy="350.0" r="2.7" fill="url(#gC)"/><circle cx="855.3" cy="350.8" r="2.7" fill="url(#gN)"/><circle cx="921.0" cy="351.5" r="2.7" fill="url(#gN)"/><circle cx="948.9" cy="352.6" r="2.7" fill="url(#gC)"/><circle cx="873.3" cy="353.4" r="2.7" fill="url(#gN)"/><circle cx="939.1" cy="354.1" r="2.7" fill="url(#gN)"/><circle cx="967.0" cy="355.2" r="2.7" fill="url(#gC)"/><circle cx="853.6" cy="356.4" r="2.7" fill="url(#gC)"/><circle cx="957.1" cy="356.6" r="2.7" fill="url(#gN)"/><circle cx="919.3" cy="357.0" r="2.7" fill="url(#gC)"/><circle cx="843.7" cy="357.8" r="2.7" fill="url(#gN)"/><circle cx="984.0" cy="357.9" r="2.8350000000000004" fill="url(#gC)"/><circle cx="909.4" cy="358.5" r="2.7" fill="url(#gN)"/><circle cx="871.6" cy="358.9" r="2.7" fill="url(#gC)"/><circle cx="975.1" cy="359.2" r="2.7" fill="url(#gN)"/><circle cx="861.7" cy="360.4" r="2.7" fill="url(#gN)"/><circle cx="927.5" cy="361.1" r="2.7" fill="url(#gN)"/><circle cx="824.7" cy="361.2" r="2.8350000000000004" fill="url(#gC)"/><circle cx="879.8" cy="363.0" r="2.7" fill="url(#gN)"/><circle cx="842.0" cy="363.4" r="2.7" fill="url(#gC)"/><circle cx="907.7" cy="364.1" r="2.7" fill="url(#gC)"/><circle cx="973.6" cy="364.2" r="2.8350000000000004" fill="url(#gC)"/><circle cx="832.1" cy="364.9" r="2.7" fill="url(#gN)"/><circle cx="897.8" cy="365.6" r="2.7" fill="url(#gN)"/><circle cx="860.0" cy="366.0" r="2.7" fill="url(#gC)"/><circle cx="925.8" cy="366.7" r="2.7" fill="url(#gC)"/><circle cx="850.2" cy="367.5" r="2.7" fill="url(#gN)"/><circle cx="915.9" cy="368.2" r="2.7" fill="url(#gN)"/><circle cx="878.1" cy="368.6" r="2.7" fill="url(#gC)"/><circle cx="830.5" cy="369.9" r="2.8350000000000004" fill="url(#gC)"/><circle cx="868.2" cy="370.1" r="2.7" fill="url(#gN)"/><circle cx="933.9" cy="370.8" r="2.7" fill="url(#gN)"/><circle cx="896.1" cy="371.2" r="2.7" fill="url(#gC)"/><circle cx="886.3" cy="372.6" r="2.7" fill="url(#gN)"/><circle cx="914.2" cy="373.7" r="2.7" fill="url(#gC)"/><circle cx="904.3" cy="375.2" r="2.7" fill="url(#gN)"/><circle cx="932.2" cy="376.3" r="2.7" fill="url(#gC)"/><circle cx="922.4" cy="377.8" r="2.7" fill="url(#gN)"/><circle cx="949.3" cy="379.1" r="2.8350000000000004" fill="url(#gC)"/><circle cx="940.5" cy="380.4" r="2.7" fill="url(#gN)"/><circle cx="938.9" cy="385.4" r="2.8350000000000004" fill="url(#gC)"/>
<path d="M919.7,316.2 L924.4,326.7 A4.8,1.5 0 0 1 914.9,326.7 Z" fill="url(#gConeY)"/>
<path d="M847.4,305.8 L852.2,316.3 A4.8,1.5 0 0 1 842.7,316.3 Z" fill="url(#gConeY)"/>
<path d="M865.5,308.4 L870.3,318.9 A4.8,1.5 0 0 1 860.8,318.9 Z" fill="url(#gConeY)"/>
<path d="M832.1,355.9 L836.8,366.4 A4.8,1.5 0 0 1 827.3,366.4 Z" fill="url(#gConeY)"/>
<path d="M860.4,325.1 L865.1,335.6 A4.8,1.5 0 0 1 855.6,335.6 Z" fill="url(#gConeY)"/>
<path d="M968.7,340.6 L973.4,351.1 A4.8,1.5 0 0 1 963.9,351.1 Z" fill="url(#gConeY)"/>
<path d="M940.5,371.4 L945.2,381.9 A4.8,1.5 0 0 1 935.7,381.9 Z" fill="url(#gConeY)"/>
<path d="M950.6,338.0 L955.4,348.5 A4.8,1.5 0 0 1 945.9,348.5 Z" fill="url(#gConeY)"/>
<path d="M882.2,284.7 L886.9,295.2 A4.8,1.5 0 0 1 877.4,295.2 Z" fill="url(#gConeY)"/>
<path d="M901.6,313.6 L906.4,324.1 A4.8,1.5 0 0 1 896.9,324.1 Z" fill="url(#gConeY)"/>
<path d="M843.7,348.8 L848.4,359.3 A4.8,1.5 0 0 1 838.9,359.3 Z" fill="url(#gConeY)"/>
<path d="M873.3,344.4 L878.1,354.9 A4.8,1.5 0 0 1 868.6,354.9 Z" fill="url(#gConeY)"/>
<path d="M897.8,356.6 L902.6,367.1 A4.8,1.5 0 0 1 893.1,367.1 Z" fill="url(#gConeY)"/>
<path d="M859.0,298.8 L863.8,309.3 A4.8,1.5 0 0 1 854.3,309.3 Z" fill="url(#gConeY)"/>
<path d="M883.6,311.0 L888.3,321.5 A4.8,1.5 0 0 1 878.8,321.5 Z" fill="url(#gConeY)"/>
<path d="M830.8,329.6 L835.5,340.1 A4.8,1.5 0 0 1 826.0,340.1 Z" fill="url(#gConeY)"/>
<path d="M913.2,306.5 L917.9,317.0 A4.8,1.5 0 0 1 908.4,317.0 Z" fill="url(#gConeY)"/>
<path d="M848.8,332.2 L853.6,342.7 A4.8,1.5 0 0 1 844.1,342.7 Z" fill="url(#gConeY)"/>
<path d="M922.4,368.8 L927.1,379.3 A4.8,1.5 0 0 1 917.6,379.3 Z" fill="url(#gConeY)"/>
<path d="M877.1,301.4 L881.8,311.9 A4.8,1.5 0 0 1 872.3,311.9 Z" fill="url(#gConeY)"/>
<text transform="translate(122.28 560.60) scale(1 1.054)" font-family="Liberation Sans" font-size="18.78" font-weight="bold" font-style="italic" fill="#111"><tspan font-size="18.78">Ab</tspan><tspan font-size="13.52">1</tspan></text>
<text transform="translate(233.19 561.40) scale(1 1.104)" font-family="Liberation Sans" font-size="16.99" font-weight="bold" font-style="italic" fill="#111"><tspan font-size="16.99">cTnI</tspan></text>
<text transform="translate(357.41 561.00) scale(1 1.077)" font-family="Liberation Sans" font-size="18.65" font-weight="bold" font-style="italic" fill="#111"><tspan font-size="18.65">CeO</tspan><tspan font-size="13.42">2</tspan><tspan font-size="18.65">-Ab</tspan><tspan font-size="13.42">2</tspan></text>
<text transform="translate(520.65 559.60) scale(1 1.069)" font-family="Liberation Sans" font-size="18.50" font-weight="bold" font-style="italic" fill="#111"><tspan font-size="18.50">g-C</tspan><tspan font-size="13.32">3</tspan><tspan font-size="18.50">N</tspan><tspan font-size="13.32">4</tspan><tspan font-size="18.50"> QDs</tspan></text>
<text transform="translate(705.46 560.70) scale(1 1.127)" font-family="Liberation Sans" font-size="18.06" font-weight="bold" font-style="italic" fill="#111"><tspan font-size="18.06">oxOPD</tspan></text>
<text transform="translate(818.35 559.80) scale(1 1.099)" font-family="Liberation Sans" font-size="18.13" font-weight="bold" font-style="italic" fill="#111"><tspan font-size="18.13">g-C</tspan><tspan font-size="13.05">3</tspan><tspan font-size="18.13">N</tspan><tspan font-size="13.05">4</tspan><tspan font-size="18.13"> QDs-oxOPD</tspan></text>
<path d="M137.5,504.5L137.5,533.5" stroke="#1e8494" stroke-width="4.6" stroke-linecap="round"/>
<path d="M137.5,504.5L137.5,533.5" stroke="#3cb2c2" stroke-width="2.07" stroke-linecap="round"/>
<path d="M142.5,504.5L142.5,533.5" stroke="#1e8494" stroke-width="4.6" stroke-linecap="round"/>
<path d="M142.5,504.5L142.5,533.5" stroke="#3cb2c2" stroke-width="2.07" stroke-linecap="round"/>
<path d="M119.0,496.5L133.0,508.0" stroke="#1e8494" stroke-width="4.6" stroke-linecap="round"/>
<path d="M119.0,496.5L133.0,508.0" stroke="#3cb2c2" stroke-width="2.07" stroke-linecap="round"/>
<path d="M125.0,492.0L136.0,504.0" stroke="#1e8494" stroke-width="4.6" stroke-linecap="round"/>
<path d="M125.0,492.0L136.0,504.0" stroke="#3cb2c2" stroke-width="2.07" stroke-linecap="round"/>
<path d="M154.0,487.2L142.5,502.5" stroke="#1e8494" stroke-width="4.6" stroke-linecap="round"/>
<path d="M154.0,487.2L142.5,502.5" stroke="#3cb2c2" stroke-width="2.07" stroke-linecap="round"/>
<path d="M159.0,491.5L145.5,506.0" stroke="#1e8494" stroke-width="4.6" stroke-linecap="round"/>
<path d="M159.0,491.5L145.5,506.0" stroke="#3cb2c2" stroke-width="2.07" stroke-linecap="round"/>
<path d="M252.30,492.00 L234.50,511.50 L240.50,512.00 Z" fill="#f2f23c"/>
<path d="M252.30,492.00 L240.50,512.00 L270.90,510.60 Z" fill="#e4e428"/>
<path d="M234.50,511.50 L240.50,512.00 L254.00,529.30 Z" fill="#4a4810"/>
<path d="M240.50,512.00 L270.90,510.60 L254.00,529.30 Z" fill="#d8d024"/>
<circle cx="392.2" cy="503.1" r="19.8" fill="url(#gSph)"/>
<circle cx="385.0" cy="486.5" r="2.9" fill="#d87a20"/><circle cx="383.4" cy="485.1" r="3.0" fill="#e89030"/><circle cx="383.2" cy="484.1" r="2.9" fill="#c87020"/><circle cx="383.6" cy="484.2" r="3.4" fill="#e89030"/><circle cx="381.5" cy="482.8" r="2.8" fill="#f0a848"/><circle cx="382.4" cy="482.3" r="2.6" fill="#e89030"/><circle cx="380.8" cy="480.6" r="3.0" fill="#e89030"/><circle cx="380.2" cy="479.1" r="3.2" fill="#e89030"/><circle cx="379.0" cy="479.8" r="3.4" fill="#f0a848"/><circle cx="378.4" cy="477.9" r="3.5" fill="#c87020"/><circle cx="378.5" cy="476.7" r="2.1" fill="#c87020"/><circle cx="379.7" cy="476.2" r="2.4" fill="#f0a848"/><circle cx="380.4" cy="476.1" r="2.3" fill="#c87020"/><circle cx="378.7" cy="475.4" r="2.3" fill="#f0a848"/><circle cx="379.8" cy="473.8" r="2.1" fill="#d87a20"/><circle cx="379.1" cy="472.2" r="2.3" fill="#c87020"/><circle cx="378.2" cy="471.7" r="2.5" fill="#d87a20"/><circle cx="379.0" cy="470.6" r="2.1" fill="#d87a20"/><circle cx="379.0" cy="470.9" r="2.0" fill="#e89030"/><circle cx="379.8" cy="468.8" r="2.4" fill="#c87020"/><circle cx="380.4" cy="477.3" r="2.5" fill="#d87a20"/><circle cx="379.5" cy="478.2" r="2.6" fill="#c87020"/><circle cx="376.6" cy="477.3" r="2.4" fill="#f0a848"/><circle cx="376.6" cy="477.7" r="2.5" fill="#c87020"/><circle cx="373.9" cy="478.0" r="2.4" fill="#d87a20"/><circle cx="373.0" cy="476.7" r="2.2" fill="#e89030"/><circle cx="372.0" cy="478.9" r="2.3" fill="#c87020"/><circle cx="371.6" cy="477.1" r="2.4" fill="#e89030"/><circle cx="369.1" cy="477.6" r="2.2" fill="#f0a848"/><circle cx="367.7" cy="477.4" r="2.3" fill="#c87020"/><circle cx="379.3" cy="468.9" r="2.8" fill="#c82418"/><circle cx="378.4" cy="472.6" r="2.9" fill="#e03a20"/><circle cx="377.8" cy="470.8" r="2.7" fill="#e88a30"/><circle cx="382.0" cy="465.5" r="2.6" fill="#e88a30"/><circle cx="375.3" cy="471.3" r="2.3" fill="#d42a20"/><circle cx="379.3" cy="473.8" r="3.6" fill="#e88a30"/><circle cx="380.0" cy="465.7" r="3.0" fill="#c82418"/><circle cx="375.5" cy="468.8" r="3.0" fill="#c82418"/><circle cx="383.4" cy="470.2" r="3.7" fill="#c82418"/><circle cx="377.9" cy="466.0" r="2.9" fill="#d42a20"/><circle cx="375.6" cy="469.2" r="2.5" fill="#d83020"/><circle cx="380.7" cy="472.1" r="2.9" fill="#c82418"/><circle cx="376.1" cy="465.8" r="3.3" fill="#e88a30"/><circle cx="379.5" cy="467.7" r="2.7" fill="#e88a30"/><circle cx="383.9" cy="468.6" r="2.5" fill="#d83020"/><circle cx="378.0" cy="467.0" r="3.5" fill="#e88a30"/><circle cx="384.1" cy="468.9" r="3.2" fill="#c82418"/><circle cx="375.1" cy="468.5" r="3.0" fill="#e03a20"/><circle cx="380.3" cy="471.1" r="3.2" fill="#d83020"/><circle cx="376.6" cy="473.1" r="3.3" fill="#d42a20"/><circle cx="379.8" cy="469.2" r="2.3" fill="#d83020"/><circle cx="378.0" cy="473.4" r="2.3" fill="#d83020"/><circle cx="381.5" cy="469.6" r="3.1" fill="#d83020"/><circle cx="382.7" cy="465.9" r="3.7" fill="#d83020"/><circle cx="376.7" cy="467.8" r="2.5" fill="#d42a20"/><circle cx="376.0" cy="468.8" r="2.4" fill="#d42a20"/><circle cx="381.2" cy="472.3" r="3.2" fill="#c82418"/><circle cx="379.9" cy="468.1" r="3.3" fill="#d42a20"/><circle cx="366.6" cy="476.8" r="2.8" fill="#3c8c34"/><circle cx="369.4" cy="479.9" r="3.5" fill="#4ca040"/><circle cx="369.4" cy="477.3" r="2.9" fill="#3c8c34"/><circle cx="367.3" cy="478.5" r="3.1" fill="#3848c8"/><circle cx="371.3" cy="476.9" r="2.6" fill="#2c3cb0"/><circle cx="368.5" cy="479.6" r="3.5" fill="#2c3cb0"/><circle cx="366.4" cy="481.9" r="2.7" fill="#3848c8"/><circle cx="364.4" cy="474.8" r="3.7" fill="#3848c8"/><circle cx="371.9" cy="479.4" r="3.3" fill="#58a848"/><circle cx="368.7" cy="480.4" r="3.0" fill="#58a848"/><circle cx="368.8" cy="475.4" r="2.5" fill="#3c8c34"/><circle cx="367.9" cy="478.0" r="2.9" fill="#62b050"/><circle cx="366.4" cy="479.8" r="2.8" fill="#3848c8"/><circle cx="365.4" cy="473.8" r="3.5" fill="#3848c8"/><circle cx="366.8" cy="479.6" r="3.0" fill="#3c8c34"/><circle cx="366.4" cy="480.4" r="3.2" fill="#62b050"/><circle cx="367.2" cy="479.3" r="2.5" fill="#58a848"/><circle cx="369.4" cy="481.1" r="3.1" fill="#3c8c34"/><circle cx="363.9" cy="478.6" r="2.5" fill="#3c8c34"/><circle cx="365.7" cy="481.0" r="3.2" fill="#3848c8"/><circle cx="365.9" cy="476.4" r="3.0" fill="#3848c8"/><circle cx="368.7" cy="480.9" r="3.7" fill="#3c8c34"/><circle cx="372.0" cy="477.7" r="3.1" fill="#3848c8"/><circle cx="366.6" cy="479.5" r="3.0" fill="#2c3cb0"/><circle cx="371.2" cy="480.7" r="3.0" fill="#58a848"/><circle cx="365.8" cy="477.0" r="2.3" fill="#3848c8"/><circle cx="367.8" cy="475.9" r="2.8" fill="#4ca040"/><circle cx="370.0" cy="478.8" r="2.7" fill="#3c8c34"/>
<circle cx="411.0" cy="500.7" r="3.1" fill="#f0a848"/><circle cx="412.6" cy="502.2" r="2.7" fill="#f0a848"/><circle cx="412.0" cy="500.8" r="3.3" fill="#c87020"/><circle cx="413.8" cy="501.0" r="3.4" fill="#d87a20"/><circle cx="416.7" cy="500.2" r="2.9" fill="#f0a848"/><circle cx="417.9" cy="499.7" r="3.2" fill="#c87020"/><circle cx="417.4" cy="501.7" r="2.9" fill="#e89030"/><circle cx="418.5" cy="499.6" r="3.4" fill="#d87a20"/><circle cx="421.1" cy="499.3" r="2.6" fill="#d87a20"/><circle cx="421.6" cy="501.0" r="2.7" fill="#e89030"/><circle cx="421.9" cy="500.6" r="2.6" fill="#d87a20"/><circle cx="422.9" cy="501.5" r="2.1" fill="#c87020"/><circle cx="424.1" cy="501.7" r="2.6" fill="#e89030"/><circle cx="425.5" cy="502.9" r="2.1" fill="#e89030"/><circle cx="426.6" cy="503.0" r="2.4" fill="#d87a20"/><circle cx="427.0" cy="502.2" r="2.1" fill="#f0a848"/><circle cx="428.1" cy="503.0" r="2.4" fill="#c87020"/><circle cx="429.7" cy="505.0" r="2.1" fill="#e89030"/><circle cx="429.0" cy="506.4" r="2.2" fill="#f0a848"/><circle cx="430.8" cy="506.5" r="2.5" fill="#c87020"/><circle cx="421.8" cy="500.8" r="2.1" fill="#d87a20"/><circle cx="422.1" cy="498.5" r="2.6" fill="#f0a848"/><circle cx="421.6" cy="497.5" r="2.5" fill="#d87a20"/><circle cx="422.9" cy="496.8" r="2.0" fill="#f0a848"/><circle cx="422.7" cy="495.5" r="2.4" fill="#d87a20"/><circle cx="422.5" cy="496.1" r="2.4" fill="#d87a20"/><circle cx="424.3" cy="493.3" r="2.4" fill="#d87a20"/><circle cx="425.2" cy="493.3" r="2.1" fill="#d87a20"/><circle cx="424.6" cy="492.1" r="2.4" fill="#e89030"/><circle cx="424.8" cy="492.5" r="2.0" fill="#d87a20"/><circle cx="427.6" cy="504.0" r="3.5" fill="#c82418"/><circle cx="432.3" cy="507.6" r="3.0" fill="#e88a30"/><circle cx="434.7" cy="507.1" r="2.6" fill="#e88a30"/><circle cx="429.3" cy="502.8" r="2.5" fill="#d42a20"/><circle cx="426.8" cy="507.1" r="2.5" fill="#e88a30"/><circle cx="430.8" cy="506.1" r="2.4" fill="#c82418"/><circle cx="429.3" cy="501.2" r="2.7" fill="#d83020"/><circle cx="427.4" cy="502.1" r="2.6" fill="#c82418"/><circle cx="429.9" cy="505.8" r="3.2" fill="#d42a20"/><circle cx="427.0" cy="502.5" r="3.2" fill="#e88a30"/><circle cx="434.0" cy="507.9" r="3.4" fill="#d42a20"/><circle cx="431.7" cy="503.7" r="3.7" fill="#e03a20"/><circle cx="425.7" cy="505.2" r="2.4" fill="#e03a20"/><circle cx="429.8" cy="503.2" r="2.8" fill="#d83020"/><circle cx="432.1" cy="510.0" r="2.6" fill="#e88a30"/><circle cx="433.4" cy="509.4" r="2.6" fill="#e88a30"/><circle cx="433.8" cy="506.8" r="3.6" fill="#c82418"/><circle cx="433.5" cy="504.7" r="3.3" fill="#c82418"/><circle cx="434.1" cy="505.8" r="2.5" fill="#d42a20"/><circle cx="430.6" cy="507.7" r="2.4" fill="#c82418"/><circle cx="433.4" cy="506.7" r="2.6" fill="#e03a20"/><circle cx="429.7" cy="506.5" r="3.5" fill="#d83020"/><circle cx="431.0" cy="502.8" r="2.4" fill="#e88a30"/><circle cx="434.2" cy="507.3" r="2.4" fill="#e88a30"/><circle cx="435.1" cy="506.2" r="3.6" fill="#e03a20"/><circle cx="431.7" cy="508.2" r="3.5" fill="#c82418"/><circle cx="428.6" cy="502.6" r="2.4" fill="#c82418"/><circle cx="428.8" cy="508.9" r="3.6" fill="#d83020"/><circle cx="427.9" cy="488.2" r="3.2" fill="#2c3cb0"/><circle cx="425.1" cy="490.7" r="2.8" fill="#58a848"/><circle cx="422.7" cy="488.7" r="3.7" fill="#3848c8"/><circle cx="420.8" cy="492.3" r="3.5" fill="#62b050"/><circle cx="420.9" cy="491.1" r="2.6" fill="#3c8c34"/><circle cx="424.4" cy="487.8" r="3.2" fill="#3c8c34"/><circle cx="422.1" cy="494.5" r="2.8" fill="#3848c8"/><circle cx="424.9" cy="495.0" r="2.4" fill="#62b050"/><circle cx="426.6" cy="496.0" r="3.4" fill="#2c3cb0"/><circle cx="425.5" cy="496.2" r="2.4" fill="#58a848"/><circle cx="422.3" cy="491.3" r="2.6" fill="#3848c8"/><circle cx="421.2" cy="492.7" r="2.4" fill="#58a848"/><circle cx="421.0" cy="491.5" r="3.5" fill="#4ca040"/><circle cx="422.8" cy="487.9" r="3.5" fill="#3c8c34"/><circle cx="420.8" cy="490.5" r="3.2" fill="#4ca040"/><circle cx="428.1" cy="490.9" r="3.5" fill="#3848c8"/><circle cx="423.1" cy="493.1" r="3.1" fill="#3c8c34"/><circle cx="425.0" cy="490.0" r="2.4" fill="#2c3cb0"/><circle cx="424.9" cy="494.8" r="3.3" fill="#4ca040"/><circle cx="427.9" cy="490.9" r="3.3" fill="#4ca040"/><circle cx="420.6" cy="493.9" r="3.7" fill="#2c3cb0"/><circle cx="425.2" cy="493.4" r="3.5" fill="#58a848"/><circle cx="426.8" cy="495.5" r="3.5" fill="#62b050"/><circle cx="424.7" cy="491.3" r="2.5" fill="#62b050"/><circle cx="421.8" cy="494.8" r="3.3" fill="#62b050"/><circle cx="428.3" cy="492.8" r="2.8" fill="#4ca040"/><circle cx="422.9" cy="495.1" r="3.6" fill="#4ca040"/><circle cx="423.6" cy="489.6" r="3.3" fill="#3c8c34"/>
<circle cx="382.5" cy="518.5" r="3.0" fill="#e89030"/><circle cx="383.2" cy="517.2" r="2.8" fill="#d87a20"/><circle cx="382.9" cy="518.9" r="3.2" fill="#c87020"/><circle cx="383.2" cy="520.7" r="2.8" fill="#f0a848"/><circle cx="383.0" cy="520.3" r="2.9" fill="#d87a20"/><circle cx="381.3" cy="522.7" r="2.6" fill="#e89030"/><circle cx="379.8" cy="524.1" r="3.2" fill="#c87020"/><circle cx="381.3" cy="526.1" r="3.2" fill="#c87020"/><circle cx="379.7" cy="527.0" r="3.1" fill="#e89030"/><circle cx="379.1" cy="527.2" r="2.9" fill="#d87a20"/><circle cx="379.7" cy="525.9" r="2.0" fill="#f0a848"/><circle cx="379.1" cy="527.5" r="2.3" fill="#f0a848"/><circle cx="377.1" cy="528.3" r="2.3" fill="#d87a20"/><circle cx="375.4" cy="529.4" r="2.6" fill="#e89030"/><circle cx="376.1" cy="530.8" r="2.0" fill="#c87020"/><circle cx="374.2" cy="531.0" r="2.1" fill="#d87a20"/><circle cx="375.1" cy="530.6" r="2.3" fill="#e89030"/><circle cx="373.9" cy="533.3" r="2.4" fill="#e89030"/><circle cx="371.6" cy="532.8" r="2.5" fill="#d87a20"/><circle cx="371.5" cy="533.7" r="2.5" fill="#f0a848"/><circle cx="379.5" cy="527.5" r="2.2" fill="#c87020"/><circle cx="379.9" cy="528.7" r="2.4" fill="#c87020"/><circle cx="381.1" cy="530.3" r="2.5" fill="#f0a848"/><circle cx="381.0" cy="529.6" r="2.6" fill="#c87020"/><circle cx="382.4" cy="531.2" r="2.5" fill="#d87a20"/><circle cx="383.7" cy="531.7" r="2.4" fill="#f0a848"/><circle cx="384.8" cy="533.8" r="2.6" fill="#f0a848"/><circle cx="383.9" cy="534.0" r="2.6" fill="#d87a20"/><circle cx="385.3" cy="535.5" r="2.3" fill="#c87020"/><circle cx="387.2" cy="538.1" r="2.5" fill="#f0a848"/><circle cx="373.1" cy="532.7" r="3.1" fill="#e88a30"/><circle cx="371.2" cy="530.3" r="3.3" fill="#e03a20"/><circle cx="371.6" cy="537.2" r="3.6" fill="#e03a20"/><circle cx="370.3" cy="537.6" r="2.6" fill="#d42a20"/><circle cx="370.5" cy="529.4" r="2.3" fill="#d83020"/><circle cx="374.9" cy="536.2" r="2.8" fill="#d83020"/><circle cx="372.4" cy="535.8" r="3.2" fill="#d83020"/><circle cx="373.8" cy="534.5" r="2.6" fill="#d42a20"/><circle cx="369.0" cy="537.9" r="2.9" fill="#c82418"/><circle cx="369.8" cy="531.6" r="3.5" fill="#d42a20"/><circle cx="371.4" cy="532.8" r="2.8" fill="#d83020"/><circle cx="367.2" cy="534.3" r="3.7" fill="#e88a30"/><circle cx="371.5" cy="533.6" r="3.1" fill="#e88a30"/><circle cx="372.2" cy="534.1" r="3.3" fill="#d83020"/><circle cx="372.0" cy="532.5" r="2.5" fill="#d42a20"/><circle cx="373.7" cy="537.5" r="2.8" fill="#d42a20"/><circle cx="369.2" cy="536.4" r="3.5" fill="#d83020"/><circle cx="373.8" cy="538.2" r="2.8" fill="#d83020"/><circle cx="370.9" cy="531.7" r="3.4" fill="#c82418"/><circle cx="371.4" cy="531.5" r="3.7" fill="#d83020"/><circle cx="368.5" cy="534.9" r="3.0" fill="#d83020"/><circle cx="370.6" cy="536.6" r="3.0" fill="#d83020"/><circle cx="368.6" cy="530.6" r="2.5" fill="#e88a30"/><circle cx="368.9" cy="532.0" r="3.6" fill="#d42a20"/><circle cx="369.8" cy="533.0" r="3.0" fill="#d83020"/><circle cx="369.0" cy="533.5" r="2.8" fill="#d83020"/><circle cx="372.2" cy="535.9" r="3.0" fill="#e03a20"/><circle cx="368.6" cy="537.5" r="3.7" fill="#c82418"/><circle cx="382.7" cy="537.0" r="3.6" fill="#62b050"/><circle cx="384.9" cy="538.4" r="2.4" fill="#4ca040"/><circle cx="386.5" cy="535.8" r="3.6" fill="#58a848"/><circle cx="385.3" cy="534.4" r="3.1" fill="#3c8c34"/><circle cx="382.7" cy="539.5" r="3.2" fill="#58a848"/><circle cx="387.0" cy="539.4" r="3.3" fill="#62b050"/><circle cx="386.7" cy="539.9" r="3.4" fill="#62b050"/><circle cx="384.9" cy="534.9" r="2.6" fill="#3848c8"/><circle cx="384.9" cy="536.2" r="3.7" fill="#62b050"/><circle cx="388.3" cy="539.0" r="2.8" fill="#4ca040"/><circle cx="382.0" cy="537.4" r="2.7" fill="#3c8c34"/><circle cx="382.9" cy="534.0" r="3.1" fill="#3c8c34"/><circle cx="388.3" cy="535.5" r="2.8" fill="#58a848"/><circle cx="387.4" cy="532.5" r="2.9" fill="#3c8c34"/><circle cx="389.6" cy="540.6" r="2.3" fill="#58a848"/><circle cx="390.3" cy="540.1" r="2.5" fill="#4ca040"/><circle cx="385.5" cy="540.3" r="2.4" fill="#62b050"/><circle cx="388.6" cy="540.5" r="2.9" fill="#4ca040"/><circle cx="384.1" cy="533.9" r="3.6" fill="#3848c8"/><circle cx="387.5" cy="536.9" r="2.6" fill="#3c8c34"/><circle cx="386.2" cy="536.6" r="3.0" fill="#3c8c34"/><circle cx="387.0" cy="540.2" r="3.3" fill="#4ca040"/><circle cx="391.0" cy="538.4" r="3.6" fill="#4ca040"/><circle cx="389.1" cy="539.3" r="3.0" fill="#3c8c34"/><circle cx="388.9" cy="537.0" r="2.5" fill="#2c3cb0"/><circle cx="386.3" cy="533.6" r="3.1" fill="#4ca040"/><circle cx="389.1" cy="533.0" r="2.8" fill="#4ca040"/><circle cx="387.6" cy="541.7" r="3.3" fill="#3c8c34"/>
<path d="M573.6,511.5L568.7,509.0M568.7,509.0L569.7,505.5M569.7,505.5L575.6,504.6M575.6,504.6L580.5,507.1M580.5,507.1L579.5,510.6M579.5,510.6L573.6,511.5M562.7,509.9L557.8,507.4M557.8,507.4L558.8,503.9M558.8,503.9L564.8,503.0M564.8,503.0L569.7,505.5M568.7,509.0L562.7,509.9M564.8,503.0L565.8,499.5M565.8,499.5L571.7,498.6M571.7,498.6L576.6,501.1M576.6,501.1L575.6,504.6M606.1,516.3L601.2,513.8M601.2,513.8L602.2,510.3M602.2,510.3L608.1,509.4M608.1,509.4L613.0,511.9M613.0,511.9L612.0,515.4M612.0,515.4L606.1,516.3M595.2,514.7L590.3,512.2M590.3,512.2L591.3,508.7M591.3,508.7L597.3,507.8M597.3,507.8L602.2,510.3M601.2,513.8L595.2,514.7M597.3,507.8L598.3,504.3M598.3,504.3L604.2,503.4M604.2,503.4L609.1,506.0M609.1,506.0L608.1,509.4M552.7,524.7L547.8,522.1M547.8,522.1L548.8,518.7M548.8,518.7L554.7,517.7M554.7,517.7L559.7,520.3M559.7,520.3L558.6,523.7M558.6,523.7L552.7,524.7M541.9,523.1L537.0,520.5M537.0,520.5L538.0,517.1M538.0,517.1L543.9,516.1M543.9,516.1L548.8,518.7M547.8,522.1L541.9,523.1M543.9,516.1L544.9,512.7M544.9,512.7L550.9,511.8M550.9,511.8L555.8,514.3M555.8,514.3L554.7,517.7M585.2,529.5L580.3,526.9M580.3,526.9L581.3,523.5M581.3,523.5L587.2,522.6M587.2,522.6L592.2,525.1M592.2,525.1L591.1,528.6M591.1,528.6L585.2,529.5M574.4,527.9L569.5,525.3M569.5,525.3L570.5,521.9M570.5,521.9L576.4,521.0M576.4,521.0L581.3,523.5M580.3,526.9L574.4,527.9M576.4,521.0L577.4,517.5M577.4,517.5L583.4,516.6M583.4,516.6L588.3,519.1M588.3,519.1L587.2,522.6M594.4,498.4L589.5,495.8M589.5,495.8L590.5,492.4M590.5,492.4L596.5,491.4M596.5,491.4L601.4,494.0M601.4,494.0L600.3,497.4M600.3,497.4L594.4,498.4M583.6,496.8L578.7,494.2M578.7,494.2L579.7,490.8M579.7,490.8L585.6,489.8M585.6,489.8L590.5,492.4M589.5,495.8L583.6,496.8M585.6,489.8L586.6,486.4M586.6,486.4L592.6,485.5M592.6,485.5L597.5,488.0M597.5,488.0L596.5,491.4M541.1,506.7L536.2,504.2M536.2,504.2L537.2,500.7M537.2,500.7L543.1,499.8M543.1,499.8L548.0,502.3M548.0,502.3L547.0,505.8M547.0,505.8L541.1,506.7M530.2,505.1L525.3,502.6M525.3,502.6L526.3,499.1M526.3,499.1L532.3,498.2M532.3,498.2L537.2,500.7M536.2,504.2L530.2,505.1M532.3,498.2L533.3,494.7M533.3,494.7L539.2,493.8M539.2,493.8L544.1,496.3M544.1,496.3L543.1,499.8M561.9,493.5L557.0,491.0M557.0,491.0L558.0,487.6M558.0,487.6L564.0,486.6M564.0,486.6L568.9,489.2M568.9,489.2L567.8,492.6M567.8,492.6L561.9,493.5M551.1,491.9L546.2,489.4M546.2,489.4L547.2,485.9M547.2,485.9L553.1,485.0M553.1,485.0L558.0,487.6M557.0,491.0L551.1,491.9M553.1,485.0L554.1,481.6M554.1,481.6L560.1,480.6M560.1,480.6L565.0,483.2M565.0,483.2L564.0,486.6M579.5,510.6L584.4,513.1M590.3,512.2L584.4,513.1M583.4,516.6L584.4,513.1M557.8,507.4L551.9,508.3M550.9,511.8L551.9,508.3M547.0,505.8L551.9,508.3M571.7,498.6L572.7,495.1M578.7,494.2L572.7,495.1M567.8,492.6L572.7,495.1M612.0,515.4L616.9,517.9M616.9,517.9L615.9,521.0M616.9,517.9L622.2,517.1M604.2,503.4L605.3,500.0M600.3,497.4L605.3,500.0M558.6,523.7L563.5,526.3M569.5,525.3L563.5,526.3M537.0,520.5L531.0,521.5M531.0,521.5L526.6,519.2M531.0,521.5L530.1,524.6M591.1,528.6L596.1,531.1M596.1,531.1L595.1,534.2M596.1,531.1L601.4,530.3M592.6,485.5L593.6,482.0M593.6,482.0L598.9,481.2M593.6,482.0L589.2,479.7M525.3,502.6L519.4,503.5M519.4,503.5L515.0,501.2M519.4,503.5L518.5,506.6M539.2,493.8L540.2,490.3M546.2,489.4L540.2,490.3M560.1,480.6L561.1,477.2M561.1,477.2L566.4,476.3M561.1,477.2L556.7,474.9" stroke="#9a9aa8" stroke-width="0.9" fill="none"/><circle cx="556.7" cy="474.9" r="1.8900000000000001" fill="url(#gC)"/><circle cx="566.4" cy="476.3" r="1.8900000000000001" fill="url(#gC)"/><circle cx="561.1" cy="477.2" r="1.8" fill="url(#gN)"/><circle cx="589.2" cy="479.7" r="1.8900000000000001" fill="url(#gC)"/><circle cx="560.1" cy="480.6" r="1.8" fill="url(#gC)"/><circle cx="598.9" cy="481.2" r="1.8900000000000001" fill="url(#gC)"/><circle cx="554.1" cy="481.6" r="1.8" fill="url(#gN)"/><circle cx="593.6" cy="482.0" r="1.8" fill="url(#gN)"/><circle cx="565.0" cy="483.2" r="1.8" fill="url(#gN)"/><circle cx="553.1" cy="485.0" r="1.8" fill="url(#gC)"/><circle cx="592.6" cy="485.5" r="1.8" fill="url(#gC)"/><circle cx="547.2" cy="485.9" r="1.8" fill="url(#gN)"/><circle cx="586.6" cy="486.4" r="1.8" fill="url(#gN)"/><circle cx="564.0" cy="486.6" r="1.8" fill="url(#gC)"/><circle cx="558.0" cy="487.6" r="1.8" fill="url(#gN)"/><circle cx="597.5" cy="488.0" r="1.8" fill="url(#gN)"/><circle cx="568.9" cy="489.2" r="1.8" fill="url(#gN)"/><circle cx="546.2" cy="489.4" r="1.8" fill="url(#gC)"/><circle cx="585.6" cy="489.8" r="1.8" fill="url(#gC)"/><circle cx="540.2" cy="490.3" r="1.8" fill="url(#gN)"/><circle cx="579.7" cy="490.8" r="1.8" fill="url(#gN)"/><circle cx="557.0" cy="491.0" r="1.8" fill="url(#gC)"/><circle cx="596.5" cy="491.4" r="1.8" fill="url(#gC)"/><circle cx="551.1" cy="491.9" r="1.8" fill="url(#gN)"/><circle cx="590.5" cy="492.4" r="1.8" fill="url(#gN)"/><circle cx="567.8" cy="492.6" r="1.8" fill="url(#gC)"/><circle cx="561.9" cy="493.5" r="1.8" fill="url(#gN)"/><circle cx="539.2" cy="493.8" r="1.8" fill="url(#gC)"/><circle cx="601.4" cy="494.0" r="1.8" fill="url(#gN)"/><circle cx="578.7" cy="494.2" r="1.8" fill="url(#gC)"/><circle cx="533.3" cy="494.7" r="1.8" fill="url(#gN)"/><circle cx="572.7" cy="495.1" r="1.8" fill="url(#gN)"/><circle cx="589.5" cy="495.8" r="1.8" fill="url(#gC)"/><circle cx="544.1" cy="496.3" r="1.8" fill="url(#gN)"/><circle cx="583.6" cy="496.8" r="1.8" fill="url(#gN)"/><circle cx="600.3" cy="497.4" r="1.8" fill="url(#gC)"/><circle cx="532.3" cy="498.2" r="1.8" fill="url(#gC)"/><circle cx="594.4" cy="498.4" r="1.8" fill="url(#gN)"/><circle cx="571.7" cy="498.6" r="1.8" fill="url(#gC)"/><circle cx="526.3" cy="499.1" r="1.8" fill="url(#gN)"/><circle cx="565.8" cy="499.5" r="1.8" fill="url(#gN)"/><circle cx="543.1" cy="499.8" r="1.8" fill="url(#gC)"/><circle cx="605.3" cy="500.0" r="1.8" fill="url(#gN)"/><circle cx="537.2" cy="500.7" r="1.8" fill="url(#gN)"/><circle cx="576.6" cy="501.1" r="1.8" fill="url(#gN)"/><circle cx="515.0" cy="501.2" r="1.8900000000000001" fill="url(#gC)"/><circle cx="548.0" cy="502.3" r="1.8" fill="url(#gN)"/><circle cx="525.3" cy="502.6" r="1.8" fill="url(#gC)"/><circle cx="564.8" cy="503.0" r="1.8" fill="url(#gC)"/><circle cx="604.2" cy="503.4" r="1.8" fill="url(#gC)"/><circle cx="519.4" cy="503.5" r="1.8" fill="url(#gN)"/><circle cx="558.8" cy="503.9" r="1.8" fill="url(#gN)"/><circle cx="536.2" cy="504.2" r="1.8" fill="url(#gC)"/><circle cx="598.3" cy="504.3" r="1.8" fill="url(#gN)"/><circle cx="575.6" cy="504.6" r="1.8" fill="url(#gC)"/><circle cx="530.2" cy="505.1" r="1.8" fill="url(#gN)"/><circle cx="569.7" cy="505.5" r="1.8" fill="url(#gN)"/><circle cx="547.0" cy="505.8" r="1.8" fill="url(#gC)"/><circle cx="609.1" cy="506.0" r="1.8" fill="url(#gN)"/><circle cx="518.5" cy="506.6" r="1.8900000000000001" fill="url(#gC)"/><circle cx="541.1" cy="506.7" r="1.8" fill="url(#gN)"/><circle cx="580.5" cy="507.1" r="1.8" fill="url(#gN)"/><circle cx="557.8" cy="507.4" r="1.8" fill="url(#gC)"/><circle cx="597.3" cy="507.8" r="1.8" fill="url(#gC)"/><circle cx="551.9" cy="508.3" r="1.8" fill="url(#gN)"/><circle cx="591.3" cy="508.7" r="1.8" fill="url(#gN)"/><circle cx="568.7" cy="509.0" r="1.8" fill="url(#gC)"/><circle cx="608.1" cy="509.4" r="1.8" fill="url(#gC)"/><circle cx="562.7" cy="509.9" r="1.8" fill="url(#gN)"/><circle cx="602.2" cy="510.3" r="1.8" fill="url(#gN)"/><circle cx="579.5" cy="510.6" r="1.8" fill="url(#gC)"/><circle cx="573.6" cy="511.5" r="1.8" fill="url(#gN)"/><circle cx="550.9" cy="511.8" r="1.8" fill="url(#gC)"/><circle cx="613.0" cy="511.9" r="1.8" fill="url(#gN)"/><circle cx="590.3" cy="512.2" r="1.8" fill="url(#gC)"/><circle cx="544.9" cy="512.7" r="1.8" fill="url(#gN)"/><circle cx="584.4" cy="513.1" r="1.8" fill="url(#gN)"/><circle cx="601.2" cy="513.8" r="1.8" fill="url(#gC)"/><circle cx="555.8" cy="514.3" r="1.8" fill="url(#gN)"/><circle cx="595.2" cy="514.7" r="1.8" fill="url(#gN)"/><circle cx="612.0" cy="515.4" r="1.8" fill="url(#gC)"/><circle cx="543.9" cy="516.1" r="1.8" fill="url(#gC)"/><circle cx="606.1" cy="516.3" r="1.8" fill="url(#gN)"/><circle cx="583.4" cy="516.6" r="1.8" fill="url(#gC)"/><circle cx="538.0" cy="517.1" r="1.8" fill="url(#gN)"/><circle cx="622.2" cy="517.1" r="1.8900000000000001" fill="url(#gC)"/><circle cx="577.4" cy="517.5" r="1.8" fill="url(#gN)"/><circle cx="554.7" cy="517.7" r="1.8" fill="url(#gC)"/><circle cx="616.9" cy="517.9" r="1.8" fill="url(#gN)"/><circle cx="548.8" cy="518.7" r="1.8" fill="url(#gN)"/><circle cx="588.3" cy="519.1" r="1.8" fill="url(#gN)"/><circle cx="526.6" cy="519.2" r="1.8900000000000001" fill="url(#gC)"/><circle cx="559.7" cy="520.3" r="1.8" fill="url(#gN)"/><circle cx="537.0" cy="520.5" r="1.8" fill="url(#gC)"/><circle cx="576.4" cy="521.0" r="1.8" fill="url(#gC)"/><circle cx="615.9" cy="521.0" r="1.8900000000000001" fill="url(#gC)"/><circle cx="531.0" cy="521.5" r="1.8" fill="url(#gN)"/><circle cx="570.5" cy="521.9" r="1.8" fill="url(#gN)"/><circle cx="547.8" cy="522.1" r="1.8" fill="url(#gC)"/><circle cx="587.2" cy="522.6" r="1.8" fill="url(#gC)"/><circle cx="541.9" cy="523.1" r="1.8" fill="url(#gN)"/><circle cx="581.3" cy="523.5" r="1.8" fill="url(#gN)"/><circle cx="558.6" cy="523.7" r="1.8" fill="url(#gC)"/><circle cx="530.1" cy="524.6" r="1.8900000000000001" fill="url(#gC)"/><circle cx="552.7" cy="524.7" r="1.8" fill="url(#gN)"/><circle cx="592.2" cy="525.1" r="1.8" fill="url(#gN)"/><circle cx="569.5" cy="525.3" r="1.8" fill="url(#gC)"/><circle cx="563.5" cy="526.3" r="1.8" fill="url(#gN)"/><circle cx="580.3" cy="526.9" r="1.8" fill="url(#gC)"/><circle cx="574.4" cy="527.9" r="1.8" fill="url(#gN)"/><circle cx="591.1" cy="528.6" r="1.8" fill="url(#gC)"/><circle cx="585.2" cy="529.5" r="1.8" fill="url(#gN)"/><circle cx="601.4" cy="530.3" r="1.8900000000000001" fill="url(#gC)"/><circle cx="596.1" cy="531.1" r="1.8" fill="url(#gN)"/><circle cx="595.1" cy="534.2" r="1.8900000000000001" fill="url(#gC)"/>
<path d="M897.3,512.4L892.1,509.7M892.1,509.7L893.2,506.1M893.2,506.1L899.5,505.1M899.5,505.1L904.8,507.8M904.8,507.8L903.7,511.4M903.7,511.4L897.3,512.4M885.7,510.7L880.4,508.0M880.4,508.0L881.5,504.4M881.5,504.4L887.9,503.4M887.9,503.4L893.2,506.1M892.1,509.7L885.7,510.7M887.9,503.4L889.0,499.7M889.0,499.7L895.4,498.8M895.4,498.8L900.6,501.4M900.6,501.4L899.5,505.1M932.3,517.5L927.0,514.8M927.0,514.8L928.1,511.2M928.1,511.2L934.5,510.2M934.5,510.2L939.7,512.9M939.7,512.9L938.6,516.5M938.6,516.5L932.3,517.5M920.6,515.8L915.3,513.1M915.3,513.1L916.4,509.5M916.4,509.5L922.8,508.5M922.8,508.5L928.1,511.2M927.0,514.8L920.6,515.8M922.8,508.5L923.9,504.8M923.9,504.8L930.3,503.9M930.3,503.9L935.6,506.5M935.6,506.5L934.5,510.2M874.9,526.3L869.6,523.6M869.6,523.6L870.7,520.0M870.7,520.0L877.1,519.0M877.1,519.0L882.4,521.7M882.4,521.7L881.3,525.3M881.3,525.3L874.9,526.3M863.3,524.6L858.0,521.9M858.0,521.9L859.1,518.3M859.1,518.3L865.5,517.3M865.5,517.3L870.7,520.0M869.6,523.6L863.3,524.6M865.5,517.3L866.6,513.7M866.6,513.7L872.9,512.7M872.9,512.7L878.2,515.3M878.2,515.3L877.1,519.0M909.8,531.4L904.6,528.7M904.6,528.7L905.7,525.1M905.7,525.1L912.0,524.1M912.0,524.1L917.3,526.8M917.3,526.8L916.2,530.4M916.2,530.4L909.8,531.4M898.2,529.7L892.9,527.0M892.9,527.0L894.0,523.4M894.0,523.4L900.4,522.4M900.4,522.4L905.7,525.1M904.6,528.7L898.2,529.7M900.4,522.4L901.5,518.7M901.5,518.7L907.9,517.8M907.9,517.8L913.1,520.4M913.1,520.4L912.0,524.1M919.7,498.5L914.5,495.8M914.5,495.8L915.6,492.2M915.6,492.2L921.9,491.2M921.9,491.2L927.2,493.9M927.2,493.9L926.1,497.5M926.1,497.5L919.7,498.5M908.1,496.8L902.8,494.1M902.8,494.1L903.9,490.5M903.9,490.5L910.3,489.5M910.3,489.5L915.6,492.2M914.5,495.8L908.1,496.8M910.3,489.5L911.4,485.8M911.4,485.8L917.8,484.9M917.8,484.9L923.0,487.5M923.0,487.5L921.9,491.2M862.4,507.3L857.1,504.6M857.1,504.6L858.2,501.0M858.2,501.0L864.6,500.0M864.6,500.0L869.9,502.7M869.9,502.7L868.8,506.3M868.8,506.3L862.4,507.3M850.8,505.6L845.5,502.9M845.5,502.9L846.6,499.3M846.6,499.3L853.0,498.3M853.0,498.3L858.2,501.0M857.1,504.6L850.8,505.6M853.0,498.3L854.1,494.7M854.1,494.7L860.4,493.7M860.4,493.7L865.7,496.4M865.7,496.4L864.6,500.0M884.8,493.4L879.5,490.7M879.5,490.7L880.6,487.1M880.6,487.1L887.0,486.1M887.0,486.1L892.3,488.8M892.3,488.8L891.2,492.4M891.2,492.4L884.8,493.4M873.2,491.7L867.9,489.0M867.9,489.0L869.0,485.4M869.0,485.4L875.4,484.4M875.4,484.4L880.6,487.1M879.5,490.7L873.2,491.7M875.4,484.4L876.5,480.7M876.5,480.7L882.8,479.8M882.8,479.8L888.1,482.4M888.1,482.4L887.0,486.1M903.7,511.4L909.0,514.1M915.3,513.1L909.0,514.1M907.9,517.8L909.0,514.1M880.4,508.0L874.0,509.0M872.9,512.7L874.0,509.0M868.8,506.3L874.0,509.0M895.4,498.8L896.5,495.1M902.8,494.1L896.5,495.1M891.2,492.4L896.5,495.1M938.6,516.5L943.9,519.2M943.9,519.2L942.9,522.5M943.9,519.2L949.6,518.3M930.3,503.9L931.4,500.2M926.1,497.5L931.4,500.2M881.3,525.3L886.6,528.0M892.9,527.0L886.6,528.0M858.0,521.9L851.6,522.9M851.6,522.9L846.9,520.5M851.6,522.9L850.6,526.2M916.2,530.4L921.5,533.1M921.5,533.1L920.5,536.4M921.5,533.1L927.2,532.2M917.8,484.9L918.9,481.2M918.9,481.2L924.6,480.3M918.9,481.2L914.1,478.8M845.5,502.9L839.1,503.9M839.1,503.9L834.4,501.5M839.1,503.9L838.2,507.2M860.4,493.7L861.5,490.0M867.9,489.0L861.5,490.0M882.8,479.8L883.9,476.1M883.9,476.1L889.7,475.2M883.9,476.1L879.2,473.7" stroke="#9a9aa8" stroke-width="0.9" fill="none"/><circle cx="879.2" cy="473.7" r="1.8900000000000001" fill="url(#gC)"/><circle cx="889.7" cy="475.2" r="1.8900000000000001" fill="url(#gC)"/><circle cx="883.9" cy="476.1" r="1.8" fill="url(#gN)"/><circle cx="914.1" cy="478.8" r="1.8900000000000001" fill="url(#gC)"/><circle cx="882.8" cy="479.8" r="1.8" fill="url(#gC)"/><circle cx="924.6" cy="480.3" r="1.8900000000000001" fill="url(#gC)"/><circle cx="876.5" cy="480.7" r="1.8" fill="url(#gN)"/><circle cx="918.9" cy="481.2" r="1.8" fill="url(#gN)"/><circle cx="888.1" cy="482.4" r="1.8" fill="url(#gN)"/><circle cx="875.4" cy="484.4" r="1.8" fill="url(#gC)"/><circle cx="917.8" cy="484.9" r="1.8" fill="url(#gC)"/><circle cx="869.0" cy="485.4" r="1.8" fill="url(#gN)"/><circle cx="911.4" cy="485.8" r="1.8" fill="url(#gN)"/><circle cx="887.0" cy="486.1" r="1.8" fill="url(#gC)"/><circle cx="880.6" cy="487.1" r="1.8" fill="url(#gN)"/><circle cx="923.0" cy="487.5" r="1.8" fill="url(#gN)"/><circle cx="892.3" cy="488.8" r="1.8" fill="url(#gN)"/><circle cx="867.9" cy="489.0" r="1.8" fill="url(#gC)"/><circle cx="910.3" cy="489.5" r="1.8" fill="url(#gC)"/><circle cx="861.5" cy="490.0" r="1.8" fill="url(#gN)"/><circle cx="903.9" cy="490.5" r="1.8" fill="url(#gN)"/><circle cx="879.5" cy="490.7" r="1.8" fill="url(#gC)"/><circle cx="921.9" cy="491.2" r="1.8" fill="url(#gC)"/><circle cx="873.2" cy="491.7" r="1.8" fill="url(#gN)"/><circle cx="915.6" cy="492.2" r="1.8" fill="url(#gN)"/><circle cx="891.2" cy="492.4" r="1.8" fill="url(#gC)"/><circle cx="884.8" cy="493.4" r="1.8" fill="url(#gN)"/><circle cx="860.4" cy="493.7" r="1.8" fill="url(#gC)"/><circle cx="927.2" cy="493.9" r="1.8" fill="url(#gN)"/><circle cx="902.8" cy="494.1" r="1.8" fill="url(#gC)"/><circle cx="854.1" cy="494.7" r="1.8" fill="url(#gN)"/><circle cx="896.5" cy="495.1" r="1.8" fill="url(#gN)"/><circle cx="914.5" cy="495.8" r="1.8" fill="url(#gC)"/><circle cx="865.7" cy="496.4" r="1.8" fill="url(#gN)"/><circle cx="908.1" cy="496.8" r="1.8" fill="url(#gN)"/><circle cx="926.1" cy="497.5" r="1.8" fill="url(#gC)"/><circle cx="853.0" cy="498.3" r="1.8" fill="url(#gC)"/><circle cx="919.7" cy="498.5" r="1.8" fill="url(#gN)"/><circle cx="895.4" cy="498.8" r="1.8" fill="url(#gC)"/><circle cx="846.6" cy="499.3" r="1.8" fill="url(#gN)"/><circle cx="889.0" cy="499.7" r="1.8" fill="url(#gN)"/><circle cx="864.6" cy="500.0" r="1.8" fill="url(#gC)"/><circle cx="931.4" cy="500.2" r="1.8" fill="url(#gN)"/><circle cx="858.2" cy="501.0" r="1.8" fill="url(#gN)"/><circle cx="900.6" cy="501.4" r="1.8" fill="url(#gN)"/><circle cx="834.4" cy="501.5" r="1.8900000000000001" fill="url(#gC)"/><circle cx="869.9" cy="502.7" r="1.8" fill="url(#gN)"/><circle cx="845.5" cy="502.9" r="1.8" fill="url(#gC)"/><circle cx="887.9" cy="503.4" r="1.8" fill="url(#gC)"/><circle cx="930.3" cy="503.9" r="1.8" fill="url(#gC)"/><circle cx="839.1" cy="503.9" r="1.8" fill="url(#gN)"/><circle cx="881.5" cy="504.4" r="1.8" fill="url(#gN)"/><circle cx="857.1" cy="504.6" r="1.8" fill="url(#gC)"/><circle cx="923.9" cy="504.8" r="1.8" fill="url(#gN)"/><circle cx="899.5" cy="505.1" r="1.8" fill="url(#gC)"/><circle cx="850.8" cy="505.6" r="1.8" fill="url(#gN)"/><circle cx="893.2" cy="506.1" r="1.8" fill="url(#gN)"/><circle cx="868.8" cy="506.3" r="1.8" fill="url(#gC)"/><circle cx="935.6" cy="506.5" r="1.8" fill="url(#gN)"/><circle cx="838.2" cy="507.2" r="1.8900000000000001" fill="url(#gC)"/><circle cx="862.4" cy="507.3" r="1.8" fill="url(#gN)"/><circle cx="904.8" cy="507.8" r="1.8" fill="url(#gN)"/><circle cx="880.4" cy="508.0" r="1.8" fill="url(#gC)"/><circle cx="922.8" cy="508.5" r="1.8" fill="url(#gC)"/><circle cx="874.0" cy="509.0" r="1.8" fill="url(#gN)"/><circle cx="916.4" cy="509.5" r="1.8" fill="url(#gN)"/><circle cx="892.1" cy="509.7" r="1.8" fill="url(#gC)"/><circle cx="934.5" cy="510.2" r="1.8" fill="url(#gC)"/><circle cx="885.7" cy="510.7" r="1.8" fill="url(#gN)"/><circle cx="928.1" cy="511.2" r="1.8" fill="url(#gN)"/><circle cx="903.7" cy="511.4" r="1.8" fill="url(#gC)"/><circle cx="897.3" cy="512.4" r="1.8" fill="url(#gN)"/><circle cx="872.9" cy="512.7" r="1.8" fill="url(#gC)"/><circle cx="939.7" cy="512.9" r="1.8" fill="url(#gN)"/><circle cx="915.3" cy="513.1" r="1.8" fill="url(#gC)"/><circle cx="866.6" cy="513.7" r="1.8" fill="url(#gN)"/><circle cx="909.0" cy="514.1" r="1.8" fill="url(#gN)"/><circle cx="927.0" cy="514.8" r="1.8" fill="url(#gC)"/><circle cx="878.2" cy="515.3" r="1.8" fill="url(#gN)"/><circle cx="920.6" cy="515.8" r="1.8" fill="url(#gN)"/><circle cx="938.6" cy="516.5" r="1.8" fill="url(#gC)"/><circle cx="865.5" cy="517.3" r="1.8" fill="url(#gC)"/><circle cx="932.3" cy="517.5" r="1.8" fill="url(#gN)"/><circle cx="907.9" cy="517.8" r="1.8" fill="url(#gC)"/><circle cx="859.1" cy="518.3" r="1.8" fill="url(#gN)"/><circle cx="949.6" cy="518.3" r="1.8900000000000001" fill="url(#gC)"/><circle cx="901.5" cy="518.7" r="1.8" fill="url(#gN)"/><circle cx="877.1" cy="519.0" r="1.8" fill="url(#gC)"/><circle cx="943.9" cy="519.2" r="1.8" fill="url(#gN)"/><circle cx="870.7" cy="520.0" r="1.8" fill="url(#gN)"/><circle cx="913.1" cy="520.4" r="1.8" fill="url(#gN)"/><circle cx="846.9" cy="520.5" r="1.8900000000000001" fill="url(#gC)"/><circle cx="882.4" cy="521.7" r="1.8" fill="url(#gN)"/><circle cx="858.0" cy="521.9" r="1.8" fill="url(#gC)"/><circle cx="900.4" cy="522.4" r="1.8" fill="url(#gC)"/><circle cx="942.9" cy="522.5" r="1.8900000000000001" fill="url(#gC)"/><circle cx="851.6" cy="522.9" r="1.8" fill="url(#gN)"/><circle cx="894.0" cy="523.4" r="1.8" fill="url(#gN)"/><circle cx="869.6" cy="523.6" r="1.8" fill="url(#gC)"/><circle cx="912.0" cy="524.1" r="1.8" fill="url(#gC)"/><circle cx="863.3" cy="524.6" r="1.8" fill="url(#gN)"/><circle cx="905.7" cy="525.1" r="1.8" fill="url(#gN)"/><circle cx="881.3" cy="525.3" r="1.8" fill="url(#gC)"/><circle cx="850.6" cy="526.2" r="1.8900000000000001" fill="url(#gC)"/><circle cx="874.9" cy="526.3" r="1.8" fill="url(#gN)"/><circle cx="917.3" cy="526.8" r="1.8" fill="url(#gN)"/><circle cx="892.9" cy="527.0" r="1.8" fill="url(#gC)"/><circle cx="886.6" cy="528.0" r="1.8" fill="url(#gN)"/><circle cx="904.6" cy="528.7" r="1.8" fill="url(#gC)"/><circle cx="898.2" cy="529.7" r="1.8" fill="url(#gN)"/><circle cx="916.2" cy="530.4" r="1.8" fill="url(#gC)"/><circle cx="909.8" cy="531.4" r="1.8" fill="url(#gN)"/><circle cx="927.2" cy="532.2" r="1.8900000000000001" fill="url(#gC)"/><circle cx="921.5" cy="533.1" r="1.8" fill="url(#gN)"/><circle cx="920.5" cy="536.4" r="1.8900000000000001" fill="url(#gC)"/>
<path d="M918.9,474.7 L922.1,482.7 A3.2,1.0 0 0 1 915.6,482.7 Z" fill="url(#gConeY)"/>
<path d="M883.9,469.6 L887.2,477.6 A3.2,1.0 0 0 1 880.7,477.6 Z" fill="url(#gConeY)"/>
<path d="M865.7,489.9 L868.9,497.9 A3.2,1.0 0 0 1 862.4,497.9 Z" fill="url(#gConeY)"/>
<path d="M904.8,501.3 L908.0,509.3 A3.2,1.0 0 0 1 901.5,509.3 Z" fill="url(#gConeY)"/>
<path d="M869.0,478.9 L872.2,486.9 A3.2,1.0 0 0 1 865.7,486.9 Z" fill="url(#gConeY)"/>
<path d="M911.4,479.3 L914.6,487.3 A3.2,1.0 0 0 1 908.1,487.3 Z" fill="url(#gConeY)"/>
<path d="M858.2,494.5 L861.5,502.5 A3.2,1.0 0 0 1 855.0,502.5 Z" fill="url(#gConeY)"/>
<path d="M892.3,482.3 L895.5,490.3 A3.2,1.0 0 0 1 889.0,490.3 Z" fill="url(#gConeY)"/>
<path d="M839.1,497.4 L842.4,505.4 A3.2,1.0 0 0 1 835.9,505.4 Z" fill="url(#gConeY)"/>
<path d="M898.2,523.2 L901.4,531.2 A3.2,1.0 0 0 1 894.9,531.2 Z" fill="url(#gConeY)"/>
<path d="M928.1,504.7 L931.3,512.7 A3.2,1.0 0 0 1 924.8,512.7 Z" fill="url(#gConeY)"/>
<path d="M908.1,490.3 L911.3,498.3 A3.2,1.0 0 0 1 904.8,498.3 Z" fill="url(#gConeY)"/>
<path d="M870.7,513.5 L874.0,521.5 A3.2,1.0 0 0 1 867.5,521.5 Z" fill="url(#gConeY)"/>
<path d="M861.5,483.5 L864.8,491.5 A3.2,1.0 0 0 1 858.3,491.5 Z" fill="url(#gConeY)"/>
<path d="M736.1,497.1 L754.7,527.7 A18.05,5.5 0 0 1 718.6,527.7 Z" fill="url(#gConeY)"/>
<path d="M147.15,602.62 L168.11,611.09 L171.25,633.47 L153.45,647.38 L132.49,638.91 L129.35,616.53 Z" fill="none" stroke="#111" stroke-width="2.0" stroke-linejoin="round"/>
<path d="M149.8,607.9L162.5,613.1M165.4,633.1L154.5,641.6M135.8,634.0L133.8,620.4" stroke="#111" stroke-width="2.0"/>
<path d="M168.1,611.1 L181.5,601.5 M132.5,638.9 L122,647" stroke="#111" stroke-width="2"/>
<text x="180.60" y="603.20" font-family="Liberation Serif" font-size="16.50" font-weight="bold" fill="#e0141c"><tspan dy="0" font-size="16.50">OPO</tspan><tspan dy="3.5" font-size="11.55">3</tspan><tspan dy="-11" font-size="11.55">2-</tspan></text>
<text x="86.20" y="660.70" font-family="Liberation Serif" font-size="16.50" font-weight="bold" fill="#111"><tspan dy="0" font-size="16.50">H</tspan><tspan dy="3.5" font-size="11.55">2</tspan><tspan dy="-3.5" font-size="16.50">N</tspan></text>
<path d="M297.20,628.50 L317.12,640.00 L317.12,663.00 L297.20,674.50 L277.28,663.00 L277.28,640.00 Z" fill="none" stroke="#111" stroke-width="2.0" stroke-linejoin="round"/>
<path d="M299.1,634.2L311.2,641.2M311.2,661.8L299.1,668.8M281.3,658.5L281.3,644.5" stroke="#111" stroke-width="2.0"/>
<path d="M317.1,640.0 L331,632.7 M277.3,663.0 L263,670.5" stroke="#111" stroke-width="2"/>
<text x="331.00" y="634.80" font-family="Liberation Serif" font-size="16.50" font-weight="bold" fill="#e0141c"><tspan dy="0" font-size="16.50">OH</tspan></text>
<text x="226.00" y="681.50" font-family="Liberation Serif" font-size="16.50" font-weight="bold" fill="#111"><tspan dy="0" font-size="16.50">H</tspan><tspan dy="3.5" font-size="11.55">2</tspan><tspan dy="-3.5" font-size="16.50">N</tspan></text>
<text x="329.50" y="689.90" font-family="Liberation Serif" font-size="16.50" font-weight="bold" fill="#111"><tspan dy="0" font-size="16.50">H</tspan><tspan dy="3.5" font-size="11.55">2</tspan><tspan dy="-3.5" font-size="16.50">N</tspan></text>
<path d="M363.2,683.3 L378.3,681.1 L393.3,696.1 L407.6,694.9" fill="none" stroke="#111" stroke-width="2"/>
<text x="408.60" y="699.60" font-family="Liberation Serif" font-size="16.50" font-weight="bold" fill="#111"><tspan dy="0" font-size="16.50">NH</tspan><tspan dy="3.5" font-size="11.55">2</tspan></text>
<path d="M146.74,651.88 L146.94,652.55 L147.09,653.46 L147.24,654.74 L147.41,656.28 L147.62,658.03 L147.91,659.93 L148.30,661.95 L148.83,664.04 L149.54,666.19 L150.45,668.25 L151.46,670.13 L152.55,671.98 L153.76,673.87 L155.07,675.78 L156.49,677.69 L158.00,679.58 L159.60,681.44 L161.29,683.23 L163.07,684.94 L164.91,686.54 L166.84,688.03 L168.85,689.44 L170.95,690.76 L173.11,692.02 L175.32,693.20 L177.57,694.30 L179.84,695.33 L182.13,696.28 L184.40,697.14 L186.67,697.93 L188.96,698.63 L191.28,699.23 L193.61,699.74 L195.95,700.17 L198.28,700.52 L200.61,700.81 L202.92,701.05 L205.22,701.24 L207.49,701.39 L209.75,701.51 L212.04,701.60 L214.37,701.65 L216.72,701.64 L219.06,701.59 L221.39,701.49 L223.70,701.34 L225.97,701.15 L228.18,700.92 L230.33,700.64 L232.41,700.31 L234.47,699.91 L236.49,699.40 L238.46,698.83 L240.35,698.21 L242.17,697.57 L243.91,696.92 L245.54,696.29 L247.06,695.69 L248.46,695.15 L249.73,694.68 L250.93,694.25 L252.06,693.83 L253.08,693.43 L254.02,693.06 L254.86,692.70 L255.61,692.38 L256.28,692.09 L256.86,691.84 L257.34,691.63 L257.76,691.46 L259.53,696.03 L277.70,692.70 L254.47,682.97 L256.24,687.54 L255.79,687.71 L255.26,687.91 L254.66,688.13 L254.00,688.38 L253.26,688.66 L252.45,688.95 L251.54,689.27 L250.55,689.60 L249.47,689.95 L248.27,690.32 L246.92,690.74 L245.45,691.22 L243.90,691.75 L242.27,692.29 L240.58,692.83 L238.83,693.35 L237.05,693.84 L235.24,694.27 L233.42,694.62 L231.59,694.89 L229.67,695.09 L227.66,695.25 L225.57,695.36 L223.42,695.43 L221.23,695.45 L219.02,695.43 L216.80,695.36 L214.59,695.25 L212.40,695.09 L210.25,694.89 L208.09,694.65 L205.92,694.38 L203.75,694.08 L201.60,693.74 L199.47,693.35 L197.36,692.91 L195.29,692.41 L193.26,691.84 L191.28,691.20 L189.33,690.47 L187.37,689.65 L185.38,688.75 L183.39,687.78 L181.42,686.73 L179.49,685.63 L177.62,684.47 L175.82,683.26 L174.12,682.02 L172.54,680.74 L171.09,679.46 L169.73,678.11 L168.42,676.64 L167.15,675.08 L165.94,673.44 L164.80,671.76 L163.74,670.06 L162.77,668.37 L161.90,666.72 L161.14,665.14 L160.55,663.75 L160.15,662.54 L159.87,661.28 L159.68,659.92 L159.56,658.49 L159.52,657.04 L159.52,655.61 L159.56,654.23 L159.61,652.90 L159.64,651.59 L159.66,650.52 Z" fill="url(#gYA)"/>
<path d="M315.12,677.46 L315.44,678.32 L315.71,679.51 L316.03,681.13 L316.40,683.05 L316.83,685.18 L317.37,687.47 L318.05,689.85 L318.91,692.27 L320.00,694.68 L321.35,696.94 L322.84,698.92 L324.42,700.75 L326.13,702.50 L327.94,704.20 L329.86,705.83 L331.87,707.40 L333.95,708.91 L336.10,710.36 L338.30,711.74 L340.54,713.06 L342.87,714.34 L345.32,715.58 L347.86,716.79 L350.48,717.94 L353.17,719.04 L355.91,720.08 L358.68,721.04 L361.46,721.91 L364.25,722.70 L367.02,723.38 L369.82,723.96 L372.66,724.44 L375.54,724.83 L378.42,725.14 L381.30,725.37 L384.15,725.52 L386.97,725.61 L389.74,725.64 L392.44,725.62 L395.07,725.54 L397.69,725.39 L400.32,725.14 L402.92,724.81 L405.47,724.41 L407.95,723.96 L410.34,723.48 L412.62,722.98 L414.77,722.48 L416.77,722.00 L418.63,721.55 L420.37,721.10 L421.98,720.61 L423.45,720.10 L424.79,719.58 L426.01,719.06 L427.13,718.56 L428.16,718.09 L429.11,717.65 L430.01,717.25 L430.89,716.90 L431.79,716.55 L432.68,716.21 L433.53,715.89 L434.33,715.58 L435.08,715.30 L435.77,715.04 L436.39,714.80 L436.94,714.59 L437.42,714.41 L437.81,714.26 L439.19,718.12 L456.50,711.20 L434.81,705.88 L436.19,709.74 L435.80,709.87 L435.32,710.03 L434.76,710.22 L434.12,710.43 L433.42,710.66 L432.66,710.92 L431.85,711.19 L430.99,711.48 L430.08,711.78 L429.11,712.10 L428.10,712.47 L427.08,712.87 L426.07,713.28 L425.04,713.70 L423.99,714.12 L422.87,714.54 L421.68,714.94 L420.38,715.33 L418.96,715.70 L417.37,716.05 L415.55,716.40 L413.56,716.79 L411.45,717.18 L409.23,717.56 L406.93,717.92 L404.56,718.24 L402.16,718.51 L399.74,718.71 L397.33,718.83 L394.93,718.86 L392.47,718.81 L389.91,718.71 L387.29,718.56 L384.63,718.35 L381.95,718.07 L379.28,717.73 L376.62,717.32 L374.01,716.83 L371.46,716.26 L368.98,715.62 L366.52,714.88 L364.03,714.03 L361.53,713.09 L359.04,712.08 L356.58,711.00 L354.17,709.85 L351.84,708.66 L349.59,707.44 L347.46,706.20 L345.46,704.94 L343.54,703.65 L341.68,702.31 L339.89,700.93 L338.18,699.52 L336.57,698.08 L335.09,696.64 L333.73,695.19 L332.53,693.76 L331.48,692.35 L330.65,691.06 L330.05,689.83 L329.55,688.40 L329.13,686.76 L328.79,684.98 L328.54,683.14 L328.36,681.30 L328.22,679.51 L328.11,677.82 L327.99,676.22 L327.88,674.94 Z" fill="url(#gBA)"/>
<ellipse cx="484" cy="671" rx="74" ry="72" fill="url(#gGlow)"/>
<circle cx="466.9" cy="654.5" r="5.2" fill="url(#gDot)"/>
<circle cx="501.1" cy="661.7" r="5.2" fill="url(#gDot)"/>
<circle cx="457.0" cy="684.5" r="5.2" fill="url(#gDot)"/>
<circle cx="490.7" cy="688.7" r="5.2" fill="url(#gDot)"/>
<text x="464.68" y="619.70" font-family="Liberation Serif" font-size="18.23" font-weight="bold" fill="#000" >PCDs</text>
<path d="M395.9,601 L409,599 L414.5,612.5 L420,611.5 L426,623.5 L431,622.5 L442.5,636.6 L422,629 L418,630 L409,619 L404.5,620.5 Z" fill="#7020c0"/>
<text transform="translate(413 603) rotate(35)" font-family="Liberation Serif" font-weight="bold" font-style="italic" font-size="17" fill="#111">hv</text>
<path d="M573.5,606.5 L560,620 L563.5,620.5 L549,631 L553,632 L531.3,643.2 L541,628 L537.5,627.5 L550,617 L546.5,616.5 Z" fill="#4c9a3c"/>
<path d="M90.4,860.3 L198.3,843.6 L239.1,862.7 L139.2,881.1 Z" fill="#8aa2dc"/>
<path d="M90.4,860.3 L139.2,881.1 L139.2,885.5 L90.4,865.3 Z" fill="#3c5090"/>
<path d="M139.2,881.1 L239.1,862.7 L239.1,867 L139.2,885.5 Z" fill="#5470b4"/>
<path d="M145.6,822.8 L168.8,834 L188.7,821.2 M168.8,834 L170.2,858.5" fill="none" stroke="#1a10f0" stroke-width="9.5" stroke-linecap="round" stroke-linejoin="round"/>
<circle cx="165.6" cy="814.8" r="14.4" fill="#cac82a"/>
<path d="M167.2,764 L167.2,790 M167.2,790 C158,794 150,800 149,809.2 M167.2,790 C176,794 184,800 184.5,810.8" fill="none" stroke="#b8843c" stroke-width="9" stroke-linecap="round"/>
<path d="M162.5,768 L161,790 L173.5,790 L172,768 Z" fill="#b8843c"/>
<path d="M146.9,764.5 L162,756 C166,745 170,736 173.5,731 M177.5,758 L180.5,772 M181,732 C178,742 175.5,750 176,758" fill="none" stroke="#c4a2ca" stroke-width="7" stroke-linecap="round" stroke-linejoin="round"/>
<path d="M143,757.5 L159.5,753.5 M180,759 L190.5,768.5" fill="none" stroke="#9c7c9e" stroke-width="6" stroke-linecap="round"/>
<path d="M195.0,721.3 q3,-2 6,0 t6,1" fill="none" stroke="#b8dcd0" stroke-width="0.8"/><path d="M204.5,717.7 q3,-2 6,0 t6,1" fill="none" stroke="#b8dcd0" stroke-width="0.8"/><path d="M196.2,722.3 q3,-2 6,0 t6,1" fill="none" stroke="#b8dcd0" stroke-width="0.8"/><path d="M189.7,719.5 q3,-2 6,0 t6,1" fill="none" stroke="#b8dcd0" stroke-width="0.8"/><path d="M198.6,730.1 q3,-2 6,0 t6,1" fill="none" stroke="#b8dcd0" stroke-width="0.8"/><path d="M187.9,711.5 q3,-2 6,0 t6,1" fill="none" stroke="#b8dcd0" stroke-width="0.8"/><path d="M187.8,730.8 q3,-2 6,0 t6,1" fill="none" stroke="#b8dcd0" stroke-width="0.8"/><path d="M199.9,701.6 q3,-2 6,0 t6,1" fill="none" stroke="#b8dcd0" stroke-width="0.8"/><path d="M205.6,736.7 q3,-2 6,0 t6,1" fill="none" stroke="#b8dcd0" stroke-width="0.8"/><path d="M199.1,723.4 q3,-2 6,0 t6,1" fill="none" stroke="#b8dcd0" stroke-width="0.8"/><path d="M189.1,700.6 q3,-2 6,0 t6,1" fill="none" stroke="#b8dcd0" stroke-width="0.8"/><path d="M196.6,702.3 q3,-2 6,0 t6,1" fill="none" stroke="#b8dcd0" stroke-width="0.8"/><path d="M189.8,709.2 q3,-2 6,0 t6,1" fill="none" stroke="#b8dcd0" stroke-width="0.8"/><path d="M186.6,717.6 q3,-2 6,0 t6,1" fill="none" stroke="#b8dcd0" stroke-width="0.8"/><path d="M194.8,732.0 q3,-2 6,0 t6,1" fill="none" stroke="#b8dcd0" stroke-width="0.8"/><path d="M196.4,724.3 q3,-2 6,0 t6,1" fill="none" stroke="#b8dcd0" stroke-width="0.8"/><path d="M196.0,725.2 q3,-2 6,0 t6,1" fill="none" stroke="#b8dcd0" stroke-width="0.8"/><path d="M195.1,710.6 q3,-2 6,0 t6,1" fill="none" stroke="#b8dcd0" stroke-width="0.8"/><path d="M174,704 L174.4,701.6 L177.8,702.8 L177.2,699.2 L180.6,700.4 L180.0,696.8" fill="none" stroke="#2a8a2a" stroke-width="2.4" stroke-linejoin="round"/><path d="M171,712 L171.1,709.2 L175.1,709.4 L173.9,705.6 L177.9,705.8 L176.7,702.0" fill="none" stroke="#1a1a9a" stroke-width="2.4" stroke-linejoin="round"/><path d="M176,716 L176.5,713.3 L180.3,713.9 L179.7,710.1 L183.5,710.7 L182.9,706.9" fill="none" stroke="#1c1cb0" stroke-width="2.4" stroke-linejoin="round"/><path d="M180,722 L180.9,718.9 L185.1,719.1 L184.9,714.9 L189.1,715.1 L188.9,710.9" fill="none" stroke="#2020a8" stroke-width="2.4" stroke-linejoin="round"/><path d="M178,728 L179.7,725.4 L183.5,727.0 L184.5,723.0 L188.3,724.6 L189.3,720.6" fill="none" stroke="#1a1aa0" stroke-width="2.4" stroke-linejoin="round"/><path d="M185,732 L186.8,729.5 L190.4,731.5 L191.6,727.5 L195.2,729.5 L196.4,725.5" fill="none" stroke="#1818a0" stroke-width="2.4" stroke-linejoin="round"/><path d="M183,710 L182.1,707.5 L185.7,706.5 L183.3,703.5 L186.9,702.5 L184.5,699.5" fill="none" stroke="#2830b8" stroke-width="2.4" stroke-linejoin="round"/><path d="M190,716 L189.3,713.6 L193.1,713.0 L190.9,710.0 L194.7,709.4 L192.5,706.4" fill="none" stroke="#2020a0" stroke-width="2.4" stroke-linejoin="round"/><path d="M188,735 L190.4,733.4 L192.8,736.6 L195.2,733.4 L197.6,736.6 L200.0,733.4" fill="none" stroke="#1a1a98" stroke-width="2.4" stroke-linejoin="round"/><path d="M170,720 L170.2,717.8 L173.4,719.2 L172.6,715.8 L175.8,717.2 L175.0,713.8" fill="none" stroke="#38a038" stroke-width="2.4" stroke-linejoin="round"/><path d="M194,726 L196.6,725.3 L197.4,729.1 L200.6,726.9 L201.4,730.7 L204.6,728.5" fill="none" stroke="#2a9a3a" stroke-width="2.4" stroke-linejoin="round"/><path d="M181,733 L182.9,732.7 L181.5,735.7 L184.5,734.3 L183.1,737.3 L186.1,735.9" fill="none" stroke="#2020b0" stroke-width="2.4" stroke-linejoin="round"/><circle cx="203.8" cy="717.6" r="1.3" fill="#2020a8"/><circle cx="182.3" cy="724.0" r="0.8" fill="#1a1a90"/><circle cx="181.4" cy="716.3" r="1.4" fill="#2020a8"/><circle cx="172.6" cy="732.8" r="0.9" fill="#2020a8"/><circle cx="185.8" cy="716.7" r="1.5" fill="#30a030"/><circle cx="182.1" cy="720.1" r="1.3" fill="#2830c0"/><circle cx="183.7" cy="721.8" r="0.8" fill="#1a1a90"/><circle cx="172.5" cy="728.9" r="1.0" fill="#2830c0"/><circle cx="185.7" cy="719.9" r="0.9" fill="#30a030"/><circle cx="177.9" cy="714.4" r="1.5" fill="#2830c0"/><circle cx="184.8" cy="708.7" r="0.9" fill="#30a030"/><circle cx="180.4" cy="721.0" r="1.4" fill="#1a1a90"/><circle cx="191.9" cy="716.1" r="0.9" fill="#2020a8"/><circle cx="174.7" cy="728.9" r="0.9" fill="#2c64c0"/><circle cx="188.1" cy="717.6" r="0.8" fill="#1a1a90"/><circle cx="175.3" cy="707.2" r="0.9" fill="#30a030"/><circle cx="190.7" cy="724.4" r="0.8" fill="#2830c0"/><circle cx="178.3" cy="727.2" r="1.5" fill="#2830c0"/><circle cx="176.2" cy="719.2" r="0.9" fill="#30a030"/><circle cx="191.4" cy="734.2" r="1.0" fill="#2c64c0"/><circle cx="187.6" cy="731.7" r="0.9" fill="#2c64c0"/><circle cx="195.8" cy="712.3" r="0.9" fill="#2c64c0"/><circle cx="186.8" cy="719.3" r="1.5" fill="#2c64c0"/><circle cx="184.7" cy="732.0" r="1.1" fill="#1a1a90"/><circle cx="189.8" cy="712.1" r="0.9" fill="#2c64c0"/><circle cx="183.6" cy="714.7" r="1.1" fill="#2830c0"/><circle cx="179.3" cy="707.8" r="1.0" fill="#2020a8"/><circle cx="187.5" cy="715.0" r="0.8" fill="#2020a8"/><circle cx="180.1" cy="721.6" r="0.9" fill="#2020a8"/><circle cx="178.7" cy="726.6" r="0.9" fill="#2830c0"/><circle cx="188.2" cy="725.5" r="1.3" fill="#1a1a90"/><circle cx="181.1" cy="706.9" r="1.2" fill="#2830c0"/><circle cx="190.0" cy="713.3" r="1.3" fill="#1a1a90"/><circle cx="185.2" cy="717.6" r="1.1" fill="#2020a8"/><circle cx="183.4" cy="710.2" r="0.9" fill="#2020a8"/><circle cx="174.6" cy="713.8" r="1.4" fill="#2830c0"/><circle cx="188.8" cy="713.7" r="1.4" fill="#30a030"/><circle cx="188.3" cy="711.2" r="1.4" fill="#2020a8"/><circle cx="176.5" cy="712.4" r="1.1" fill="#30a030"/><circle cx="186.3" cy="718.3" r="1.2" fill="#2020a8"/>
<path d="M190.2,717.9 H276.4" stroke="#5070b0" stroke-width="1.8"/>
<path d="M183.6,751.1 H276.4" stroke="#703030" stroke-width="1.8"/>
<path d="M178.4,782.0 H276.4" stroke="#c06830" stroke-width="1.8"/>
<path d="M180,814.3 H276.4" stroke="#d0c840" stroke-width="1.8"/>
<path d="M179.2,841.2 H276.4" stroke="#1a1ae0" stroke-width="1.8"/>
<text x="283.02" y="727.20" font-family="Liberation Serif" font-size="18.09" font-weight="bold" fill="#3c3c22" >ALP</text>
<text x="282.24" y="759.40" font-family="Liberation Serif" font-size="18.23" font-weight="bold" fill="#7a2828" >Second antibody</text>
<text x="282.88" y="790.00" font-family="Liberation Serif" font-size="18.01" font-weight="bold" fill="#c86a22" >Primary antibody</text>
<text x="282.93" y="822.00" font-family="Liberation Serif" font-size="17.99" font-weight="bold" fill="#7a7a60" >Target analyte</text>
<text x="282.34" y="849.20" font-family="Liberation Serif" font-size="18.03" font-weight="bold" fill="#1a1ae8" >Capture antibody</text></svg></body></html>
